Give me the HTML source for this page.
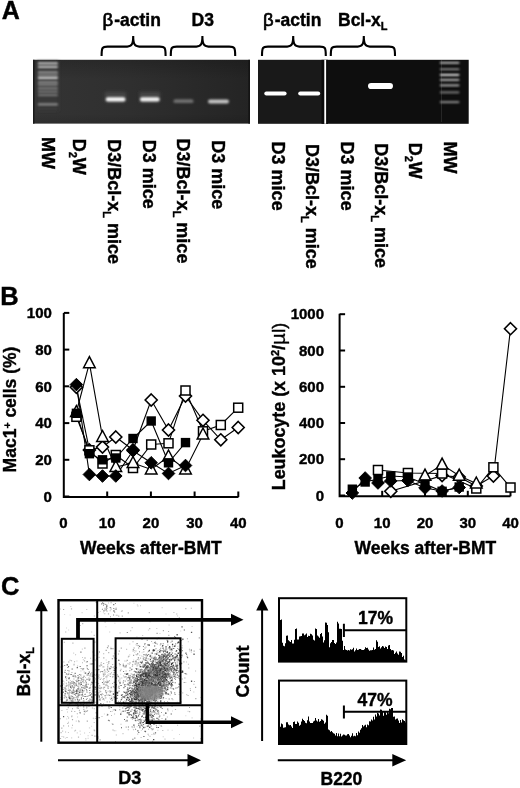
<!DOCTYPE html><html><head><meta charset="utf-8"><style>html,body{margin:0;padding:0;background:#fff;}svg{display:block;will-change:transform;}text{font-family:"Liberation Sans",sans-serif;font-weight:bold;fill:#000;stroke:#000;stroke-width:0.4px;}</style></head><body><svg width="520" height="788" viewBox="0 0 520 788"><text x="1.7" y="19.4" font-size="25">A</text><path d="M101.6,56 C101.6,47.6 102.1,46.6 107.6,46.6 L127.19999999999999,46.6 C131.7,46.6 133.2,44.1 133.2,36 C133.2,44.1 134.7,46.6 139.2,46.6 L159.6,46.6 C165.1,46.6 165.6,47.6 165.6,56" fill="none" stroke="#000" stroke-width="2.1"/><path d="M170.8,56 C170.8,47.6 171.3,46.6 176.8,46.6 L196.4,46.6 C200.9,46.6 202.4,44.1 202.4,36 C202.4,44.1 203.9,46.6 208.4,46.6 L229.2,46.6 C234.7,46.6 235.2,47.6 235.2,56" fill="none" stroke="#000" stroke-width="2.1"/><path d="M262,56 C262,47.6 262.5,46.6 268,46.6 L287.2,46.6 C291.7,46.6 293.2,44.1 293.2,36 C293.2,44.1 294.7,46.6 299.2,46.6 L319.8,46.6 C325.3,46.6 325.8,47.6 325.8,56" fill="none" stroke="#000" stroke-width="2.1"/><path d="M330.8,56 C330.8,47.6 331.3,46.6 336.8,46.6 L357.8,46.6 C362.3,46.6 363.8,44.1 363.8,36 C363.8,44.1 365.3,46.6 369.8,46.6 L389,46.6 C394.5,46.6 395,47.6 395,56" fill="none" stroke="#000" stroke-width="2.1"/><text x="102.5" y="25.5" font-size="17.5"><tspan font-weight="normal" font-size="18.5" stroke-width="0.7">β</tspan><tspan dx="1">-actin</tspan></text><text x="191.5" y="25.5" font-size="17.5">D3</text><text x="263" y="25.5" font-size="17.5"><tspan font-weight="normal" font-size="18.5" stroke-width="0.7">β</tspan><tspan dx="1">-actin</tspan></text><text x="338" y="25.5" font-size="17.5">Bcl-x<tspan font-size="11" dy="4.5">L</tspan></text><defs><filter id="b1" x="-50%" y="-100%" width="200%" height="300%"><feGaussianBlur stdDeviation="1.1"/></filter><filter id="b2" x="-50%" y="-100%" width="200%" height="300%"><feGaussianBlur stdDeviation="0.7"/></filter></defs><defs><linearGradient id="g1" x1="0" y1="0" x2="1" y2="0"><stop offset="0" stop-color="#343434"/><stop offset="0.45" stop-color="#2f2f2f"/><stop offset="1" stop-color="#242424"/></linearGradient><linearGradient id="g2" x1="0" y1="0" x2="0" y2="1"><stop offset="0" stop-color="#000" stop-opacity="0.18"/><stop offset="0.3" stop-color="#000" stop-opacity="0"/><stop offset="0.85" stop-color="#000" stop-opacity="0"/><stop offset="1" stop-color="#000" stop-opacity="0.12"/></linearGradient></defs><rect x="33" y="59.8" width="217" height="63.8" fill="url(#g1)"/><rect x="33" y="59.8" width="217" height="63.8" fill="url(#g2)"/><rect x="33" y="59.8" width="1.5" height="63.8" fill="#1a1a1a"/><rect x="248.3" y="59.8" width="1.7" height="63.8" fill="#141414"/><rect x="258" y="59.8" width="67" height="64" fill="#191919"/><rect x="325" y="59.8" width="143.7" height="64" fill="#0e0e0e"/><rect x="321.5" y="59.8" width="6.5" height="64" fill="#0a0a0a"/><rect x="324.3" y="59.8" width="1.8" height="64" fill="#fff"/><defs><filter id="b3" x="-50%" y="-50%" width="200%" height="200%"><feGaussianBlur stdDeviation="1.6"/></filter><filter id="b4" x="-50%" y="-100%" width="200%" height="300%"><feGaussianBlur stdDeviation="0.8 0.9"/></filter></defs><rect x="37" y="61" width="21.5" height="50" fill="#383838" filter="url(#b3)"/><rect x="37.8" y="62.6" width="20.200000000000003" height="1.7" rx="1" fill="rgb(225,225,225)" filter="url(#b4)"/><rect x="37.8" y="66.0" width="20.200000000000003" height="1.7" rx="1" fill="rgb(225,225,225)" filter="url(#b4)"/><rect x="37.8" y="71.6" width="20.200000000000003" height="1.7" rx="1" fill="rgb(170,170,170)" filter="url(#b4)"/><rect x="37.8" y="74.4" width="20.200000000000003" height="1.7" rx="1" fill="rgb(160,160,160)" filter="url(#b4)"/><rect x="37.8" y="77.1" width="20.200000000000003" height="1.7" rx="1" fill="rgb(250,250,250)" filter="url(#b4)"/><rect x="37.8" y="81.4" width="20.200000000000003" height="1.7" rx="1" fill="rgb(170,170,170)" filter="url(#b4)"/><rect x="37.8" y="83.7" width="20.200000000000003" height="1.7" rx="1" fill="rgb(150,150,150)" filter="url(#b4)"/><rect x="37.8" y="87.6" width="20.200000000000003" height="1.7" rx="1" fill="rgb(145,145,145)" filter="url(#b4)"/><rect x="37.8" y="90.8" width="20.200000000000003" height="1.7" rx="1" fill="rgb(135,135,135)" filter="url(#b4)"/><rect x="37.8" y="94.2" width="20.200000000000003" height="1.7" rx="1" fill="rgb(130,130,130)" filter="url(#b4)"/><rect x="37.8" y="103.6" width="20.200000000000003" height="1.7" rx="1" fill="rgb(160,160,160)" filter="url(#b4)"/><rect x="441" y="60" width="0.8" height="62" fill="#2e2e2e"/><rect x="439.8" y="61.9" width="19.69999999999999" height="1.7" rx="1" fill="rgb(235,235,235)" filter="url(#b4)"/><rect x="439.8" y="68.4" width="19.69999999999999" height="1.7" rx="1" fill="rgb(170,170,170)" filter="url(#b4)"/><rect x="439.8" y="74.0" width="19.69999999999999" height="1.7" rx="1" fill="rgb(255,255,255)" filter="url(#b4)"/><rect x="439.8" y="79.0" width="19.69999999999999" height="1.7" rx="1" fill="rgb(205,205,205)" filter="url(#b4)"/><rect x="439.8" y="84.5" width="19.69999999999999" height="1.7" rx="1" fill="rgb(195,195,195)" filter="url(#b4)"/><rect x="439.8" y="91.5" width="19.69999999999999" height="1.7" rx="1" fill="rgb(140,140,140)" filter="url(#b4)"/><rect x="439.8" y="101.2" width="19.69999999999999" height="1.7" rx="1" fill="rgb(160,160,160)" filter="url(#b4)"/><rect x="105" y="92" width="21" height="10" fill="#444" filter="url(#b3)"/><rect x="139.5" y="92" width="20.5" height="10" fill="#444" filter="url(#b3)"/><rect x="105.8" y="97.30000000000001" width="19.60000000000001" height="4.2" rx="2.1" fill="#f6f6f6" filter="url(#b1)"/><rect x="140" y="97.30000000000001" width="19.599999999999994" height="4.2" rx="2.1" fill="#f2f2f2" filter="url(#b1)"/><rect x="173.5" y="99.3" width="20.0" height="3.8" rx="1.9" fill="#707070" filter="url(#b1)"/><rect x="208" y="99.5" width="21" height="4" rx="2.0" fill="#c4c4c4" filter="url(#b1)"/><rect x="264.3" y="91.4" width="22.30000000000001" height="4.2" rx="2.1" fill="#fff" filter="url(#b2)"/><rect x="298.2" y="91.4" width="22.0" height="4.2" rx="2.1" fill="#fff" filter="url(#b2)"/><rect x="368" y="82.9" width="25" height="6.2" rx="3.1" fill="#fff" filter="url(#b2)"/><text transform="translate(42.0,137.0) rotate(90)" font-size="18">MW</text><text transform="translate(72.6,138.7) rotate(90)" font-size="18">D<tspan font-size="11" dy="3.6">2</tspan><tspan dy="-3.6">W</tspan></text><text transform="translate(107.9,139.3) rotate(90)" font-size="18">D3/Bcl-x<tspan font-size="11" dy="4.4">L</tspan><tspan dy="-4.4"> mice</tspan></text><text transform="translate(142.5,139.8) rotate(90)" font-size="18">D3 mice</text><text transform="translate(177.2,138.6) rotate(90)" font-size="18">D3/Bcl-x<tspan font-size="11" dy="4.4">L</tspan><tspan dy="-4.4"> mice</tspan></text><text transform="translate(211.8,140.2) rotate(90)" font-size="18">D3 mice</text><text transform="translate(271.6,141.6) rotate(90)" font-size="18">D3 mice</text><text transform="translate(305.5,144.0) rotate(90)" font-size="18">D3/Bcl-x<tspan font-size="11" dy="4.4">L</tspan><tspan dy="-4.4"> mice</tspan></text><text transform="translate(340.5,141.6) rotate(90)" font-size="18">D3 mice</text><text transform="translate(375.2,143.3) rotate(90)" font-size="18">D3/Bcl-x<tspan font-size="11" dy="4.4">L</tspan><tspan dy="-4.4"> mice</tspan></text><text transform="translate(409.1,142.7) rotate(90)" font-size="18">D<tspan font-size="11" dy="3.6">2</tspan><tspan dy="-3.6">W</tspan></text><text transform="translate(443.5,141.6) rotate(90)" font-size="18">MW</text><text x="0.3" y="305" font-size="25.5">B</text><path d="M63.8,312.9 V497 H238.5" fill="none" stroke="#000" stroke-width="2"/><line x1="63.8" y1="496.5" x2="69.3" y2="496.5" stroke="#000" stroke-width="2"/><text x="51.9" y="501.7" font-size="15" text-anchor="end">0</text><line x1="63.8" y1="459.8" x2="69.3" y2="459.8" stroke="#000" stroke-width="2"/><text x="51.9" y="465.0" font-size="15" text-anchor="end">20</text><line x1="63.8" y1="423.1" x2="69.3" y2="423.1" stroke="#000" stroke-width="2"/><text x="51.9" y="428.3" font-size="15" text-anchor="end">40</text><line x1="63.8" y1="386.3" x2="69.3" y2="386.3" stroke="#000" stroke-width="2"/><text x="51.9" y="391.5" font-size="15" text-anchor="end">60</text><line x1="63.8" y1="349.6" x2="69.3" y2="349.6" stroke="#000" stroke-width="2"/><text x="51.9" y="354.8" font-size="15" text-anchor="end">80</text><line x1="63.8" y1="312.9" x2="69.3" y2="312.9" stroke="#000" stroke-width="2"/><text x="51.9" y="318.1" font-size="15" text-anchor="end">100</text><text x="63.5" y="528" font-size="15" text-anchor="middle">0</text><line x1="107.2" y1="497" x2="107.2" y2="491.5" stroke="#000" stroke-width="2"/><text x="107.2" y="528" font-size="15" text-anchor="middle">10</text><line x1="150.9" y1="497" x2="150.9" y2="491.5" stroke="#000" stroke-width="2"/><text x="150.9" y="528" font-size="15" text-anchor="middle">20</text><line x1="194.6" y1="497" x2="194.6" y2="491.5" stroke="#000" stroke-width="2"/><text x="194.6" y="528" font-size="15" text-anchor="middle">30</text><line x1="238.3" y1="497" x2="238.3" y2="491.5" stroke="#000" stroke-width="2"/><text x="238.3" y="528" font-size="15" text-anchor="middle">40</text><text x="80" y="553.8" font-size="17.5">Weeks after-BMT</text><text transform="translate(16.2,472.4) rotate(-90)" font-size="17.5">Mac1<tspan font-size="10.5" dy="-4.8" stroke-width="0.2">+</tspan><tspan dy="4.8"> cells (%)</tspan></text><path d="M339.6,313.75 V496.3 H510.5" fill="none" stroke="#000" stroke-width="2"/><line x1="339.6" y1="495.5" x2="345.1" y2="495.5" stroke="#000" stroke-width="2"/><text x="324" y="500.7" font-size="15" text-anchor="end">0</text><line x1="339.6" y1="459.2" x2="345.1" y2="459.2" stroke="#000" stroke-width="2"/><text x="324" y="464.4" font-size="15" text-anchor="end">200</text><line x1="339.6" y1="423.0" x2="345.1" y2="423.0" stroke="#000" stroke-width="2"/><text x="324" y="428.2" font-size="15" text-anchor="end">400</text><line x1="339.6" y1="386.8" x2="345.1" y2="386.8" stroke="#000" stroke-width="2"/><text x="324" y="391.9" font-size="15" text-anchor="end">600</text><line x1="339.6" y1="350.5" x2="345.1" y2="350.5" stroke="#000" stroke-width="2"/><text x="324" y="355.7" font-size="15" text-anchor="end">800</text><line x1="339.6" y1="314.2" x2="345.1" y2="314.2" stroke="#000" stroke-width="2"/><text x="324" y="319.4" font-size="15" text-anchor="end">1000</text><text x="339.5" y="528" font-size="15" text-anchor="middle">0</text><line x1="382.2" y1="496.3" x2="382.2" y2="490.8" stroke="#000" stroke-width="2"/><text x="382.2" y="528" font-size="15" text-anchor="middle">10</text><line x1="425.0" y1="496.3" x2="425.0" y2="490.8" stroke="#000" stroke-width="2"/><text x="425.0" y="528" font-size="15" text-anchor="middle">20</text><line x1="467.8" y1="496.3" x2="467.8" y2="490.8" stroke="#000" stroke-width="2"/><text x="467.8" y="528" font-size="15" text-anchor="middle">30</text><line x1="510.5" y1="496.3" x2="510.5" y2="490.8" stroke="#000" stroke-width="2"/><text x="510.5" y="528" font-size="15" text-anchor="middle">40</text><text x="354.5" y="553.8" font-size="17.5">Weeks after-BMT</text><text transform="translate(285.2,490.3) rotate(-90)" font-size="17.9">Leukocyte (x 10<tspan font-size="11" dy="-6">2</tspan><tspan dy="6">/</tspan><tspan font-weight="normal" font-size="20.5" stroke-width="0.3">µ</tspan><tspan font-weight="normal" stroke-width="0.5" dx="0.5">l)</tspan></text><polyline points="76.4,387.3 89.4,450.0 102.5,447.0 115.8,437.0 133.0,450.0 151.2,400.0 168.5,430.0 185.5,396.0 203.0,420.3 220.8,439.8 238.2,427.5" fill="none" stroke="#000" stroke-width="1.1"/><polyline points="76.4,416.8 89.4,450.3 102.5,463.5 115.8,455.0 133.0,468.0 151.2,444.5 168.5,443.3 185.5,390.5 203.0,431.3 220.8,425.0 238.2,407.7" fill="none" stroke="#000" stroke-width="1.1"/><polyline points="76.4,412.0 89.4,363.2 102.5,437.0 115.8,467.0 133.0,463.0 151.2,469.5 168.5,456.5 185.5,469.5 203.0,434.5" fill="none" stroke="#000" stroke-width="1.1"/><polyline points="76.4,413.3 89.4,453.7 102.5,459.8 115.8,458.0 133.0,438.5 151.2,421.0 168.5,462.8 185.5,442.6" fill="none" stroke="#000" stroke-width="1.1"/><polyline points="76.4,384.6 89.4,474.5 102.5,476.0 115.8,476.0 133.0,450.8 151.2,462.8 168.5,473.5 185.5,465.5" fill="none" stroke="#000" stroke-width="1.1"/><path d="M76.4,381.3 L82.4,387.3 L76.4,393.3 L70.4,387.3 Z" fill="#fff" stroke="#000" stroke-width="1.6"/><path d="M89.4,444.0 L95.4,450 L89.4,456.0 L83.4,450 Z" fill="#fff" stroke="#000" stroke-width="1.6"/><path d="M102.5,441.0 L108.5,447 L102.5,453.0 L96.5,447 Z" fill="#fff" stroke="#000" stroke-width="1.6"/><path d="M115.8,431.0 L121.8,437 L115.8,443.0 L109.8,437 Z" fill="#fff" stroke="#000" stroke-width="1.6"/><path d="M133,444.0 L139.0,450 L133,456.0 L127.0,450 Z" fill="#fff" stroke="#000" stroke-width="1.6"/><path d="M151.2,394.0 L157.2,400 L151.2,406.0 L145.2,400 Z" fill="#fff" stroke="#000" stroke-width="1.6"/><path d="M168.5,424.0 L174.5,430 L168.5,436.0 L162.5,430 Z" fill="#fff" stroke="#000" stroke-width="1.6"/><path d="M185.5,390.0 L191.5,396 L185.5,402.0 L179.5,396 Z" fill="#fff" stroke="#000" stroke-width="1.6"/><path d="M203,414.3 L209.0,420.3 L203,426.3 L197.0,420.3 Z" fill="#fff" stroke="#000" stroke-width="1.6"/><path d="M220.8,433.8 L226.8,439.8 L220.8,445.8 L214.8,439.8 Z" fill="#fff" stroke="#000" stroke-width="1.6"/><path d="M238.2,421.5 L244.2,427.5 L238.2,433.5 L232.2,427.5 Z" fill="#fff" stroke="#000" stroke-width="1.6"/><rect x="71.9" y="412.3" width="9.0" height="9.0" fill="#fff" stroke="#000" stroke-width="1.5"/><rect x="84.9" y="445.8" width="9.0" height="9.0" fill="#fff" stroke="#000" stroke-width="1.5"/><rect x="98.0" y="459.0" width="9.0" height="9.0" fill="#fff" stroke="#000" stroke-width="1.5"/><rect x="111.3" y="450.5" width="9.0" height="9.0" fill="#fff" stroke="#000" stroke-width="1.5"/><rect x="128.5" y="463.5" width="9.0" height="9.0" fill="#fff" stroke="#000" stroke-width="1.5"/><rect x="146.7" y="440.0" width="9.0" height="9.0" fill="#fff" stroke="#000" stroke-width="1.5"/><rect x="164.0" y="438.8" width="9.0" height="9.0" fill="#fff" stroke="#000" stroke-width="1.5"/><rect x="181.0" y="386.0" width="9.0" height="9.0" fill="#fff" stroke="#000" stroke-width="1.5"/><rect x="198.5" y="426.8" width="9.0" height="9.0" fill="#fff" stroke="#000" stroke-width="1.5"/><rect x="216.3" y="420.5" width="9.0" height="9.0" fill="#fff" stroke="#000" stroke-width="1.5"/><rect x="233.7" y="403.2" width="9.0" height="9.0" fill="#fff" stroke="#000" stroke-width="1.5"/><path d="M76.4,405.5 L82.2,416.5 L70.60000000000001,416.5 Z" fill="#fff" stroke="#000" stroke-width="1.5"/><path d="M89.4,356.7 L95.2,367.7 L83.60000000000001,367.7 Z" fill="#fff" stroke="#000" stroke-width="1.5"/><path d="M102.5,430.5 L108.3,441.5 L96.7,441.5 Z" fill="#fff" stroke="#000" stroke-width="1.5"/><path d="M115.8,460.5 L121.6,471.5 L110.0,471.5 Z" fill="#fff" stroke="#000" stroke-width="1.5"/><path d="M133,456.5 L138.8,467.5 L127.2,467.5 Z" fill="#fff" stroke="#000" stroke-width="1.5"/><path d="M151.2,463.0 L157.0,474.0 L145.39999999999998,474.0 Z" fill="#fff" stroke="#000" stroke-width="1.5"/><path d="M168.5,450.0 L174.3,461.0 L162.7,461.0 Z" fill="#fff" stroke="#000" stroke-width="1.5"/><path d="M185.5,463.0 L191.3,474.0 L179.7,474.0 Z" fill="#fff" stroke="#000" stroke-width="1.5"/><path d="M203,428.0 L208.8,439.0 L197.2,439.0 Z" fill="#fff" stroke="#000" stroke-width="1.5"/><rect x="71.7" y="408.6" width="9.4" height="9.4" fill="#000"/><rect x="84.7" y="449.0" width="9.4" height="9.4" fill="#000"/><rect x="97.8" y="455.1" width="9.4" height="9.4" fill="#000"/><rect x="111.1" y="453.3" width="9.4" height="9.4" fill="#000"/><rect x="128.3" y="433.8" width="9.4" height="9.4" fill="#000"/><rect x="146.5" y="416.3" width="9.4" height="9.4" fill="#000"/><rect x="163.8" y="458.1" width="9.4" height="9.4" fill="#000"/><rect x="180.8" y="437.90000000000003" width="9.4" height="9.4" fill="#000"/><path d="M76.4,378.3 L82.7,384.6 L76.4,390.90000000000003 L70.10000000000001,384.6 Z" fill="#000" stroke="#000" stroke-width="1"/><path d="M89.4,468.2 L95.7,474.5 L89.4,480.8 L83.10000000000001,474.5 Z" fill="#000" stroke="#000" stroke-width="1"/><path d="M102.5,469.7 L108.8,476 L102.5,482.3 L96.2,476 Z" fill="#000" stroke="#000" stroke-width="1"/><path d="M115.8,469.7 L122.1,476 L115.8,482.3 L109.5,476 Z" fill="#000" stroke="#000" stroke-width="1"/><path d="M133,444.5 L139.3,450.8 L133,457.1 L126.7,450.8 Z" fill="#000" stroke="#000" stroke-width="1"/><path d="M151.2,456.5 L157.5,462.8 L151.2,469.1 L144.89999999999998,462.8 Z" fill="#000" stroke="#000" stroke-width="1"/><path d="M168.5,467.2 L174.8,473.5 L168.5,479.8 L162.2,473.5 Z" fill="#000" stroke="#000" stroke-width="1"/><path d="M185.5,459.2 L191.8,465.5 L185.5,471.8 L179.2,465.5 Z" fill="#000" stroke="#000" stroke-width="1"/><polyline points="390.8,491.3 442.1,475.6 459.2,477.0 476.3,486.0 493.4,476.0 510.5,328.7" fill="none" stroke="#000" stroke-width="1.1"/><polyline points="378.0,470.0 407.9,473.0 442.1,473.5 476.3,488.5 493.4,467.3 510.5,487.5" fill="none" stroke="#000" stroke-width="1.1"/><polyline points="425.0,475.7 442.1,464.6 459.2,475.7 476.3,483.5" fill="none" stroke="#000" stroke-width="1.1"/><polyline points="352.3,489.2 365.1,482.0 378.0,479.0 390.8,476.0 407.9,477.0 425.0,484.0 442.1,491.3 459.2,487.0" fill="none" stroke="#000" stroke-width="1.1"/><polyline points="352.3,493.0 365.1,478.0 378.0,483.0 390.8,481.0 407.9,480.5 425.0,488.0 442.1,491.0 459.2,487.5" fill="none" stroke="#000" stroke-width="1.1"/><path d="M390.8,485.3 L396.8,491.3 L390.8,497.3 L384.8,491.3 Z" fill="#fff" stroke="#000" stroke-width="1.6"/><path d="M442.1,469.6 L448.1,475.6 L442.1,481.6 L436.1,475.6 Z" fill="#fff" stroke="#000" stroke-width="1.6"/><path d="M459.20000000000005,471.0 L465.20000000000005,477 L459.20000000000005,483.0 L453.20000000000005,477 Z" fill="#fff" stroke="#000" stroke-width="1.6"/><path d="M476.3,480.0 L482.3,486 L476.3,492.0 L470.3,486 Z" fill="#fff" stroke="#000" stroke-width="1.6"/><path d="M493.4,470.0 L499.4,476 L493.4,482.0 L487.4,476 Z" fill="#fff" stroke="#000" stroke-width="1.6"/><path d="M510.5,322.7 L516.5,328.7 L510.5,334.7 L504.5,328.7 Z" fill="#fff" stroke="#000" stroke-width="1.6"/><rect x="373.475" y="465.5" width="9.0" height="9.0" fill="#fff" stroke="#000" stroke-width="1.5"/><rect x="403.4" y="468.5" width="9.0" height="9.0" fill="#fff" stroke="#000" stroke-width="1.5"/><rect x="437.6" y="469.0" width="9.0" height="9.0" fill="#fff" stroke="#000" stroke-width="1.5"/><rect x="471.8" y="484.0" width="9.0" height="9.0" fill="#fff" stroke="#000" stroke-width="1.5"/><rect x="488.9" y="462.8" width="9.0" height="9.0" fill="#fff" stroke="#000" stroke-width="1.5"/><rect x="506.0" y="483.0" width="9.0" height="9.0" fill="#fff" stroke="#000" stroke-width="1.5"/><path d="M425.0,469.2 L430.8,480.2 L419.2,480.2 Z" fill="#fff" stroke="#000" stroke-width="1.5"/><path d="M442.1,458.1 L447.90000000000003,469.1 L436.3,469.1 Z" fill="#fff" stroke="#000" stroke-width="1.5"/><path d="M459.20000000000005,469.2 L465.00000000000006,480.2 L453.40000000000003,480.2 Z" fill="#fff" stroke="#000" stroke-width="1.5"/><path d="M476.3,477.0 L482.1,488.0 L470.5,488.0 Z" fill="#fff" stroke="#000" stroke-width="1.5"/><rect x="347.625" y="484.5" width="9.4" height="9.4" fill="#000"/><rect x="360.45" y="477.3" width="9.4" height="9.4" fill="#000"/><rect x="373.27500000000003" y="474.3" width="9.4" height="9.4" fill="#000"/><rect x="386.1" y="471.3" width="9.4" height="9.4" fill="#000"/><rect x="403.2" y="472.3" width="9.4" height="9.4" fill="#000"/><rect x="420.3" y="479.3" width="9.4" height="9.4" fill="#000"/><rect x="437.40000000000003" y="486.6" width="9.4" height="9.4" fill="#000"/><rect x="454.50000000000006" y="482.3" width="9.4" height="9.4" fill="#000"/><path d="M352.325,486.7 L358.625,493 L352.325,499.3 L346.025,493 Z" fill="#000" stroke="#000" stroke-width="1"/><path d="M365.15,471.7 L371.45,478 L365.15,484.3 L358.84999999999997,478 Z" fill="#000" stroke="#000" stroke-width="1"/><path d="M377.975,476.7 L384.27500000000003,483 L377.975,489.3 L371.675,483 Z" fill="#000" stroke="#000" stroke-width="1"/><path d="M390.8,474.7 L397.1,481 L390.8,487.3 L384.5,481 Z" fill="#000" stroke="#000" stroke-width="1"/><path d="M407.9,474.2 L414.2,480.5 L407.9,486.8 L401.59999999999997,480.5 Z" fill="#000" stroke="#000" stroke-width="1"/><path d="M425.0,481.7 L431.3,488 L425.0,494.3 L418.7,488 Z" fill="#000" stroke="#000" stroke-width="1"/><path d="M442.1,484.7 L448.40000000000003,491 L442.1,497.3 L435.8,491 Z" fill="#000" stroke="#000" stroke-width="1"/><path d="M459.20000000000005,481.2 L465.50000000000006,487.5 L459.20000000000005,493.8 L452.90000000000003,487.5 Z" fill="#000" stroke="#000" stroke-width="1"/><text x="1" y="594.5" font-size="25.5">C</text><path fill="rgb(170,170,170)" d="M104.6 621.4h1.0v1.0h-1.0zM176.3 613.4h1.0v1.0h-1.0zM63.4 661.6h1.0v1.0h-1.0zM71.1 660.3h1.0v1.0h-1.0zM72.0 701.1h1.0v1.0h-1.0zM73.8 685.3h1.0v1.0h-1.0zM132.5 650.5h1.0v1.0h-1.0zM188.9 648.8h1.0v1.0h-1.0zM60.1 737.9h1.0v1.0h-1.0zM78.4 687.9h1.0v1.0h-1.0zM68.5 695.1h1.0v1.0h-1.0zM186.9 638.2h1.0v1.0h-1.0zM189.8 688.3h1.0v1.0h-1.0zM189.0 706.9h1.0v1.0h-1.0zM112.2 664.1h1.0v1.0h-1.0zM165.8 671.4h1.0v1.0h-1.0zM124.9 666.2h1.0v1.0h-1.0zM95.6 712.2h1.0v1.0h-1.0zM127.8 729.3h1.0v1.0h-1.0zM190.8 607.7h1.0v1.0h-1.0zM69.6 659.7h1.0v1.0h-1.0zM190.0 690.0h1.0v1.0h-1.0zM110.1 711.1h1.0v1.0h-1.0zM152.1 740.7h1.0v1.0h-1.0zM63.8 641.7h1.0v1.0h-1.0zM169.6 694.4h1.0v1.0h-1.0zM78.2 720.3h1.0v1.0h-1.0zM61.1 684.3h1.0v1.0h-1.0zM69.0 692.3h1.0v1.0h-1.0zM80.9 703.7h1.0v1.0h-1.0zM74.1 661.3h1.0v1.0h-1.0zM68.1 717.5h1.0v1.0h-1.0zM82.7 700.5h1.0v1.0h-1.0zM80.2 691.0h1.0v1.0h-1.0zM62.0 671.8h1.0v1.0h-1.0zM86.1 703.4h1.0v1.0h-1.0zM69.8 685.1h1.0v1.0h-1.0zM86.6 702.4h1.0v1.0h-1.0zM81.0 691.7h1.0v1.0h-1.0zM74.3 710.9h1.0v1.0h-1.0zM63.2 736.5h1.0v1.0h-1.0zM72.0 724.7h1.0v1.0h-1.0zM66.5 736.9h1.0v1.0h-1.0zM76.8 713.3h1.0v1.0h-1.0zM84.7 711.6h1.0v1.0h-1.0zM68.0 725.6h1.0v1.0h-1.0zM105.4 704.6h1.0v1.0h-1.0zM98.5 695.0h1.0v1.0h-1.0zM117.1 691.6h1.0v1.0h-1.0zM110.3 698.9h1.0v1.0h-1.0zM103.0 698.1h1.0v1.0h-1.0zM98.5 691.9h1.0v1.0h-1.0zM103.2 653.3h1.0v1.0h-1.0zM103.4 673.7h1.0v1.0h-1.0zM93.7 708.2h1.0v1.0h-1.0zM112.1 676.6h1.0v1.0h-1.0zM109.5 705.6h1.0v1.0h-1.0zM101.7 671.0h1.0v1.0h-1.0zM104.3 669.8h1.0v1.0h-1.0zM106.8 713.8h1.0v1.0h-1.0zM101.5 706.1h1.0v1.0h-1.0zM132.8 680.0h1.0v1.0h-1.0zM160.2 693.7h1.0v1.0h-1.0zM115.9 692.3h1.0v1.0h-1.0zM143.7 675.2h1.0v1.0h-1.0zM151.4 655.7h1.0v1.0h-1.0zM168.8 682.9h1.0v1.0h-1.0zM158.9 654.9h1.0v1.0h-1.0zM163.9 681.5h1.0v1.0h-1.0zM128.3 675.0h1.0v1.0h-1.0zM147.9 668.9h1.0v1.0h-1.0zM166.0 689.6h1.0v1.0h-1.0zM149.9 657.5h1.0v1.0h-1.0zM159.1 678.7h1.0v1.0h-1.0zM157.1 660.6h1.0v1.0h-1.0zM156.3 706.4h1.0v1.0h-1.0zM168.1 631.0h1.0v1.0h-1.0zM153.9 680.2h1.0v1.0h-1.0zM170.4 688.0h1.0v1.0h-1.0zM146.6 675.8h1.0v1.0h-1.0zM144.9 654.7h1.0v1.0h-1.0zM147.4 673.3h1.0v1.0h-1.0zM132.5 641.2h1.0v1.0h-1.0zM167.2 668.8h1.0v1.0h-1.0zM155.6 699.0h1.0v1.0h-1.0zM150.1 677.1h1.0v1.0h-1.0zM135.4 650.6h1.0v1.0h-1.0zM169.2 683.3h1.0v1.0h-1.0zM127.5 663.3h1.0v1.0h-1.0zM136.3 674.1h1.0v1.0h-1.0zM138.4 682.5h1.0v1.0h-1.0zM188.3 667.5h1.0v1.0h-1.0zM161.2 667.0h1.0v1.0h-1.0zM147.9 651.0h1.0v1.0h-1.0zM136.8 659.0h1.0v1.0h-1.0zM136.2 662.3h1.0v1.0h-1.0zM157.0 663.6h1.0v1.0h-1.0zM154.4 666.7h1.0v1.0h-1.0zM165.2 677.2h1.0v1.0h-1.0zM153.2 684.7h1.0v1.0h-1.0zM152.1 664.7h1.0v1.0h-1.0zM165.7 712.7h1.0v1.0h-1.0zM184.2 673.1h1.0v1.0h-1.0zM157.4 677.3h1.0v1.0h-1.0zM130.4 681.3h1.0v1.0h-1.0zM149.4 674.1h1.0v1.0h-1.0zM150.2 674.0h1.0v1.0h-1.0zM170.3 658.3h1.0v1.0h-1.0zM117.8 687.3h1.0v1.0h-1.0zM156.4 683.8h1.0v1.0h-1.0zM146.9 668.4h1.0v1.0h-1.0zM193.4 683.7h1.0v1.0h-1.0zM127.7 687.7h1.0v1.0h-1.0zM167.5 710.3h1.0v1.0h-1.0zM148.7 694.2h1.0v1.0h-1.0zM141.8 715.5h1.0v1.0h-1.0zM142.7 725.8h1.0v1.0h-1.0zM136.8 710.2h1.0v1.0h-1.0zM138.1 698.6h1.0v1.0h-1.0zM147.5 691.9h1.0v1.0h-1.0zM149.2 719.0h1.0v1.0h-1.0zM138.2 706.1h1.0v1.0h-1.0zM162.3 730.0h1.0v1.0h-1.0zM149.7 723.8h1.0v1.0h-1.0zM150.9 716.4h1.0v1.0h-1.0z"/><path fill="rgb(170,170,170)" d="M148.8 682.8h1.2v1.2h-1.2zM99.5 739.2h1.2v1.2h-1.2zM193.5 650.5h1.2v1.2h-1.2zM195.2 698.1h1.2v1.2h-1.2zM127.7 612.2h1.2v1.2h-1.2zM106.6 668.5h1.2v1.2h-1.2zM179.0 619.5h1.2v1.2h-1.2zM118.7 650.6h1.2v1.2h-1.2zM96.1 617.3h1.2v1.2h-1.2zM144.2 698.4h1.2v1.2h-1.2zM84.7 638.2h1.2v1.2h-1.2zM84.3 647.6h1.2v1.2h-1.2zM165.4 667.3h1.2v1.2h-1.2zM117.9 653.4h1.2v1.2h-1.2zM181.0 639.9h1.2v1.2h-1.2zM112.3 648.0h1.2v1.2h-1.2zM121.7 615.5h1.2v1.2h-1.2zM174.9 708.9h1.2v1.2h-1.2zM63.0 608.9h1.2v1.2h-1.2zM97.2 736.0h1.2v1.2h-1.2zM199.2 725.5h1.2v1.2h-1.2zM86.1 710.7h1.2v1.2h-1.2zM81.7 689.0h1.2v1.2h-1.2zM92.4 686.2h1.2v1.2h-1.2zM64.7 669.8h1.2v1.2h-1.2zM91.3 663.8h1.2v1.2h-1.2zM83.2 682.1h1.2v1.2h-1.2zM94.6 678.4h1.2v1.2h-1.2zM82.3 691.0h1.2v1.2h-1.2zM73.5 702.1h1.2v1.2h-1.2zM64.5 693.4h1.2v1.2h-1.2zM80.2 681.5h1.2v1.2h-1.2zM92.3 673.7h1.2v1.2h-1.2zM68.3 685.2h1.2v1.2h-1.2zM75.4 676.4h1.2v1.2h-1.2zM70.1 683.5h1.2v1.2h-1.2zM78.4 676.3h1.2v1.2h-1.2zM95.8 712.3h1.2v1.2h-1.2zM86.7 720.5h1.2v1.2h-1.2zM78.4 721.1h1.2v1.2h-1.2zM86.3 706.3h1.2v1.2h-1.2zM94.3 735.6h1.2v1.2h-1.2zM83.7 713.6h1.2v1.2h-1.2zM61.2 727.6h1.2v1.2h-1.2zM71.9 719.1h1.2v1.2h-1.2zM76.6 707.2h1.2v1.2h-1.2zM108.0 670.8h1.2v1.2h-1.2zM113.3 674.0h1.2v1.2h-1.2zM99.7 678.7h1.2v1.2h-1.2zM116.7 674.2h1.2v1.2h-1.2zM118.7 687.7h1.2v1.2h-1.2zM106.3 676.2h1.2v1.2h-1.2zM101.6 693.2h1.2v1.2h-1.2zM103.2 657.3h1.2v1.2h-1.2zM110.7 686.8h1.2v1.2h-1.2zM102.8 673.6h1.2v1.2h-1.2zM101.0 664.6h1.2v1.2h-1.2zM107.4 686.6h1.2v1.2h-1.2zM111.6 699.7h1.2v1.2h-1.2zM130.3 678.9h1.2v1.2h-1.2zM143.1 697.2h1.2v1.2h-1.2zM158.8 663.3h1.2v1.2h-1.2zM161.8 646.1h1.2v1.2h-1.2zM151.5 680.8h1.2v1.2h-1.2zM167.2 644.4h1.2v1.2h-1.2zM162.8 630.1h1.2v1.2h-1.2zM143.9 684.2h1.2v1.2h-1.2zM143.6 673.2h1.2v1.2h-1.2zM144.1 644.0h1.2v1.2h-1.2zM156.0 652.8h1.2v1.2h-1.2zM155.2 694.2h1.2v1.2h-1.2zM158.7 668.9h1.2v1.2h-1.2zM142.7 687.1h1.2v1.2h-1.2zM166.1 675.5h1.2v1.2h-1.2zM133.4 681.5h1.2v1.2h-1.2zM166.9 668.1h1.2v1.2h-1.2zM158.0 678.2h1.2v1.2h-1.2zM171.5 705.9h1.2v1.2h-1.2zM180.4 656.9h1.2v1.2h-1.2zM149.1 670.4h1.2v1.2h-1.2zM141.7 671.7h1.2v1.2h-1.2zM124.7 680.5h1.2v1.2h-1.2zM128.2 655.8h1.2v1.2h-1.2zM140.5 680.9h1.2v1.2h-1.2zM145.8 659.7h1.2v1.2h-1.2zM166.5 639.7h1.2v1.2h-1.2zM120.7 647.6h1.2v1.2h-1.2zM137.5 693.1h1.2v1.2h-1.2zM165.7 671.3h1.2v1.2h-1.2zM153.3 660.0h1.2v1.2h-1.2zM154.8 641.5h1.2v1.2h-1.2zM136.4 698.6h1.2v1.2h-1.2zM159.0 662.0h1.2v1.2h-1.2zM123.8 696.0h1.2v1.2h-1.2zM160.5 656.8h1.2v1.2h-1.2zM149.5 670.1h1.2v1.2h-1.2zM149.8 690.4h1.2v1.2h-1.2zM148.8 685.5h1.2v1.2h-1.2zM134.7 661.3h1.2v1.2h-1.2zM156.1 659.2h1.2v1.2h-1.2zM152.2 667.6h1.2v1.2h-1.2zM149.4 692.6h1.2v1.2h-1.2zM151.9 660.3h1.2v1.2h-1.2zM152.4 728.5h1.2v1.2h-1.2zM150.9 705.0h1.2v1.2h-1.2zM143.9 706.9h1.2v1.2h-1.2zM151.9 722.5h1.2v1.2h-1.2zM145.5 719.2h1.2v1.2h-1.2zM151.9 721.1h1.2v1.2h-1.2zM146.8 710.0h1.2v1.2h-1.2zM144.8 710.0h1.2v1.2h-1.2zM145.0 718.6h1.2v1.2h-1.2zM151.0 713.7h1.2v1.2h-1.2zM133.5 706.8h1.2v1.2h-1.2zM139.9 718.6h1.2v1.2h-1.2zM134.7 707.1h1.2v1.2h-1.2zM141.1 719.2h1.2v1.2h-1.2z"/><path fill="rgb(185,185,185)" d="M65.1 631.4h1.2v1.2h-1.2zM72.8 681.1h1.2v1.2h-1.2zM59.7 718.0h1.2v1.2h-1.2zM171.8 667.1h1.2v1.2h-1.2zM189.0 711.1h1.2v1.2h-1.2zM143.1 666.1h1.2v1.2h-1.2zM94.3 641.6h1.2v1.2h-1.2zM185.2 608.1h1.2v1.2h-1.2zM146.2 671.8h1.2v1.2h-1.2zM121.7 610.3h1.2v1.2h-1.2zM200.5 718.2h1.2v1.2h-1.2zM70.1 638.6h1.2v1.2h-1.2zM70.9 608.2h1.2v1.2h-1.2zM99.8 671.0h1.2v1.2h-1.2zM60.2 704.1h1.2v1.2h-1.2zM199.5 648.7h1.2v1.2h-1.2zM63.0 725.3h1.2v1.2h-1.2zM71.1 716.0h1.2v1.2h-1.2zM148.7 612.0h1.2v1.2h-1.2zM91.8 707.4h1.2v1.2h-1.2zM82.1 623.0h1.2v1.2h-1.2zM72.3 642.6h1.2v1.2h-1.2zM117.8 700.8h1.2v1.2h-1.2zM70.6 700.1h1.2v1.2h-1.2zM111.7 704.8h1.2v1.2h-1.2zM93.6 634.8h1.2v1.2h-1.2zM71.7 685.0h1.2v1.2h-1.2zM66.0 679.7h1.2v1.2h-1.2zM61.7 698.6h1.2v1.2h-1.2zM93.9 677.2h1.2v1.2h-1.2zM73.4 664.4h1.2v1.2h-1.2zM72.1 691.8h1.2v1.2h-1.2zM73.0 689.2h1.2v1.2h-1.2zM78.4 682.9h1.2v1.2h-1.2zM83.9 660.2h1.2v1.2h-1.2zM96.1 681.7h1.2v1.2h-1.2zM79.1 679.9h1.2v1.2h-1.2zM85.0 685.7h1.2v1.2h-1.2zM78.1 693.2h1.2v1.2h-1.2zM88.9 705.4h1.2v1.2h-1.2zM73.5 663.7h1.2v1.2h-1.2zM74.7 684.3h1.2v1.2h-1.2zM64.6 694.3h1.2v1.2h-1.2zM70.0 698.4h1.2v1.2h-1.2zM63.7 697.2h1.2v1.2h-1.2zM68.2 672.8h1.2v1.2h-1.2zM70.9 682.6h1.2v1.2h-1.2zM75.8 682.6h1.2v1.2h-1.2zM77.4 685.9h1.2v1.2h-1.2zM67.7 707.1h1.2v1.2h-1.2zM76.4 679.5h1.2v1.2h-1.2zM89.5 694.5h1.2v1.2h-1.2zM95.6 702.2h1.2v1.2h-1.2zM89.5 687.2h1.2v1.2h-1.2zM78.1 686.8h1.2v1.2h-1.2zM77.9 736.5h1.2v1.2h-1.2zM95.9 735.4h1.2v1.2h-1.2zM71.0 710.7h1.2v1.2h-1.2zM93.6 729.6h1.2v1.2h-1.2zM60.5 732.0h1.2v1.2h-1.2zM91.5 734.7h1.2v1.2h-1.2zM94.0 730.0h1.2v1.2h-1.2zM95.1 717.8h1.2v1.2h-1.2zM67.2 722.9h1.2v1.2h-1.2zM86.9 710.1h1.2v1.2h-1.2zM109.1 701.3h1.2v1.2h-1.2zM102.4 666.3h1.2v1.2h-1.2zM103.5 683.8h1.2v1.2h-1.2zM103.2 666.2h1.2v1.2h-1.2zM107.1 664.2h1.2v1.2h-1.2zM99.7 665.2h1.2v1.2h-1.2zM98.4 706.4h1.2v1.2h-1.2zM103.1 680.6h1.2v1.2h-1.2zM101.3 696.9h1.2v1.2h-1.2zM108.8 667.6h1.2v1.2h-1.2zM113.7 657.2h1.2v1.2h-1.2zM158.6 682.4h1.2v1.2h-1.2zM156.7 643.5h1.2v1.2h-1.2zM163.8 672.8h1.2v1.2h-1.2zM164.1 650.0h1.2v1.2h-1.2zM171.0 686.3h1.2v1.2h-1.2zM165.1 647.7h1.2v1.2h-1.2zM158.5 667.0h1.2v1.2h-1.2zM146.8 669.5h1.2v1.2h-1.2zM146.8 671.4h1.2v1.2h-1.2zM174.4 668.5h1.2v1.2h-1.2zM142.0 668.9h1.2v1.2h-1.2zM135.9 654.1h1.2v1.2h-1.2zM152.0 678.4h1.2v1.2h-1.2zM135.1 680.0h1.2v1.2h-1.2zM160.8 658.9h1.2v1.2h-1.2zM126.1 694.9h1.2v1.2h-1.2zM158.1 711.3h1.2v1.2h-1.2zM159.1 666.1h1.2v1.2h-1.2zM143.2 675.9h1.2v1.2h-1.2zM147.7 658.2h1.2v1.2h-1.2zM135.4 660.5h1.2v1.2h-1.2zM172.2 647.9h1.2v1.2h-1.2zM145.3 664.0h1.2v1.2h-1.2zM119.7 681.7h1.2v1.2h-1.2zM162.1 664.8h1.2v1.2h-1.2zM151.9 678.2h1.2v1.2h-1.2zM143.0 691.2h1.2v1.2h-1.2zM157.2 668.0h1.2v1.2h-1.2zM143.5 670.5h1.2v1.2h-1.2zM152.2 718.0h1.2v1.2h-1.2zM149.1 628.1h1.2v1.2h-1.2zM147.5 719.7h1.2v1.2h-1.2zM140.0 721.4h1.2v1.2h-1.2zM135.1 714.8h1.2v1.2h-1.2zM151.6 712.1h1.2v1.2h-1.2zM134.8 708.2h1.2v1.2h-1.2zM153.2 732.7h1.2v1.2h-1.2zM155.1 710.1h1.2v1.2h-1.2zM148.2 711.9h1.2v1.2h-1.2zM125.2 720.6h1.2v1.2h-1.2zM155.3 704.9h1.2v1.2h-1.2zM136.5 712.0h1.2v1.2h-1.2zM145.3 716.7h1.2v1.2h-1.2zM137.8 708.5h1.2v1.2h-1.2zM144.2 713.1h1.2v1.2h-1.2z"/><path fill="rgb(200,200,200)" d="M118.4 676.8h1.0v1.0h-1.0zM142.3 664.4h1.0v1.0h-1.0zM161.2 726.0h1.0v1.0h-1.0zM82.0 657.0h1.0v1.0h-1.0zM139.6 676.2h1.0v1.0h-1.0zM87.6 735.2h1.0v1.0h-1.0zM157.4 729.8h1.0v1.0h-1.0zM158.3 637.1h1.0v1.0h-1.0zM109.2 631.6h1.0v1.0h-1.0zM186.0 661.6h1.0v1.0h-1.0zM158.7 724.5h1.0v1.0h-1.0zM193.3 691.4h1.0v1.0h-1.0zM113.3 673.5h1.0v1.0h-1.0zM193.1 737.6h1.0v1.0h-1.0zM84.1 732.4h1.0v1.0h-1.0zM108.0 602.6h1.0v1.0h-1.0zM136.6 726.2h1.0v1.0h-1.0zM110.4 646.7h1.0v1.0h-1.0zM70.3 605.9h1.0v1.0h-1.0zM144.4 647.1h1.0v1.0h-1.0zM59.8 608.6h1.0v1.0h-1.0zM77.1 716.5h1.0v1.0h-1.0zM128.8 664.0h1.0v1.0h-1.0zM187.8 641.2h1.0v1.0h-1.0zM83.2 678.9h1.0v1.0h-1.0zM151.0 661.3h1.0v1.0h-1.0zM140.0 605.3h1.0v1.0h-1.0zM95.0 694.8h1.0v1.0h-1.0zM156.3 628.1h1.0v1.0h-1.0zM87.6 737.7h1.0v1.0h-1.0zM91.2 631.4h1.0v1.0h-1.0zM122.7 701.1h1.0v1.0h-1.0zM191.6 626.0h1.0v1.0h-1.0zM151.5 668.4h1.0v1.0h-1.0zM185.3 682.1h1.0v1.0h-1.0zM149.8 700.8h1.0v1.0h-1.0zM86.6 689.8h1.0v1.0h-1.0zM86.4 666.4h1.0v1.0h-1.0zM72.7 690.1h1.0v1.0h-1.0zM77.7 675.3h1.0v1.0h-1.0zM87.3 672.9h1.0v1.0h-1.0zM81.5 668.3h1.0v1.0h-1.0zM69.8 680.1h1.0v1.0h-1.0zM91.9 699.1h1.0v1.0h-1.0zM73.5 693.0h1.0v1.0h-1.0zM76.6 690.8h1.0v1.0h-1.0zM79.9 690.2h1.0v1.0h-1.0zM68.0 681.9h1.0v1.0h-1.0zM80.7 696.8h1.0v1.0h-1.0zM70.0 682.0h1.0v1.0h-1.0zM72.7 701.1h1.0v1.0h-1.0zM86.0 674.4h1.0v1.0h-1.0zM84.9 677.0h1.0v1.0h-1.0zM65.7 697.5h1.0v1.0h-1.0zM90.0 685.3h1.0v1.0h-1.0zM74.9 702.2h1.0v1.0h-1.0zM80.4 670.4h1.0v1.0h-1.0zM96.1 666.3h1.0v1.0h-1.0zM85.8 661.8h1.0v1.0h-1.0zM95.6 715.9h1.0v1.0h-1.0zM67.9 731.9h1.0v1.0h-1.0zM61.5 736.1h1.0v1.0h-1.0zM84.4 710.1h1.0v1.0h-1.0zM67.2 716.1h1.0v1.0h-1.0zM67.0 711.5h1.0v1.0h-1.0zM83.3 710.8h1.0v1.0h-1.0zM102.9 687.9h1.0v1.0h-1.0zM111.6 711.0h1.0v1.0h-1.0zM97.0 638.7h1.0v1.0h-1.0zM119.4 665.3h1.0v1.0h-1.0zM99.3 698.0h1.0v1.0h-1.0zM94.3 654.8h1.0v1.0h-1.0zM114.7 670.0h1.0v1.0h-1.0zM106.4 662.0h1.0v1.0h-1.0zM108.2 674.9h1.0v1.0h-1.0zM99.9 671.8h1.0v1.0h-1.0zM103.5 688.7h1.0v1.0h-1.0zM100.8 677.8h1.0v1.0h-1.0zM113.9 708.9h1.0v1.0h-1.0zM108.2 685.9h1.0v1.0h-1.0zM88.5 677.5h1.0v1.0h-1.0zM98.3 677.8h1.0v1.0h-1.0zM105.2 692.0h1.0v1.0h-1.0zM105.7 659.4h1.0v1.0h-1.0zM150.5 678.6h1.0v1.0h-1.0zM162.2 666.4h1.0v1.0h-1.0zM145.7 655.9h1.0v1.0h-1.0zM124.4 700.2h1.0v1.0h-1.0zM131.6 688.2h1.0v1.0h-1.0zM172.0 644.9h1.0v1.0h-1.0zM152.9 660.6h1.0v1.0h-1.0zM146.1 676.4h1.0v1.0h-1.0zM144.6 648.1h1.0v1.0h-1.0zM200.8 667.9h1.0v1.0h-1.0zM166.1 674.2h1.0v1.0h-1.0zM142.0 684.9h1.0v1.0h-1.0zM165.1 694.0h1.0v1.0h-1.0zM127.9 679.9h1.0v1.0h-1.0zM150.7 652.5h1.0v1.0h-1.0zM157.1 685.6h1.0v1.0h-1.0zM136.4 636.6h1.0v1.0h-1.0zM178.6 694.1h1.0v1.0h-1.0zM161.1 686.8h1.0v1.0h-1.0zM141.2 655.6h1.0v1.0h-1.0zM145.9 682.7h1.0v1.0h-1.0zM157.2 671.2h1.0v1.0h-1.0zM168.2 672.2h1.0v1.0h-1.0zM177.4 677.0h1.0v1.0h-1.0zM145.7 665.7h1.0v1.0h-1.0zM140.2 688.5h1.0v1.0h-1.0zM143.4 672.6h1.0v1.0h-1.0zM129.3 643.4h1.0v1.0h-1.0zM173.2 645.7h1.0v1.0h-1.0zM168.5 678.8h1.0v1.0h-1.0zM150.5 660.9h1.0v1.0h-1.0zM168.6 624.6h1.0v1.0h-1.0zM141.0 669.0h1.0v1.0h-1.0zM166.1 679.2h1.0v1.0h-1.0zM151.2 690.5h1.0v1.0h-1.0zM159.3 649.7h1.0v1.0h-1.0zM154.1 718.8h1.0v1.0h-1.0zM162.7 736.2h1.0v1.0h-1.0zM151.4 733.9h1.0v1.0h-1.0zM147.2 725.9h1.0v1.0h-1.0zM155.5 723.5h1.0v1.0h-1.0zM154.2 704.5h1.0v1.0h-1.0zM142.5 703.6h1.0v1.0h-1.0z"/><path fill="rgb(200,200,200)" d="M129.5 675.5h1.2v1.2h-1.2zM140.7 674.6h1.2v1.2h-1.2zM63.6 694.9h1.2v1.2h-1.2zM176.0 722.7h1.2v1.2h-1.2zM98.6 620.7h1.2v1.2h-1.2zM149.4 735.7h1.2v1.2h-1.2zM122.4 733.1h1.2v1.2h-1.2zM166.8 716.4h1.2v1.2h-1.2zM68.2 705.2h1.2v1.2h-1.2zM142.5 655.9h1.2v1.2h-1.2zM157.7 696.0h1.2v1.2h-1.2zM141.7 620.1h1.2v1.2h-1.2zM149.4 621.1h1.2v1.2h-1.2zM131.6 627.0h1.2v1.2h-1.2zM146.5 619.7h1.2v1.2h-1.2zM126.0 648.8h1.2v1.2h-1.2zM164.4 738.6h1.2v1.2h-1.2zM137.3 664.3h1.2v1.2h-1.2zM135.4 741.5h1.2v1.2h-1.2zM102.9 703.0h1.2v1.2h-1.2zM112.7 709.2h1.2v1.2h-1.2zM136.0 663.4h1.2v1.2h-1.2zM86.1 608.9h1.2v1.2h-1.2zM165.5 697.9h1.2v1.2h-1.2zM145.4 646.5h1.2v1.2h-1.2zM170.3 641.7h1.2v1.2h-1.2zM66.6 698.8h1.2v1.2h-1.2zM67.1 674.1h1.2v1.2h-1.2zM69.4 681.9h1.2v1.2h-1.2zM73.5 674.5h1.2v1.2h-1.2zM80.4 682.8h1.2v1.2h-1.2zM70.9 681.0h1.2v1.2h-1.2zM77.0 694.8h1.2v1.2h-1.2zM63.4 686.9h1.2v1.2h-1.2zM64.8 688.2h1.2v1.2h-1.2zM60.1 666.4h1.2v1.2h-1.2zM79.5 685.4h1.2v1.2h-1.2zM65.8 688.5h1.2v1.2h-1.2zM91.7 698.8h1.2v1.2h-1.2zM78.9 691.3h1.2v1.2h-1.2zM94.8 691.4h1.2v1.2h-1.2zM73.3 676.1h1.2v1.2h-1.2zM75.1 682.9h1.2v1.2h-1.2zM62.0 730.5h1.2v1.2h-1.2zM71.3 715.2h1.2v1.2h-1.2zM74.9 729.7h1.2v1.2h-1.2zM119.5 632.3h1.2v1.2h-1.2zM122.6 682.6h1.2v1.2h-1.2zM103.2 678.1h1.2v1.2h-1.2zM113.4 666.0h1.2v1.2h-1.2zM103.8 699.4h1.2v1.2h-1.2zM98.5 656.7h1.2v1.2h-1.2zM104.9 695.0h1.2v1.2h-1.2zM105.1 671.3h1.2v1.2h-1.2zM118.0 659.6h1.2v1.2h-1.2zM113.4 698.3h1.2v1.2h-1.2zM100.2 663.7h1.2v1.2h-1.2zM124.5 664.9h1.2v1.2h-1.2zM106.3 675.2h1.2v1.2h-1.2zM100.7 662.1h1.2v1.2h-1.2zM97.3 653.2h1.2v1.2h-1.2zM186.1 694.0h1.2v1.2h-1.2zM164.5 683.2h1.2v1.2h-1.2zM136.7 662.6h1.2v1.2h-1.2zM167.2 656.2h1.2v1.2h-1.2zM172.6 637.9h1.2v1.2h-1.2zM151.0 686.8h1.2v1.2h-1.2zM182.1 692.2h1.2v1.2h-1.2zM142.9 692.4h1.2v1.2h-1.2zM149.5 694.8h1.2v1.2h-1.2zM155.7 687.9h1.2v1.2h-1.2zM158.7 684.8h1.2v1.2h-1.2zM145.8 681.1h1.2v1.2h-1.2zM166.9 667.6h1.2v1.2h-1.2zM129.6 683.0h1.2v1.2h-1.2zM166.0 693.2h1.2v1.2h-1.2zM142.7 665.2h1.2v1.2h-1.2zM165.6 653.7h1.2v1.2h-1.2zM155.2 689.5h1.2v1.2h-1.2zM119.3 679.2h1.2v1.2h-1.2zM169.5 654.0h1.2v1.2h-1.2zM161.7 692.0h1.2v1.2h-1.2zM138.0 668.6h1.2v1.2h-1.2zM142.0 634.9h1.2v1.2h-1.2zM159.7 678.7h1.2v1.2h-1.2zM155.3 669.5h1.2v1.2h-1.2zM135.2 684.4h1.2v1.2h-1.2zM141.7 702.7h1.2v1.2h-1.2zM140.5 692.3h1.2v1.2h-1.2zM139.9 692.1h1.2v1.2h-1.2zM173.0 688.3h1.2v1.2h-1.2zM120.5 668.8h1.2v1.2h-1.2zM160.0 673.0h1.2v1.2h-1.2zM179.8 663.2h1.2v1.2h-1.2zM145.0 671.6h1.2v1.2h-1.2zM166.0 677.1h1.2v1.2h-1.2zM169.8 661.5h1.2v1.2h-1.2zM175.4 672.9h1.2v1.2h-1.2zM167.3 683.3h1.2v1.2h-1.2zM128.6 687.6h1.2v1.2h-1.2zM158.2 704.3h1.2v1.2h-1.2zM153.4 733.7h1.2v1.2h-1.2zM148.5 718.8h1.2v1.2h-1.2zM141.7 699.2h1.2v1.2h-1.2zM132.9 729.1h1.2v1.2h-1.2zM152.3 721.1h1.2v1.2h-1.2zM154.9 733.1h1.2v1.2h-1.2zM137.1 733.5h1.2v1.2h-1.2zM142.1 699.5h1.2v1.2h-1.2zM147.6 698.9h1.2v1.2h-1.2z"/><path fill="rgb(185,185,185)" d="M172.4 699.3h1.0v1.0h-1.0zM66.5 709.1h1.0v1.0h-1.0zM79.7 625.0h1.0v1.0h-1.0zM164.6 668.0h1.0v1.0h-1.0zM146.3 712.0h1.0v1.0h-1.0zM175.8 705.1h1.0v1.0h-1.0zM115.8 734.4h1.0v1.0h-1.0zM152.6 649.8h1.0v1.0h-1.0zM120.5 723.8h1.0v1.0h-1.0zM95.3 659.5h1.0v1.0h-1.0zM177.1 724.7h1.0v1.0h-1.0zM145.6 710.2h1.0v1.0h-1.0zM74.3 730.4h1.0v1.0h-1.0zM173.4 611.9h1.0v1.0h-1.0zM200.5 739.4h1.0v1.0h-1.0zM98.2 693.2h1.0v1.0h-1.0zM98.9 687.9h1.0v1.0h-1.0zM168.4 687.6h1.0v1.0h-1.0zM113.7 730.2h1.0v1.0h-1.0zM178.8 617.0h1.0v1.0h-1.0zM65.1 731.6h1.0v1.0h-1.0zM119.5 677.8h1.0v1.0h-1.0zM111.0 714.9h1.0v1.0h-1.0zM98.0 737.4h1.0v1.0h-1.0zM93.8 615.5h1.0v1.0h-1.0zM137.4 605.6h1.0v1.0h-1.0zM195.1 670.4h1.0v1.0h-1.0zM200.3 738.0h1.0v1.0h-1.0zM77.1 665.5h1.0v1.0h-1.0zM115.0 740.9h1.0v1.0h-1.0zM85.3 738.2h1.0v1.0h-1.0zM80.7 676.5h1.0v1.0h-1.0zM74.6 690.9h1.0v1.0h-1.0zM60.4 699.1h1.0v1.0h-1.0zM68.1 687.5h1.0v1.0h-1.0zM70.7 697.8h1.0v1.0h-1.0zM98.1 683.0h1.0v1.0h-1.0zM66.1 704.9h1.0v1.0h-1.0zM77.1 704.6h1.0v1.0h-1.0zM76.5 697.5h1.0v1.0h-1.0zM95.7 682.1h1.0v1.0h-1.0zM94.7 695.0h1.0v1.0h-1.0zM82.0 662.3h1.0v1.0h-1.0zM69.2 699.4h1.0v1.0h-1.0zM82.3 678.7h1.0v1.0h-1.0zM93.2 694.0h1.0v1.0h-1.0zM99.8 699.9h1.0v1.0h-1.0zM105.7 684.3h1.0v1.0h-1.0zM72.1 668.4h1.0v1.0h-1.0zM90.1 692.0h1.0v1.0h-1.0zM75.1 654.2h1.0v1.0h-1.0zM75.6 684.9h1.0v1.0h-1.0zM71.5 701.1h1.0v1.0h-1.0zM67.9 721.8h1.0v1.0h-1.0zM93.7 722.0h1.0v1.0h-1.0zM79.2 711.7h1.0v1.0h-1.0zM92.8 717.7h1.0v1.0h-1.0zM114.1 713.4h1.0v1.0h-1.0zM107.2 674.4h1.0v1.0h-1.0zM107.6 690.7h1.0v1.0h-1.0zM115.3 694.0h1.0v1.0h-1.0zM112.9 669.7h1.0v1.0h-1.0zM90.1 657.8h1.0v1.0h-1.0zM96.1 698.1h1.0v1.0h-1.0zM111.0 672.2h1.0v1.0h-1.0zM101.5 716.1h1.0v1.0h-1.0zM111.3 695.4h1.0v1.0h-1.0zM111.7 697.5h1.0v1.0h-1.0zM105.9 693.5h1.0v1.0h-1.0zM111.0 666.4h1.0v1.0h-1.0zM107.3 668.2h1.0v1.0h-1.0zM115.8 687.4h1.0v1.0h-1.0zM97.7 677.4h1.0v1.0h-1.0zM110.6 687.5h1.0v1.0h-1.0zM104.0 672.5h1.0v1.0h-1.0zM94.9 701.7h1.0v1.0h-1.0zM109.2 668.5h1.0v1.0h-1.0zM132.2 676.6h1.0v1.0h-1.0zM130.6 669.8h1.0v1.0h-1.0zM122.8 663.6h1.0v1.0h-1.0zM166.0 660.0h1.0v1.0h-1.0zM140.0 695.3h1.0v1.0h-1.0zM181.8 645.2h1.0v1.0h-1.0zM154.6 662.3h1.0v1.0h-1.0zM132.6 697.1h1.0v1.0h-1.0zM151.4 671.0h1.0v1.0h-1.0zM139.1 682.2h1.0v1.0h-1.0zM130.2 630.3h1.0v1.0h-1.0zM167.1 701.0h1.0v1.0h-1.0zM178.9 691.8h1.0v1.0h-1.0zM137.4 670.6h1.0v1.0h-1.0zM124.4 660.4h1.0v1.0h-1.0zM134.9 684.2h1.0v1.0h-1.0zM154.0 682.5h1.0v1.0h-1.0zM143.6 681.5h1.0v1.0h-1.0zM127.8 656.4h1.0v1.0h-1.0zM145.9 680.7h1.0v1.0h-1.0zM141.8 674.5h1.0v1.0h-1.0zM122.9 675.2h1.0v1.0h-1.0zM148.6 677.0h1.0v1.0h-1.0zM119.3 706.5h1.0v1.0h-1.0zM135.4 698.9h1.0v1.0h-1.0zM115.2 691.1h1.0v1.0h-1.0zM137.6 645.3h1.0v1.0h-1.0zM166.0 681.4h1.0v1.0h-1.0zM136.3 672.3h1.0v1.0h-1.0zM123.8 676.8h1.0v1.0h-1.0zM162.3 684.9h1.0v1.0h-1.0zM152.5 669.1h1.0v1.0h-1.0zM119.0 683.2h1.0v1.0h-1.0zM154.6 674.9h1.0v1.0h-1.0zM170.1 686.9h1.0v1.0h-1.0zM129.7 677.2h1.0v1.0h-1.0zM139.6 674.4h1.0v1.0h-1.0zM159.1 665.9h1.0v1.0h-1.0zM157.5 678.7h1.0v1.0h-1.0zM159.2 668.8h1.0v1.0h-1.0zM150.2 702.9h1.0v1.0h-1.0zM148.2 716.2h1.0v1.0h-1.0zM140.6 737.1h1.0v1.0h-1.0zM144.9 709.1h1.0v1.0h-1.0zM150.9 706.5h1.0v1.0h-1.0zM144.5 703.3h1.0v1.0h-1.0zM151.5 717.4h1.0v1.0h-1.0zM133.9 714.0h1.0v1.0h-1.0zM151.4 705.7h1.0v1.0h-1.0zM150.1 709.5h1.0v1.0h-1.0zM145.7 705.8h1.0v1.0h-1.0zM149.6 716.7h1.0v1.0h-1.0zM144.4 710.2h1.0v1.0h-1.0zM156.2 692.2h1.0v1.0h-1.0z"/><path fill="rgb(215,215,215)" d="M81.8 648.6h1.2v1.2h-1.2zM66.7 699.6h1.2v1.2h-1.2zM187.5 710.8h1.2v1.2h-1.2zM75.7 720.5h1.2v1.2h-1.2zM173.3 738.0h1.2v1.2h-1.2zM189.0 650.2h1.2v1.2h-1.2zM167.4 729.6h1.2v1.2h-1.2zM79.5 730.5h1.2v1.2h-1.2zM93.4 663.5h1.2v1.2h-1.2zM81.5 612.0h1.2v1.2h-1.2zM148.2 696.7h1.2v1.2h-1.2zM129.1 654.3h1.2v1.2h-1.2zM99.7 610.9h1.2v1.2h-1.2zM159.3 632.9h1.2v1.2h-1.2zM142.8 651.2h1.2v1.2h-1.2zM161.6 607.0h1.2v1.2h-1.2zM71.3 727.3h1.2v1.2h-1.2zM76.3 660.4h1.2v1.2h-1.2zM191.5 717.2h1.2v1.2h-1.2zM136.8 604.2h1.2v1.2h-1.2zM129.0 698.8h1.2v1.2h-1.2zM176.9 615.2h1.2v1.2h-1.2zM147.9 629.6h1.2v1.2h-1.2zM126.4 716.3h1.2v1.2h-1.2zM111.6 723.0h1.2v1.2h-1.2zM76.9 694.2h1.2v1.2h-1.2zM91.4 673.9h1.2v1.2h-1.2zM73.0 652.6h1.2v1.2h-1.2zM83.2 700.4h1.2v1.2h-1.2zM81.3 690.6h1.2v1.2h-1.2zM81.0 687.1h1.2v1.2h-1.2zM76.6 696.5h1.2v1.2h-1.2zM86.6 704.6h1.2v1.2h-1.2zM73.7 682.4h1.2v1.2h-1.2zM68.5 697.3h1.2v1.2h-1.2zM83.5 701.0h1.2v1.2h-1.2zM79.7 705.2h1.2v1.2h-1.2zM80.0 688.1h1.2v1.2h-1.2zM93.3 680.9h1.2v1.2h-1.2zM70.9 690.6h1.2v1.2h-1.2zM88.6 704.9h1.2v1.2h-1.2zM93.1 701.2h1.2v1.2h-1.2zM75.9 684.1h1.2v1.2h-1.2zM82.5 681.9h1.2v1.2h-1.2zM93.9 659.4h1.2v1.2h-1.2zM92.2 696.7h1.2v1.2h-1.2zM77.5 679.2h1.2v1.2h-1.2zM64.6 685.2h1.2v1.2h-1.2zM100.3 686.8h1.2v1.2h-1.2zM80.9 687.6h1.2v1.2h-1.2zM82.8 659.1h1.2v1.2h-1.2zM84.4 685.8h1.2v1.2h-1.2zM71.0 737.2h1.2v1.2h-1.2zM88.9 727.3h1.2v1.2h-1.2zM76.7 732.2h1.2v1.2h-1.2zM113.8 652.8h1.2v1.2h-1.2zM119.7 670.0h1.2v1.2h-1.2zM101.3 697.4h1.2v1.2h-1.2zM116.1 677.2h1.2v1.2h-1.2zM112.4 690.9h1.2v1.2h-1.2zM106.8 671.7h1.2v1.2h-1.2zM120.7 711.5h1.2v1.2h-1.2zM140.4 661.8h1.2v1.2h-1.2zM160.5 689.6h1.2v1.2h-1.2zM148.6 654.0h1.2v1.2h-1.2zM139.1 654.8h1.2v1.2h-1.2zM158.4 673.9h1.2v1.2h-1.2zM153.9 674.5h1.2v1.2h-1.2zM156.3 650.7h1.2v1.2h-1.2zM157.4 687.8h1.2v1.2h-1.2zM140.4 674.5h1.2v1.2h-1.2zM154.6 655.4h1.2v1.2h-1.2zM145.7 663.8h1.2v1.2h-1.2zM149.6 657.7h1.2v1.2h-1.2zM177.3 645.8h1.2v1.2h-1.2zM156.4 666.2h1.2v1.2h-1.2zM158.2 693.8h1.2v1.2h-1.2zM145.6 698.8h1.2v1.2h-1.2zM166.3 649.6h1.2v1.2h-1.2zM146.7 699.2h1.2v1.2h-1.2zM153.1 693.6h1.2v1.2h-1.2zM142.3 675.8h1.2v1.2h-1.2zM146.3 693.8h1.2v1.2h-1.2zM130.4 673.3h1.2v1.2h-1.2zM147.6 676.1h1.2v1.2h-1.2zM133.0 659.4h1.2v1.2h-1.2zM136.6 668.0h1.2v1.2h-1.2zM139.6 713.4h1.2v1.2h-1.2zM146.0 663.2h1.2v1.2h-1.2zM153.6 660.9h1.2v1.2h-1.2zM175.6 658.7h1.2v1.2h-1.2zM151.0 684.5h1.2v1.2h-1.2zM167.2 642.1h1.2v1.2h-1.2zM158.1 663.6h1.2v1.2h-1.2zM165.0 651.7h1.2v1.2h-1.2zM146.9 690.8h1.2v1.2h-1.2zM138.3 682.4h1.2v1.2h-1.2zM129.0 667.3h1.2v1.2h-1.2zM150.0 684.8h1.2v1.2h-1.2zM162.3 698.4h1.2v1.2h-1.2zM155.9 693.3h1.2v1.2h-1.2zM146.4 658.1h1.2v1.2h-1.2zM164.2 665.9h1.2v1.2h-1.2zM164.4 663.2h1.2v1.2h-1.2zM186.1 673.8h1.2v1.2h-1.2zM146.3 672.2h1.2v1.2h-1.2zM135.4 707.8h1.2v1.2h-1.2zM149.8 720.9h1.2v1.2h-1.2zM145.7 722.7h1.2v1.2h-1.2zM157.9 691.9h1.2v1.2h-1.2zM145.0 718.7h1.2v1.2h-1.2zM153.5 700.2h1.2v1.2h-1.2zM149.8 727.2h1.2v1.2h-1.2zM147.0 721.2h1.2v1.2h-1.2zM144.2 723.2h1.2v1.2h-1.2zM143.3 727.8h1.2v1.2h-1.2zM144.9 712.3h1.2v1.2h-1.2zM143.0 713.8h1.2v1.2h-1.2zM147.3 722.5h1.2v1.2h-1.2zM151.5 708.2h1.2v1.2h-1.2zM147.8 723.1h1.2v1.2h-1.2z"/><path fill="rgb(215,215,215)" d="M158.1 684.4h1.0v1.0h-1.0zM179.0 734.1h1.0v1.0h-1.0zM115.3 730.2h1.0v1.0h-1.0zM200.1 696.9h1.0v1.0h-1.0zM115.5 614.7h1.0v1.0h-1.0zM85.4 739.8h1.0v1.0h-1.0zM68.1 629.5h1.0v1.0h-1.0zM69.6 614.5h1.0v1.0h-1.0zM133.4 602.7h1.0v1.0h-1.0zM104.9 673.6h1.0v1.0h-1.0zM64.1 613.9h1.0v1.0h-1.0zM123.1 675.7h1.0v1.0h-1.0zM94.4 619.5h1.0v1.0h-1.0zM165.5 613.4h1.0v1.0h-1.0zM60.8 678.7h1.0v1.0h-1.0zM168.1 702.3h1.0v1.0h-1.0zM176.8 701.5h1.0v1.0h-1.0zM102.9 612.2h1.0v1.0h-1.0zM185.3 715.3h1.0v1.0h-1.0zM152.5 642.7h1.0v1.0h-1.0zM166.0 658.6h1.0v1.0h-1.0zM133.2 696.9h1.0v1.0h-1.0zM148.2 675.0h1.0v1.0h-1.0zM150.8 725.5h1.0v1.0h-1.0zM66.0 627.6h1.0v1.0h-1.0zM105.4 626.3h1.0v1.0h-1.0zM164.2 667.4h1.0v1.0h-1.0zM171.7 729.7h1.0v1.0h-1.0zM114.4 622.7h1.0v1.0h-1.0zM99.1 677.1h1.0v1.0h-1.0zM86.6 701.1h1.0v1.0h-1.0zM86.2 687.0h1.0v1.0h-1.0zM77.9 699.8h1.0v1.0h-1.0zM66.5 676.8h1.0v1.0h-1.0zM79.4 691.9h1.0v1.0h-1.0zM102.9 693.9h1.0v1.0h-1.0zM70.2 684.8h1.0v1.0h-1.0zM63.9 681.6h1.0v1.0h-1.0zM78.5 703.9h1.0v1.0h-1.0zM74.5 696.8h1.0v1.0h-1.0zM95.2 692.1h1.0v1.0h-1.0zM93.3 678.1h1.0v1.0h-1.0zM78.3 681.8h1.0v1.0h-1.0zM88.3 676.9h1.0v1.0h-1.0zM75.5 685.4h1.0v1.0h-1.0zM81.1 691.2h1.0v1.0h-1.0zM94.6 686.1h1.0v1.0h-1.0zM67.9 687.7h1.0v1.0h-1.0zM79.9 733.7h1.0v1.0h-1.0zM91.1 725.8h1.0v1.0h-1.0zM93.5 718.3h1.0v1.0h-1.0zM64.9 737.7h1.0v1.0h-1.0zM77.6 706.6h1.0v1.0h-1.0zM66.2 718.6h1.0v1.0h-1.0zM89.1 732.1h1.0v1.0h-1.0zM122.7 683.6h1.0v1.0h-1.0zM99.0 704.4h1.0v1.0h-1.0zM118.4 679.5h1.0v1.0h-1.0zM108.7 662.4h1.0v1.0h-1.0zM106.2 678.5h1.0v1.0h-1.0zM103.9 713.4h1.0v1.0h-1.0zM108.1 673.5h1.0v1.0h-1.0zM98.4 675.8h1.0v1.0h-1.0zM120.2 673.7h1.0v1.0h-1.0zM104.5 681.9h1.0v1.0h-1.0zM97.1 685.7h1.0v1.0h-1.0zM95.9 669.1h1.0v1.0h-1.0zM113.6 684.6h1.0v1.0h-1.0zM109.2 697.6h1.0v1.0h-1.0zM104.6 686.4h1.0v1.0h-1.0zM109.3 683.2h1.0v1.0h-1.0zM97.0 693.2h1.0v1.0h-1.0zM104.4 697.7h1.0v1.0h-1.0zM112.9 693.0h1.0v1.0h-1.0zM106.4 684.2h1.0v1.0h-1.0zM96.4 702.3h1.0v1.0h-1.0zM102.5 672.3h1.0v1.0h-1.0zM148.3 664.4h1.0v1.0h-1.0zM153.7 700.1h1.0v1.0h-1.0zM156.1 696.3h1.0v1.0h-1.0zM128.1 697.2h1.0v1.0h-1.0zM167.0 663.6h1.0v1.0h-1.0zM134.9 687.1h1.0v1.0h-1.0zM133.2 679.8h1.0v1.0h-1.0zM141.6 692.4h1.0v1.0h-1.0zM147.7 685.1h1.0v1.0h-1.0zM180.2 630.4h1.0v1.0h-1.0zM151.7 665.9h1.0v1.0h-1.0zM136.6 654.6h1.0v1.0h-1.0zM135.6 660.4h1.0v1.0h-1.0zM169.2 660.2h1.0v1.0h-1.0zM146.3 663.7h1.0v1.0h-1.0zM140.3 708.3h1.0v1.0h-1.0zM164.0 669.7h1.0v1.0h-1.0zM158.5 676.7h1.0v1.0h-1.0zM159.7 668.8h1.0v1.0h-1.0zM141.6 652.2h1.0v1.0h-1.0zM150.3 653.8h1.0v1.0h-1.0zM180.6 691.0h1.0v1.0h-1.0zM146.3 677.1h1.0v1.0h-1.0zM139.1 651.5h1.0v1.0h-1.0zM135.4 644.3h1.0v1.0h-1.0zM160.7 666.2h1.0v1.0h-1.0zM135.3 653.7h1.0v1.0h-1.0zM152.9 676.0h1.0v1.0h-1.0zM162.6 671.6h1.0v1.0h-1.0zM160.6 678.0h1.0v1.0h-1.0zM134.2 652.1h1.0v1.0h-1.0zM136.2 645.1h1.0v1.0h-1.0zM144.1 659.4h1.0v1.0h-1.0zM143.7 651.3h1.0v1.0h-1.0zM129.7 662.3h1.0v1.0h-1.0zM166.2 685.0h1.0v1.0h-1.0zM147.2 651.8h1.0v1.0h-1.0zM165.0 673.1h1.0v1.0h-1.0zM125.7 660.9h1.0v1.0h-1.0zM164.6 719.5h1.0v1.0h-1.0zM148.6 716.3h1.0v1.0h-1.0zM144.8 699.8h1.0v1.0h-1.0zM156.9 709.5h1.0v1.0h-1.0zM154.3 703.4h1.0v1.0h-1.0zM132.3 727.3h1.0v1.0h-1.0zM147.1 712.1h1.0v1.0h-1.0zM149.3 717.8h1.0v1.0h-1.0zM140.8 730.1h1.0v1.0h-1.0zM138.9 711.1h1.0v1.0h-1.0zM172.0 710.4h1.0v1.0h-1.0zM148.1 735.0h1.0v1.0h-1.0zM141.6 716.2h1.0v1.0h-1.0zM133.2 714.9h1.0v1.0h-1.0zM145.6 716.3h1.0v1.0h-1.0z"/><path fill="rgb(120,120,120)" d="M113.3 608.1h1.0v1.0h-1.0zM106.2 604.5h1.0v1.0h-1.0zM101.9 608.8h1.0v1.0h-1.0zM113.4 609.9h1.0v1.0h-1.0zM110.2 607.3h1.0v1.0h-1.0zM113.1 614.6h1.0v1.0h-1.0zM68.9 696.6h1.0v1.0h-1.0zM62.9 691.4h1.0v1.0h-1.0zM91.4 696.1h1.0v1.0h-1.0zM71.3 695.7h1.0v1.0h-1.0zM80.6 682.0h1.0v1.0h-1.0zM64.7 693.0h1.0v1.0h-1.0zM71.8 686.6h1.0v1.0h-1.0zM94.9 686.9h1.0v1.0h-1.0zM75.3 702.2h1.0v1.0h-1.0zM73.8 694.0h1.0v1.0h-1.0zM70.1 685.9h1.0v1.0h-1.0zM66.8 664.3h1.0v1.0h-1.0zM90.1 673.5h1.0v1.0h-1.0zM75.8 689.7h1.0v1.0h-1.0zM91.0 696.5h1.0v1.0h-1.0zM76.5 681.0h1.0v1.0h-1.0zM87.7 683.8h1.0v1.0h-1.0zM89.5 687.3h1.0v1.0h-1.0zM84.5 657.5h1.0v1.0h-1.0zM66.1 696.8h1.0v1.0h-1.0zM64.2 671.7h1.0v1.0h-1.0zM71.4 693.1h1.0v1.0h-1.0zM83.0 698.1h1.0v1.0h-1.0zM71.4 702.4h1.0v1.0h-1.0zM84.2 710.9h1.0v1.0h-1.0zM71.1 673.9h1.0v1.0h-1.0zM87.6 669.1h1.0v1.0h-1.0zM70.0 687.1h1.0v1.0h-1.0zM80.6 684.0h1.0v1.0h-1.0zM82.4 680.9h1.0v1.0h-1.0zM89.2 690.0h1.0v1.0h-1.0zM81.1 686.8h1.0v1.0h-1.0zM83.4 685.2h1.0v1.0h-1.0zM65.4 691.3h1.0v1.0h-1.0zM89.5 678.5h1.0v1.0h-1.0zM72.3 682.7h1.0v1.0h-1.0zM77.8 688.6h1.0v1.0h-1.0zM88.6 695.1h1.0v1.0h-1.0zM79.5 689.7h1.0v1.0h-1.0zM82.4 669.3h1.0v1.0h-1.0zM77.7 707.8h1.0v1.0h-1.0zM109.7 673.4h1.0v1.0h-1.0zM115.3 677.0h1.0v1.0h-1.0zM112.8 655.4h1.0v1.0h-1.0zM115.8 667.6h1.0v1.0h-1.0zM107.8 645.6h1.0v1.0h-1.0zM111.8 658.3h1.0v1.0h-1.0zM110.4 666.3h1.0v1.0h-1.0zM106.1 692.3h1.0v1.0h-1.0zM116.0 692.2h1.0v1.0h-1.0zM104.5 695.3h1.0v1.0h-1.0zM112.9 686.3h1.0v1.0h-1.0zM151.5 657.6h1.0v1.0h-1.0zM158.3 687.4h1.0v1.0h-1.0zM159.4 649.2h1.0v1.0h-1.0zM163.8 688.0h1.0v1.0h-1.0zM147.1 665.1h1.0v1.0h-1.0zM174.6 694.0h1.0v1.0h-1.0zM129.8 675.3h1.0v1.0h-1.0zM172.8 688.0h1.0v1.0h-1.0zM155.1 671.9h1.0v1.0h-1.0zM163.7 653.3h1.0v1.0h-1.0zM154.4 669.3h1.0v1.0h-1.0zM149.8 682.4h1.0v1.0h-1.0zM141.0 669.3h1.0v1.0h-1.0zM135.5 660.7h1.0v1.0h-1.0zM176.7 687.2h1.0v1.0h-1.0zM120.9 685.1h1.0v1.0h-1.0zM132.9 681.1h1.0v1.0h-1.0zM150.8 679.3h1.0v1.0h-1.0zM161.8 669.0h1.0v1.0h-1.0zM149.0 674.7h1.0v1.0h-1.0zM143.2 648.9h1.0v1.0h-1.0zM160.7 679.8h1.0v1.0h-1.0zM167.0 667.5h1.0v1.0h-1.0zM146.5 654.6h1.0v1.0h-1.0zM168.2 702.6h1.0v1.0h-1.0zM152.1 663.9h1.0v1.0h-1.0zM161.7 660.8h1.0v1.0h-1.0zM167.1 640.9h1.0v1.0h-1.0zM158.6 677.9h1.0v1.0h-1.0zM162.7 683.8h1.0v1.0h-1.0zM138.1 662.4h1.0v1.0h-1.0zM129.0 678.8h1.0v1.0h-1.0zM158.4 719.2h1.0v1.0h-1.0zM146.7 639.7h1.0v1.0h-1.0zM153.3 675.6h1.0v1.0h-1.0zM153.7 702.5h1.0v1.0h-1.0zM166.1 668.7h1.0v1.0h-1.0zM126.8 632.0h1.0v1.0h-1.0zM179.8 654.0h1.0v1.0h-1.0zM159.9 657.4h1.0v1.0h-1.0zM148.1 685.4h1.0v1.0h-1.0zM119.6 664.1h1.0v1.0h-1.0zM161.1 669.2h1.0v1.0h-1.0zM123.1 671.1h1.0v1.0h-1.0zM166.4 651.5h1.0v1.0h-1.0zM162.7 643.3h1.0v1.0h-1.0zM151.9 666.7h1.0v1.0h-1.0zM142.3 680.5h1.0v1.0h-1.0zM152.1 678.4h1.0v1.0h-1.0zM148.0 682.2h1.0v1.0h-1.0zM151.4 688.0h1.0v1.0h-1.0zM154.1 682.2h1.0v1.0h-1.0zM151.3 689.1h1.0v1.0h-1.0zM186.1 653.9h1.0v1.0h-1.0zM127.3 703.3h1.0v1.0h-1.0zM146.9 687.2h1.0v1.0h-1.0zM158.1 671.0h1.0v1.0h-1.0zM144.7 689.3h1.0v1.0h-1.0zM154.1 683.4h1.0v1.0h-1.0zM152.5 673.6h1.0v1.0h-1.0zM152.5 693.3h1.0v1.0h-1.0zM142.3 688.1h1.0v1.0h-1.0zM141.5 696.5h1.0v1.0h-1.0zM152.2 675.3h1.0v1.0h-1.0zM145.1 691.5h1.0v1.0h-1.0zM174.5 644.9h1.0v1.0h-1.0zM180.4 649.1h1.0v1.0h-1.0zM153.0 678.1h1.0v1.0h-1.0zM146.3 679.9h1.0v1.0h-1.0zM144.0 681.3h1.0v1.0h-1.0zM147.6 683.2h1.0v1.0h-1.0zM150.0 685.1h1.0v1.0h-1.0zM148.7 699.0h1.0v1.0h-1.0zM136.3 695.9h1.0v1.0h-1.0zM163.6 673.5h1.0v1.0h-1.0zM143.3 680.9h1.0v1.0h-1.0zM139.8 696.3h1.0v1.0h-1.0zM152.2 680.5h1.0v1.0h-1.0zM157.8 675.9h1.0v1.0h-1.0zM159.7 668.6h1.0v1.0h-1.0zM136.0 698.0h1.0v1.0h-1.0zM135.3 681.9h1.0v1.0h-1.0zM165.6 676.4h1.0v1.0h-1.0zM140.3 693.1h1.0v1.0h-1.0zM131.3 692.3h1.0v1.0h-1.0zM147.1 685.1h1.0v1.0h-1.0zM153.2 692.1h1.0v1.0h-1.0zM153.5 674.4h1.0v1.0h-1.0zM162.8 667.4h1.0v1.0h-1.0zM141.5 679.0h1.0v1.0h-1.0zM174.2 636.1h1.0v1.0h-1.0zM140.6 695.3h1.0v1.0h-1.0zM157.3 670.0h1.0v1.0h-1.0zM138.9 677.1h1.0v1.0h-1.0zM158.7 678.8h1.0v1.0h-1.0zM149.9 695.7h1.0v1.0h-1.0zM145.0 690.6h1.0v1.0h-1.0zM171.3 680.2h1.0v1.0h-1.0zM136.0 684.0h1.0v1.0h-1.0zM151.0 694.7h1.0v1.0h-1.0zM138.3 686.5h1.0v1.0h-1.0zM141.5 691.1h1.0v1.0h-1.0zM155.9 681.5h1.0v1.0h-1.0zM145.8 677.8h1.0v1.0h-1.0zM159.4 671.9h1.0v1.0h-1.0zM128.5 698.2h1.0v1.0h-1.0zM144.3 693.5h1.0v1.0h-1.0zM144.3 672.5h1.0v1.0h-1.0zM153.1 681.2h1.0v1.0h-1.0zM156.7 691.2h1.0v1.0h-1.0zM179.6 650.2h1.0v1.0h-1.0zM186.6 655.7h1.0v1.0h-1.0zM133.9 694.2h1.0v1.0h-1.0zM155.9 698.0h1.0v1.0h-1.0zM142.3 684.3h1.0v1.0h-1.0zM162.2 667.1h1.0v1.0h-1.0zM154.6 671.7h1.0v1.0h-1.0zM166.5 688.2h1.0v1.0h-1.0zM144.9 685.8h1.0v1.0h-1.0zM171.0 670.4h1.0v1.0h-1.0zM160.0 673.6h1.0v1.0h-1.0zM154.9 672.3h1.0v1.0h-1.0zM171.5 698.3h1.0v1.0h-1.0zM145.7 689.9h1.0v1.0h-1.0zM149.9 664.9h1.0v1.0h-1.0zM159.7 687.1h1.0v1.0h-1.0zM155.9 670.8h1.0v1.0h-1.0zM156.6 687.6h1.0v1.0h-1.0zM157.3 706.7h1.0v1.0h-1.0zM126.5 719.7h1.0v1.0h-1.0zM165.5 679.5h1.0v1.0h-1.0zM137.9 677.1h1.0v1.0h-1.0zM122.3 707.6h1.0v1.0h-1.0zM153.0 685.7h1.0v1.0h-1.0zM154.5 686.4h1.0v1.0h-1.0zM149.5 687.0h1.0v1.0h-1.0zM167.0 665.1h1.0v1.0h-1.0zM146.9 688.4h1.0v1.0h-1.0zM134.6 702.5h1.0v1.0h-1.0zM160.7 678.3h1.0v1.0h-1.0zM145.0 667.7h1.0v1.0h-1.0zM166.3 652.1h1.0v1.0h-1.0zM160.1 687.7h1.0v1.0h-1.0zM152.8 671.5h1.0v1.0h-1.0zM130.2 693.8h1.0v1.0h-1.0zM146.8 687.5h1.0v1.0h-1.0zM169.4 660.0h1.0v1.0h-1.0zM161.7 672.4h1.0v1.0h-1.0zM142.7 678.0h1.0v1.0h-1.0zM146.9 695.1h1.0v1.0h-1.0zM150.7 695.6h1.0v1.0h-1.0zM134.6 694.0h1.0v1.0h-1.0zM154.6 675.5h1.0v1.0h-1.0zM157.5 701.5h1.0v1.0h-1.0zM145.8 688.7h1.0v1.0h-1.0zM157.4 679.7h1.0v1.0h-1.0zM140.1 689.4h1.0v1.0h-1.0zM146.5 698.5h1.0v1.0h-1.0zM160.5 697.9h1.0v1.0h-1.0zM147.3 686.6h1.0v1.0h-1.0zM158.6 692.0h1.0v1.0h-1.0zM138.7 690.2h1.0v1.0h-1.0zM165.9 676.0h1.0v1.0h-1.0zM140.7 696.9h1.0v1.0h-1.0zM146.7 683.2h1.0v1.0h-1.0zM132.6 689.6h1.0v1.0h-1.0zM134.5 704.1h1.0v1.0h-1.0zM160.8 672.6h1.0v1.0h-1.0zM175.4 669.6h1.0v1.0h-1.0zM141.1 686.5h1.0v1.0h-1.0zM128.2 694.2h1.0v1.0h-1.0zM153.8 664.1h1.0v1.0h-1.0zM156.8 667.4h1.0v1.0h-1.0zM138.0 698.9h1.0v1.0h-1.0zM140.4 692.2h1.0v1.0h-1.0zM149.8 672.9h1.0v1.0h-1.0zM142.4 679.3h1.0v1.0h-1.0zM158.0 660.9h1.0v1.0h-1.0zM145.3 681.9h1.0v1.0h-1.0zM166.2 648.6h1.0v1.0h-1.0zM138.7 700.8h1.0v1.0h-1.0zM127.5 680.2h1.0v1.0h-1.0zM135.1 728.8h1.0v1.0h-1.0zM145.1 731.2h1.0v1.0h-1.0zM138.6 707.8h1.0v1.0h-1.0zM153.9 692.8h1.0v1.0h-1.0zM145.2 715.8h1.0v1.0h-1.0zM143.9 713.4h1.0v1.0h-1.0zM155.0 706.3h1.0v1.0h-1.0zM150.5 725.6h1.0v1.0h-1.0zM122.2 710.7h1.0v1.0h-1.0zM157.7 718.5h1.0v1.0h-1.0zM133.8 726.5h1.0v1.0h-1.0zM144.5 726.7h1.0v1.0h-1.0zM141.3 707.9h1.0v1.0h-1.0zM140.7 709.4h1.0v1.0h-1.0zM160.7 721.0h1.0v1.0h-1.0zM141.9 725.5h1.0v1.0h-1.0zM161.7 708.1h1.0v1.0h-1.0zM140.5 704.5h1.0v1.0h-1.0zM134.8 716.6h1.0v1.0h-1.0zM151.4 714.8h1.0v1.0h-1.0zM132.7 716.1h1.0v1.0h-1.0zM147.4 738.9h1.0v1.0h-1.0zM154.0 691.2h1.0v1.0h-1.0zM141.9 702.2h1.0v1.0h-1.0zM142.0 728.5h1.0v1.0h-1.0zM151.7 729.2h1.0v1.0h-1.0zM137.9 723.3h1.0v1.0h-1.0zM131.1 715.0h1.0v1.0h-1.0zM151.1 719.4h1.0v1.0h-1.0zM155.2 712.4h1.0v1.0h-1.0z"/><path fill="rgb(140,140,140)" d="M109.7 607.0h1.0v1.0h-1.0zM103.0 604.8h1.0v1.0h-1.0zM95.7 601.9h1.0v1.0h-1.0zM105.9 609.4h1.0v1.0h-1.0zM114.9 603.1h1.0v1.0h-1.0zM105.7 608.7h1.0v1.0h-1.0zM74.8 675.2h1.0v1.0h-1.0zM88.2 705.4h1.0v1.0h-1.0zM91.5 697.5h1.0v1.0h-1.0zM83.8 695.9h1.0v1.0h-1.0zM89.8 663.4h1.0v1.0h-1.0zM90.2 699.2h1.0v1.0h-1.0zM77.4 675.0h1.0v1.0h-1.0zM66.8 692.2h1.0v1.0h-1.0zM68.3 661.6h1.0v1.0h-1.0zM78.9 674.0h1.0v1.0h-1.0zM85.9 698.9h1.0v1.0h-1.0zM76.3 681.0h1.0v1.0h-1.0zM76.5 688.9h1.0v1.0h-1.0zM74.7 676.2h1.0v1.0h-1.0zM76.5 690.6h1.0v1.0h-1.0zM71.5 668.4h1.0v1.0h-1.0zM99.9 694.0h1.0v1.0h-1.0zM68.2 681.4h1.0v1.0h-1.0zM64.7 696.3h1.0v1.0h-1.0zM82.5 704.8h1.0v1.0h-1.0zM79.7 691.9h1.0v1.0h-1.0zM79.7 689.3h1.0v1.0h-1.0zM92.5 690.7h1.0v1.0h-1.0zM98.4 674.6h1.0v1.0h-1.0zM93.8 674.3h1.0v1.0h-1.0zM84.4 694.1h1.0v1.0h-1.0zM64.3 701.8h1.0v1.0h-1.0zM71.5 700.3h1.0v1.0h-1.0zM69.8 674.1h1.0v1.0h-1.0zM67.4 670.0h1.0v1.0h-1.0zM92.2 682.4h1.0v1.0h-1.0zM77.3 693.0h1.0v1.0h-1.0zM77.5 685.6h1.0v1.0h-1.0zM65.4 676.3h1.0v1.0h-1.0zM64.7 687.4h1.0v1.0h-1.0zM91.1 700.8h1.0v1.0h-1.0zM84.8 693.7h1.0v1.0h-1.0zM103.6 674.6h1.0v1.0h-1.0zM93.8 680.5h1.0v1.0h-1.0zM108.1 662.6h1.0v1.0h-1.0zM99.1 699.1h1.0v1.0h-1.0zM107.8 694.4h1.0v1.0h-1.0zM114.0 668.3h1.0v1.0h-1.0zM106.9 647.0h1.0v1.0h-1.0zM107.5 681.7h1.0v1.0h-1.0zM108.8 680.3h1.0v1.0h-1.0zM115.8 667.0h1.0v1.0h-1.0zM108.4 661.1h1.0v1.0h-1.0zM113.7 671.9h1.0v1.0h-1.0zM96.4 658.1h1.0v1.0h-1.0zM107.6 688.1h1.0v1.0h-1.0zM183.7 682.0h1.0v1.0h-1.0zM156.6 671.1h1.0v1.0h-1.0zM122.8 664.6h1.0v1.0h-1.0zM141.1 668.8h1.0v1.0h-1.0zM148.0 654.0h1.0v1.0h-1.0zM155.2 690.5h1.0v1.0h-1.0zM164.5 663.8h1.0v1.0h-1.0zM180.7 701.4h1.0v1.0h-1.0zM115.7 657.9h1.0v1.0h-1.0zM151.5 676.3h1.0v1.0h-1.0zM138.2 647.5h1.0v1.0h-1.0zM155.0 678.1h1.0v1.0h-1.0zM142.9 646.1h1.0v1.0h-1.0zM143.3 658.9h1.0v1.0h-1.0zM167.0 651.1h1.0v1.0h-1.0zM144.6 643.0h1.0v1.0h-1.0zM160.2 647.8h1.0v1.0h-1.0zM146.9 675.4h1.0v1.0h-1.0zM143.6 657.3h1.0v1.0h-1.0zM161.5 687.7h1.0v1.0h-1.0zM169.1 669.4h1.0v1.0h-1.0zM132.8 648.9h1.0v1.0h-1.0zM129.8 667.4h1.0v1.0h-1.0zM156.6 679.8h1.0v1.0h-1.0zM129.4 662.5h1.0v1.0h-1.0zM154.8 664.1h1.0v1.0h-1.0zM156.4 671.6h1.0v1.0h-1.0zM146.4 668.1h1.0v1.0h-1.0zM168.0 675.9h1.0v1.0h-1.0zM146.3 660.2h1.0v1.0h-1.0zM143.3 663.8h1.0v1.0h-1.0zM141.1 669.6h1.0v1.0h-1.0zM148.9 666.8h1.0v1.0h-1.0zM163.3 659.8h1.0v1.0h-1.0zM166.5 654.7h1.0v1.0h-1.0zM159.8 695.4h1.0v1.0h-1.0zM163.7 662.9h1.0v1.0h-1.0zM143.4 683.0h1.0v1.0h-1.0zM150.1 709.1h1.0v1.0h-1.0zM163.9 701.3h1.0v1.0h-1.0zM159.2 680.3h1.0v1.0h-1.0zM157.5 652.2h1.0v1.0h-1.0zM151.5 690.6h1.0v1.0h-1.0zM151.5 677.3h1.0v1.0h-1.0zM146.5 694.1h1.0v1.0h-1.0zM166.1 657.4h1.0v1.0h-1.0zM161.7 671.5h1.0v1.0h-1.0zM132.3 685.3h1.0v1.0h-1.0zM165.4 673.5h1.0v1.0h-1.0zM158.3 672.0h1.0v1.0h-1.0zM156.2 688.0h1.0v1.0h-1.0zM170.5 668.6h1.0v1.0h-1.0zM153.4 686.3h1.0v1.0h-1.0zM145.5 679.1h1.0v1.0h-1.0zM140.2 692.8h1.0v1.0h-1.0zM162.2 668.2h1.0v1.0h-1.0zM167.2 667.4h1.0v1.0h-1.0zM158.3 674.1h1.0v1.0h-1.0zM167.0 660.9h1.0v1.0h-1.0zM154.1 688.9h1.0v1.0h-1.0zM164.8 664.9h1.0v1.0h-1.0zM141.9 671.2h1.0v1.0h-1.0zM177.4 659.5h1.0v1.0h-1.0zM149.3 678.6h1.0v1.0h-1.0zM146.7 677.9h1.0v1.0h-1.0zM168.0 668.3h1.0v1.0h-1.0zM172.2 668.0h1.0v1.0h-1.0zM182.3 672.1h1.0v1.0h-1.0zM152.3 665.0h1.0v1.0h-1.0zM146.4 675.3h1.0v1.0h-1.0zM142.9 683.8h1.0v1.0h-1.0zM158.2 658.3h1.0v1.0h-1.0zM162.1 672.3h1.0v1.0h-1.0zM140.3 679.6h1.0v1.0h-1.0zM154.2 687.4h1.0v1.0h-1.0zM146.9 675.2h1.0v1.0h-1.0zM158.2 683.7h1.0v1.0h-1.0zM154.6 684.8h1.0v1.0h-1.0zM144.2 674.3h1.0v1.0h-1.0zM139.4 688.7h1.0v1.0h-1.0zM149.8 665.3h1.0v1.0h-1.0zM138.9 700.5h1.0v1.0h-1.0zM153.1 692.0h1.0v1.0h-1.0zM176.4 666.0h1.0v1.0h-1.0zM152.3 681.0h1.0v1.0h-1.0zM174.0 660.2h1.0v1.0h-1.0zM146.7 666.8h1.0v1.0h-1.0zM171.6 656.2h1.0v1.0h-1.0zM144.3 689.6h1.0v1.0h-1.0zM146.7 691.1h1.0v1.0h-1.0zM151.3 679.5h1.0v1.0h-1.0zM169.3 648.2h1.0v1.0h-1.0zM181.5 654.4h1.0v1.0h-1.0zM152.1 664.9h1.0v1.0h-1.0zM151.4 694.2h1.0v1.0h-1.0zM135.5 687.2h1.0v1.0h-1.0zM143.3 684.0h1.0v1.0h-1.0zM158.3 661.1h1.0v1.0h-1.0zM165.7 659.1h1.0v1.0h-1.0zM141.7 670.6h1.0v1.0h-1.0zM146.3 698.7h1.0v1.0h-1.0zM142.8 673.7h1.0v1.0h-1.0zM172.0 682.1h1.0v1.0h-1.0zM143.4 688.6h1.0v1.0h-1.0zM148.1 695.1h1.0v1.0h-1.0zM162.5 666.3h1.0v1.0h-1.0zM180.8 651.4h1.0v1.0h-1.0zM144.9 680.9h1.0v1.0h-1.0zM169.7 673.4h1.0v1.0h-1.0zM144.9 676.1h1.0v1.0h-1.0zM140.5 682.7h1.0v1.0h-1.0zM142.5 690.0h1.0v1.0h-1.0zM176.5 664.7h1.0v1.0h-1.0zM147.5 680.8h1.0v1.0h-1.0zM152.3 692.5h1.0v1.0h-1.0zM150.4 687.7h1.0v1.0h-1.0zM147.9 678.1h1.0v1.0h-1.0zM143.2 690.7h1.0v1.0h-1.0zM169.3 670.9h1.0v1.0h-1.0zM139.1 707.3h1.0v1.0h-1.0zM172.7 664.8h1.0v1.0h-1.0zM126.6 691.2h1.0v1.0h-1.0zM161.8 669.9h1.0v1.0h-1.0zM150.7 667.1h1.0v1.0h-1.0zM147.9 678.7h1.0v1.0h-1.0zM132.0 702.5h1.0v1.0h-1.0zM151.1 691.3h1.0v1.0h-1.0zM152.1 679.0h1.0v1.0h-1.0zM159.3 678.0h1.0v1.0h-1.0zM163.4 685.3h1.0v1.0h-1.0zM159.8 674.1h1.0v1.0h-1.0zM168.5 669.5h1.0v1.0h-1.0zM159.1 684.5h1.0v1.0h-1.0zM146.5 671.9h1.0v1.0h-1.0zM147.0 673.0h1.0v1.0h-1.0zM139.3 706.1h1.0v1.0h-1.0zM141.7 703.4h1.0v1.0h-1.0zM134.0 676.5h1.0v1.0h-1.0zM152.1 698.8h1.0v1.0h-1.0zM162.5 689.5h1.0v1.0h-1.0zM155.3 663.4h1.0v1.0h-1.0zM147.4 692.2h1.0v1.0h-1.0zM143.4 670.4h1.0v1.0h-1.0zM149.5 705.8h1.0v1.0h-1.0zM161.6 688.2h1.0v1.0h-1.0zM144.7 685.2h1.0v1.0h-1.0zM157.9 667.2h1.0v1.0h-1.0zM137.4 686.2h1.0v1.0h-1.0zM166.3 666.3h1.0v1.0h-1.0zM156.9 680.2h1.0v1.0h-1.0zM148.0 694.1h1.0v1.0h-1.0zM162.4 677.9h1.0v1.0h-1.0zM137.7 694.7h1.0v1.0h-1.0zM163.3 683.1h1.0v1.0h-1.0zM162.4 686.7h1.0v1.0h-1.0zM136.6 685.6h1.0v1.0h-1.0zM134.1 679.3h1.0v1.0h-1.0zM148.8 686.4h1.0v1.0h-1.0zM148.9 690.6h1.0v1.0h-1.0zM153.1 682.7h1.0v1.0h-1.0zM119.3 709.3h1.0v1.0h-1.0zM139.9 682.9h1.0v1.0h-1.0zM129.9 710.8h1.0v1.0h-1.0zM144.0 690.2h1.0v1.0h-1.0zM163.4 664.0h1.0v1.0h-1.0zM142.6 692.3h1.0v1.0h-1.0zM160.1 665.1h1.0v1.0h-1.0zM175.1 665.4h1.0v1.0h-1.0zM156.0 673.0h1.0v1.0h-1.0zM171.5 674.8h1.0v1.0h-1.0zM141.8 690.5h1.0v1.0h-1.0zM139.3 690.3h1.0v1.0h-1.0zM160.3 691.2h1.0v1.0h-1.0zM150.1 674.9h1.0v1.0h-1.0zM155.5 695.9h1.0v1.0h-1.0zM131.0 692.3h1.0v1.0h-1.0zM152.4 671.3h1.0v1.0h-1.0zM148.8 688.8h1.0v1.0h-1.0zM148.3 680.3h1.0v1.0h-1.0zM151.7 692.3h1.0v1.0h-1.0zM139.5 699.1h1.0v1.0h-1.0zM141.4 706.4h1.0v1.0h-1.0zM139.6 677.8h1.0v1.0h-1.0zM161.5 691.0h1.0v1.0h-1.0zM166.0 668.9h1.0v1.0h-1.0zM155.6 677.9h1.0v1.0h-1.0zM148.9 671.7h1.0v1.0h-1.0zM154.6 683.2h1.0v1.0h-1.0zM152.4 721.8h1.0v1.0h-1.0zM144.7 709.3h1.0v1.0h-1.0zM147.7 720.3h1.0v1.0h-1.0zM155.9 725.2h1.0v1.0h-1.0zM157.0 701.4h1.0v1.0h-1.0zM138.5 720.6h1.0v1.0h-1.0zM143.5 719.8h1.0v1.0h-1.0zM150.8 713.8h1.0v1.0h-1.0zM150.9 707.4h1.0v1.0h-1.0zM146.1 704.9h1.0v1.0h-1.0zM145.2 719.8h1.0v1.0h-1.0zM153.2 711.6h1.0v1.0h-1.0zM151.2 722.0h1.0v1.0h-1.0zM157.1 709.8h1.0v1.0h-1.0zM134.7 688.9h1.0v1.0h-1.0z"/><path fill="rgb(160,160,160)" d="M110.6 602.3h1.0v1.0h-1.0zM97.6 612.0h1.0v1.0h-1.0zM106.4 605.4h1.0v1.0h-1.0zM116.5 614.7h1.0v1.0h-1.0zM110.0 616.3h1.0v1.0h-1.0zM92.0 699.9h1.0v1.0h-1.0zM71.5 698.6h1.0v1.0h-1.0zM86.2 707.6h1.0v1.0h-1.0zM72.0 708.2h1.0v1.0h-1.0zM83.4 699.7h1.0v1.0h-1.0zM78.0 696.5h1.0v1.0h-1.0zM75.5 680.0h1.0v1.0h-1.0zM78.4 683.5h1.0v1.0h-1.0zM69.5 695.8h1.0v1.0h-1.0zM76.2 690.8h1.0v1.0h-1.0zM73.3 682.4h1.0v1.0h-1.0zM80.6 668.1h1.0v1.0h-1.0zM70.4 682.9h1.0v1.0h-1.0zM65.7 686.0h1.0v1.0h-1.0zM68.8 703.7h1.0v1.0h-1.0zM67.6 692.5h1.0v1.0h-1.0zM76.0 693.1h1.0v1.0h-1.0zM76.8 698.7h1.0v1.0h-1.0zM75.1 695.0h1.0v1.0h-1.0zM85.6 685.7h1.0v1.0h-1.0zM85.2 687.6h1.0v1.0h-1.0zM86.7 697.9h1.0v1.0h-1.0zM92.4 651.5h1.0v1.0h-1.0zM92.4 689.7h1.0v1.0h-1.0zM71.0 702.4h1.0v1.0h-1.0zM67.2 699.5h1.0v1.0h-1.0zM65.6 700.8h1.0v1.0h-1.0zM63.3 683.6h1.0v1.0h-1.0zM92.5 701.1h1.0v1.0h-1.0zM78.9 709.7h1.0v1.0h-1.0zM65.7 678.2h1.0v1.0h-1.0zM84.1 703.0h1.0v1.0h-1.0zM67.3 703.9h1.0v1.0h-1.0zM65.8 682.8h1.0v1.0h-1.0zM77.9 700.9h1.0v1.0h-1.0zM70.0 689.7h1.0v1.0h-1.0zM63.3 688.8h1.0v1.0h-1.0zM63.5 701.7h1.0v1.0h-1.0zM66.2 673.0h1.0v1.0h-1.0zM104.1 669.3h1.0v1.0h-1.0zM118.1 685.7h1.0v1.0h-1.0zM109.7 692.0h1.0v1.0h-1.0zM105.3 681.4h1.0v1.0h-1.0zM112.1 683.1h1.0v1.0h-1.0zM120.1 670.2h1.0v1.0h-1.0zM109.8 675.9h1.0v1.0h-1.0zM93.1 684.4h1.0v1.0h-1.0zM103.2 663.1h1.0v1.0h-1.0zM99.3 690.4h1.0v1.0h-1.0zM110.2 668.0h1.0v1.0h-1.0zM112.6 674.0h1.0v1.0h-1.0zM155.0 666.3h1.0v1.0h-1.0zM178.2 675.5h1.0v1.0h-1.0zM193.9 681.1h1.0v1.0h-1.0zM184.4 677.4h1.0v1.0h-1.0zM141.6 677.1h1.0v1.0h-1.0zM170.5 670.0h1.0v1.0h-1.0zM140.1 668.9h1.0v1.0h-1.0zM142.5 664.8h1.0v1.0h-1.0zM171.2 663.0h1.0v1.0h-1.0zM156.5 696.9h1.0v1.0h-1.0zM130.1 681.2h1.0v1.0h-1.0zM152.4 672.5h1.0v1.0h-1.0zM125.6 670.5h1.0v1.0h-1.0zM129.4 702.9h1.0v1.0h-1.0zM167.5 657.0h1.0v1.0h-1.0zM163.4 662.0h1.0v1.0h-1.0zM176.0 668.2h1.0v1.0h-1.0zM161.6 685.2h1.0v1.0h-1.0zM147.8 679.6h1.0v1.0h-1.0zM144.2 668.4h1.0v1.0h-1.0zM148.7 694.4h1.0v1.0h-1.0zM152.3 661.1h1.0v1.0h-1.0zM155.4 661.9h1.0v1.0h-1.0zM172.4 672.0h1.0v1.0h-1.0zM162.9 673.8h1.0v1.0h-1.0zM163.3 686.1h1.0v1.0h-1.0zM163.3 649.0h1.0v1.0h-1.0zM146.1 676.8h1.0v1.0h-1.0zM148.9 644.4h1.0v1.0h-1.0zM123.2 680.1h1.0v1.0h-1.0zM148.0 682.8h1.0v1.0h-1.0zM138.4 659.2h1.0v1.0h-1.0zM163.6 660.7h1.0v1.0h-1.0zM139.0 651.3h1.0v1.0h-1.0zM145.9 689.3h1.0v1.0h-1.0zM135.9 672.3h1.0v1.0h-1.0zM139.2 685.9h1.0v1.0h-1.0zM137.7 645.0h1.0v1.0h-1.0zM140.3 686.3h1.0v1.0h-1.0zM178.0 677.4h1.0v1.0h-1.0zM164.1 674.5h1.0v1.0h-1.0zM154.4 681.7h1.0v1.0h-1.0zM152.4 683.6h1.0v1.0h-1.0zM159.8 667.1h1.0v1.0h-1.0zM161.4 670.5h1.0v1.0h-1.0zM126.2 678.5h1.0v1.0h-1.0zM170.9 663.2h1.0v1.0h-1.0zM165.1 682.5h1.0v1.0h-1.0zM157.2 669.3h1.0v1.0h-1.0zM157.8 662.8h1.0v1.0h-1.0zM134.1 706.1h1.0v1.0h-1.0zM149.5 673.8h1.0v1.0h-1.0zM152.9 677.8h1.0v1.0h-1.0zM130.8 699.6h1.0v1.0h-1.0zM153.5 695.8h1.0v1.0h-1.0zM181.8 678.5h1.0v1.0h-1.0zM132.3 678.0h1.0v1.0h-1.0zM132.1 698.1h1.0v1.0h-1.0zM143.7 672.6h1.0v1.0h-1.0zM150.2 674.6h1.0v1.0h-1.0zM145.3 678.6h1.0v1.0h-1.0zM162.7 673.3h1.0v1.0h-1.0zM172.1 646.3h1.0v1.0h-1.0zM152.2 677.7h1.0v1.0h-1.0zM142.2 694.4h1.0v1.0h-1.0zM124.1 685.5h1.0v1.0h-1.0zM154.1 676.6h1.0v1.0h-1.0zM168.6 652.8h1.0v1.0h-1.0zM154.8 681.4h1.0v1.0h-1.0zM177.8 640.9h1.0v1.0h-1.0zM156.6 638.4h1.0v1.0h-1.0zM142.7 702.2h1.0v1.0h-1.0zM145.0 688.4h1.0v1.0h-1.0zM162.7 670.6h1.0v1.0h-1.0zM146.8 691.7h1.0v1.0h-1.0zM151.2 698.2h1.0v1.0h-1.0zM154.7 678.6h1.0v1.0h-1.0zM153.5 675.2h1.0v1.0h-1.0zM168.4 676.9h1.0v1.0h-1.0zM148.8 667.3h1.0v1.0h-1.0zM152.3 681.6h1.0v1.0h-1.0zM162.5 677.8h1.0v1.0h-1.0zM160.2 664.9h1.0v1.0h-1.0zM143.1 671.2h1.0v1.0h-1.0zM146.4 706.0h1.0v1.0h-1.0zM162.7 667.7h1.0v1.0h-1.0zM139.7 671.5h1.0v1.0h-1.0zM144.9 684.2h1.0v1.0h-1.0zM148.7 677.0h1.0v1.0h-1.0zM156.2 695.1h1.0v1.0h-1.0zM173.9 672.4h1.0v1.0h-1.0zM129.4 704.3h1.0v1.0h-1.0zM159.1 662.2h1.0v1.0h-1.0zM151.7 660.9h1.0v1.0h-1.0zM150.4 681.0h1.0v1.0h-1.0zM167.9 668.5h1.0v1.0h-1.0zM154.1 678.0h1.0v1.0h-1.0zM174.0 678.0h1.0v1.0h-1.0zM152.3 676.5h1.0v1.0h-1.0zM142.7 676.1h1.0v1.0h-1.0zM177.0 675.1h1.0v1.0h-1.0zM130.4 714.1h1.0v1.0h-1.0zM145.3 703.0h1.0v1.0h-1.0zM154.3 667.4h1.0v1.0h-1.0zM160.3 673.6h1.0v1.0h-1.0zM151.3 686.7h1.0v1.0h-1.0zM155.8 669.9h1.0v1.0h-1.0zM124.6 702.7h1.0v1.0h-1.0zM160.2 671.0h1.0v1.0h-1.0zM126.9 696.4h1.0v1.0h-1.0zM156.2 670.3h1.0v1.0h-1.0zM148.4 703.2h1.0v1.0h-1.0zM151.6 689.6h1.0v1.0h-1.0zM171.7 688.2h1.0v1.0h-1.0zM166.2 684.9h1.0v1.0h-1.0zM135.2 683.7h1.0v1.0h-1.0zM166.2 671.3h1.0v1.0h-1.0zM150.7 678.8h1.0v1.0h-1.0zM169.8 674.4h1.0v1.0h-1.0zM140.1 690.6h1.0v1.0h-1.0zM150.6 681.8h1.0v1.0h-1.0zM155.8 682.3h1.0v1.0h-1.0zM142.8 702.9h1.0v1.0h-1.0zM146.3 667.3h1.0v1.0h-1.0zM154.5 657.9h1.0v1.0h-1.0zM141.2 685.2h1.0v1.0h-1.0zM154.2 673.9h1.0v1.0h-1.0zM177.1 648.0h1.0v1.0h-1.0zM151.8 679.9h1.0v1.0h-1.0zM157.8 664.5h1.0v1.0h-1.0zM152.5 667.4h1.0v1.0h-1.0zM166.3 663.2h1.0v1.0h-1.0zM140.1 671.5h1.0v1.0h-1.0zM147.6 678.2h1.0v1.0h-1.0zM155.8 672.1h1.0v1.0h-1.0zM159.2 688.9h1.0v1.0h-1.0zM149.4 675.1h1.0v1.0h-1.0zM140.0 687.0h1.0v1.0h-1.0zM141.5 703.0h1.0v1.0h-1.0zM142.8 695.0h1.0v1.0h-1.0zM146.7 685.1h1.0v1.0h-1.0zM166.5 690.3h1.0v1.0h-1.0zM135.0 694.0h1.0v1.0h-1.0zM154.9 683.8h1.0v1.0h-1.0zM133.3 683.4h1.0v1.0h-1.0zM142.0 694.4h1.0v1.0h-1.0zM112.5 729.6h1.0v1.0h-1.0zM147.0 677.0h1.0v1.0h-1.0zM164.8 672.8h1.0v1.0h-1.0zM146.7 675.5h1.0v1.0h-1.0zM137.0 673.8h1.0v1.0h-1.0zM152.2 673.4h1.0v1.0h-1.0zM155.6 653.3h1.0v1.0h-1.0zM162.4 678.7h1.0v1.0h-1.0zM131.6 697.9h1.0v1.0h-1.0zM148.8 676.6h1.0v1.0h-1.0zM136.6 684.8h1.0v1.0h-1.0zM124.5 676.2h1.0v1.0h-1.0zM161.4 673.1h1.0v1.0h-1.0zM154.8 692.4h1.0v1.0h-1.0zM147.9 704.5h1.0v1.0h-1.0zM144.1 705.8h1.0v1.0h-1.0zM132.3 695.4h1.0v1.0h-1.0zM144.0 711.2h1.0v1.0h-1.0zM158.0 709.9h1.0v1.0h-1.0zM147.6 733.7h1.0v1.0h-1.0zM161.0 711.9h1.0v1.0h-1.0zM159.0 705.8h1.0v1.0h-1.0zM144.8 703.1h1.0v1.0h-1.0zM149.4 724.1h1.0v1.0h-1.0zM124.6 697.6h1.0v1.0h-1.0zM142.5 722.0h1.0v1.0h-1.0zM150.4 716.2h1.0v1.0h-1.0zM146.4 702.8h1.0v1.0h-1.0zM141.6 703.3h1.0v1.0h-1.0z"/><path fill="rgb(120,120,120)" d="M106.2 605.6h1.2v1.2h-1.2zM105.9 606.5h1.2v1.2h-1.2zM103.3 610.2h1.2v1.2h-1.2zM113.1 604.0h1.2v1.2h-1.2zM115.5 608.6h1.2v1.2h-1.2zM77.9 680.1h1.2v1.2h-1.2zM86.1 686.2h1.2v1.2h-1.2zM85.1 672.4h1.2v1.2h-1.2zM87.1 674.4h1.2v1.2h-1.2zM80.3 651.5h1.2v1.2h-1.2zM85.7 682.3h1.2v1.2h-1.2zM73.4 686.7h1.2v1.2h-1.2zM76.8 703.5h1.2v1.2h-1.2zM78.0 694.6h1.2v1.2h-1.2zM98.5 717.0h1.2v1.2h-1.2zM60.7 697.0h1.2v1.2h-1.2zM81.2 679.3h1.2v1.2h-1.2zM91.1 681.7h1.2v1.2h-1.2zM76.1 692.3h1.2v1.2h-1.2zM79.6 712.3h1.2v1.2h-1.2zM86.6 661.0h1.2v1.2h-1.2zM82.4 687.1h1.2v1.2h-1.2zM86.5 665.1h1.2v1.2h-1.2zM93.4 694.3h1.2v1.2h-1.2zM86.6 686.5h1.2v1.2h-1.2zM82.2 695.2h1.2v1.2h-1.2zM72.7 689.5h1.2v1.2h-1.2zM77.4 688.1h1.2v1.2h-1.2zM74.6 672.8h1.2v1.2h-1.2zM83.2 702.0h1.2v1.2h-1.2zM75.9 684.5h1.2v1.2h-1.2zM62.2 680.5h1.2v1.2h-1.2zM94.4 686.6h1.2v1.2h-1.2zM60.9 692.4h1.2v1.2h-1.2zM73.2 697.3h1.2v1.2h-1.2zM76.2 696.4h1.2v1.2h-1.2zM80.1 703.2h1.2v1.2h-1.2zM80.6 694.2h1.2v1.2h-1.2zM75.0 693.4h1.2v1.2h-1.2zM79.6 665.9h1.2v1.2h-1.2zM83.7 687.9h1.2v1.2h-1.2zM88.7 671.6h1.2v1.2h-1.2zM77.0 698.7h1.2v1.2h-1.2zM85.3 684.6h1.2v1.2h-1.2zM101.9 681.9h1.2v1.2h-1.2zM91.5 663.1h1.2v1.2h-1.2zM113.7 696.7h1.2v1.2h-1.2zM98.2 669.0h1.2v1.2h-1.2zM110.8 697.8h1.2v1.2h-1.2zM109.3 668.0h1.2v1.2h-1.2zM98.8 651.4h1.2v1.2h-1.2zM105.1 690.3h1.2v1.2h-1.2zM110.5 648.1h1.2v1.2h-1.2zM108.3 706.3h1.2v1.2h-1.2zM106.4 682.1h1.2v1.2h-1.2zM117.6 675.8h1.2v1.2h-1.2zM109.2 694.8h1.2v1.2h-1.2zM136.5 643.1h1.2v1.2h-1.2zM139.8 694.9h1.2v1.2h-1.2zM141.9 709.7h1.2v1.2h-1.2zM174.8 636.9h1.2v1.2h-1.2zM159.8 685.0h1.2v1.2h-1.2zM154.7 667.5h1.2v1.2h-1.2zM148.1 679.0h1.2v1.2h-1.2zM129.0 678.0h1.2v1.2h-1.2zM118.2 659.7h1.2v1.2h-1.2zM113.8 669.9h1.2v1.2h-1.2zM139.0 645.8h1.2v1.2h-1.2zM154.1 694.9h1.2v1.2h-1.2zM145.5 662.5h1.2v1.2h-1.2zM130.5 679.8h1.2v1.2h-1.2zM141.9 700.8h1.2v1.2h-1.2zM145.6 657.3h1.2v1.2h-1.2zM134.7 699.0h1.2v1.2h-1.2zM144.1 680.9h1.2v1.2h-1.2zM158.4 663.9h1.2v1.2h-1.2zM131.2 668.8h1.2v1.2h-1.2zM149.2 680.8h1.2v1.2h-1.2zM161.0 669.7h1.2v1.2h-1.2zM134.6 663.4h1.2v1.2h-1.2zM144.9 691.5h1.2v1.2h-1.2zM150.3 684.0h1.2v1.2h-1.2zM123.3 687.1h1.2v1.2h-1.2zM131.8 685.0h1.2v1.2h-1.2zM138.5 704.6h1.2v1.2h-1.2zM158.8 666.1h1.2v1.2h-1.2zM139.6 669.2h1.2v1.2h-1.2zM152.3 669.8h1.2v1.2h-1.2zM122.8 665.2h1.2v1.2h-1.2zM143.4 654.0h1.2v1.2h-1.2zM134.9 671.3h1.2v1.2h-1.2zM179.4 660.6h1.2v1.2h-1.2zM150.2 673.0h1.2v1.2h-1.2zM179.1 678.3h1.2v1.2h-1.2zM138.6 713.6h1.2v1.2h-1.2zM153.4 723.7h1.2v1.2h-1.2zM146.6 716.8h1.2v1.2h-1.2zM142.8 723.9h1.2v1.2h-1.2zM142.6 713.3h1.2v1.2h-1.2zM146.6 714.1h1.2v1.2h-1.2zM153.8 711.2h1.2v1.2h-1.2zM153.1 707.7h1.2v1.2h-1.2zM135.2 720.0h1.2v1.2h-1.2zM170.8 721.1h1.2v1.2h-1.2zM143.2 716.9h1.2v1.2h-1.2zM152.3 707.0h1.2v1.2h-1.2zM160.3 701.6h1.2v1.2h-1.2zM155.3 708.4h1.2v1.2h-1.2zM151.8 719.8h1.2v1.2h-1.2zM153.7 707.1h1.2v1.2h-1.2zM149.4 702.5h1.2v1.2h-1.2zM144.8 707.9h1.2v1.2h-1.2zM142.3 704.8h1.2v1.2h-1.2zM157.6 712.4h1.2v1.2h-1.2zM137.9 689.2h1.2v1.2h-1.2zM151.2 706.5h1.2v1.2h-1.2zM142.8 699.0h1.2v1.2h-1.2z"/><path fill="rgb(160,160,160)" d="M104.2 609.4h1.2v1.2h-1.2zM106.3 607.8h1.2v1.2h-1.2zM114.0 611.6h1.2v1.2h-1.2zM104.8 603.9h1.2v1.2h-1.2zM64.5 687.5h1.2v1.2h-1.2zM91.3 672.3h1.2v1.2h-1.2zM77.7 688.5h1.2v1.2h-1.2zM89.2 698.5h1.2v1.2h-1.2zM77.8 677.5h1.2v1.2h-1.2zM89.7 702.6h1.2v1.2h-1.2zM72.3 700.1h1.2v1.2h-1.2zM68.5 670.4h1.2v1.2h-1.2zM83.0 668.1h1.2v1.2h-1.2zM86.2 690.4h1.2v1.2h-1.2zM72.6 681.9h1.2v1.2h-1.2zM82.0 692.1h1.2v1.2h-1.2zM77.3 700.2h1.2v1.2h-1.2zM80.7 698.5h1.2v1.2h-1.2zM72.2 693.0h1.2v1.2h-1.2zM90.7 699.5h1.2v1.2h-1.2zM94.5 688.6h1.2v1.2h-1.2zM102.5 698.8h1.2v1.2h-1.2zM95.2 694.0h1.2v1.2h-1.2zM77.1 696.0h1.2v1.2h-1.2zM87.9 700.2h1.2v1.2h-1.2zM88.9 692.2h1.2v1.2h-1.2zM77.5 677.6h1.2v1.2h-1.2zM65.1 690.6h1.2v1.2h-1.2zM72.6 691.8h1.2v1.2h-1.2zM97.3 676.0h1.2v1.2h-1.2zM89.5 675.2h1.2v1.2h-1.2zM65.9 673.5h1.2v1.2h-1.2zM91.2 682.0h1.2v1.2h-1.2zM83.1 679.6h1.2v1.2h-1.2zM67.2 693.1h1.2v1.2h-1.2zM67.8 673.9h1.2v1.2h-1.2zM70.2 697.2h1.2v1.2h-1.2zM88.7 687.7h1.2v1.2h-1.2zM86.8 667.9h1.2v1.2h-1.2zM93.7 681.4h1.2v1.2h-1.2zM98.7 696.7h1.2v1.2h-1.2zM115.4 685.7h1.2v1.2h-1.2zM105.6 649.8h1.2v1.2h-1.2zM101.0 687.2h1.2v1.2h-1.2zM95.0 688.6h1.2v1.2h-1.2zM107.1 666.3h1.2v1.2h-1.2zM105.3 684.5h1.2v1.2h-1.2zM102.8 683.4h1.2v1.2h-1.2zM107.1 681.1h1.2v1.2h-1.2zM98.7 699.4h1.2v1.2h-1.2zM126.6 659.8h1.2v1.2h-1.2zM198.7 637.3h1.2v1.2h-1.2zM126.2 673.9h1.2v1.2h-1.2zM156.3 672.4h1.2v1.2h-1.2zM168.9 673.5h1.2v1.2h-1.2zM175.8 668.4h1.2v1.2h-1.2zM126.9 716.5h1.2v1.2h-1.2zM132.0 664.2h1.2v1.2h-1.2zM141.4 638.7h1.2v1.2h-1.2zM140.8 686.8h1.2v1.2h-1.2zM154.8 668.6h1.2v1.2h-1.2zM195.0 686.7h1.2v1.2h-1.2zM133.5 647.4h1.2v1.2h-1.2zM171.5 662.5h1.2v1.2h-1.2zM139.4 681.7h1.2v1.2h-1.2zM140.3 686.2h1.2v1.2h-1.2zM165.9 668.6h1.2v1.2h-1.2zM142.1 680.1h1.2v1.2h-1.2zM146.8 667.1h1.2v1.2h-1.2zM144.2 663.9h1.2v1.2h-1.2zM173.0 688.8h1.2v1.2h-1.2zM156.5 632.7h1.2v1.2h-1.2zM178.0 686.3h1.2v1.2h-1.2zM120.0 684.9h1.2v1.2h-1.2zM151.1 657.3h1.2v1.2h-1.2zM145.5 678.7h1.2v1.2h-1.2zM158.3 668.8h1.2v1.2h-1.2zM145.7 653.7h1.2v1.2h-1.2zM125.7 664.8h1.2v1.2h-1.2zM142.7 657.7h1.2v1.2h-1.2zM133.0 654.7h1.2v1.2h-1.2zM139.0 674.1h1.2v1.2h-1.2zM161.7 686.1h1.2v1.2h-1.2zM142.5 672.9h1.2v1.2h-1.2zM122.8 681.5h1.2v1.2h-1.2zM163.0 654.1h1.2v1.2h-1.2zM179.7 666.2h1.2v1.2h-1.2zM163.5 678.5h1.2v1.2h-1.2zM143.2 681.4h1.2v1.2h-1.2zM154.5 653.2h1.2v1.2h-1.2zM146.4 678.3h1.2v1.2h-1.2zM146.1 687.7h1.2v1.2h-1.2zM143.4 705.4h1.2v1.2h-1.2zM141.1 704.9h1.2v1.2h-1.2zM150.4 711.6h1.2v1.2h-1.2zM137.1 694.8h1.2v1.2h-1.2zM131.5 726.3h1.2v1.2h-1.2zM160.6 722.9h1.2v1.2h-1.2zM158.2 713.6h1.2v1.2h-1.2zM145.4 718.2h1.2v1.2h-1.2zM152.1 704.9h1.2v1.2h-1.2zM160.5 725.3h1.2v1.2h-1.2zM148.9 701.2h1.2v1.2h-1.2z"/><path fill="rgb(180,180,180)" d="M115.6 607.6h1.0v1.0h-1.0zM120.9 610.8h1.0v1.0h-1.0zM109.7 610.2h1.0v1.0h-1.0zM114.7 609.0h1.0v1.0h-1.0zM104.3 613.2h1.0v1.0h-1.0zM107.6 619.9h1.0v1.0h-1.0zM105.2 609.4h1.0v1.0h-1.0zM104.3 603.4h1.0v1.0h-1.0zM91.9 691.4h1.0v1.0h-1.0zM95.4 674.8h1.0v1.0h-1.0zM72.3 686.1h1.0v1.0h-1.0zM61.4 710.0h1.0v1.0h-1.0zM78.0 704.7h1.0v1.0h-1.0zM83.7 671.5h1.0v1.0h-1.0zM74.2 690.2h1.0v1.0h-1.0zM99.7 687.7h1.0v1.0h-1.0zM65.0 676.9h1.0v1.0h-1.0zM88.0 678.8h1.0v1.0h-1.0zM85.1 680.0h1.0v1.0h-1.0zM100.0 688.3h1.0v1.0h-1.0zM77.9 693.9h1.0v1.0h-1.0zM70.4 699.7h1.0v1.0h-1.0zM82.6 685.1h1.0v1.0h-1.0zM77.4 681.2h1.0v1.0h-1.0zM74.6 697.3h1.0v1.0h-1.0zM64.9 689.2h1.0v1.0h-1.0zM106.5 694.7h1.0v1.0h-1.0zM70.1 692.3h1.0v1.0h-1.0zM88.3 678.4h1.0v1.0h-1.0zM77.5 678.5h1.0v1.0h-1.0zM68.2 695.4h1.0v1.0h-1.0zM63.8 697.2h1.0v1.0h-1.0zM70.7 695.2h1.0v1.0h-1.0zM79.3 680.0h1.0v1.0h-1.0zM99.3 686.4h1.0v1.0h-1.0zM77.5 700.0h1.0v1.0h-1.0zM82.0 686.7h1.0v1.0h-1.0zM88.4 674.7h1.0v1.0h-1.0zM79.2 692.3h1.0v1.0h-1.0zM79.0 691.4h1.0v1.0h-1.0zM92.5 683.3h1.0v1.0h-1.0zM72.2 680.8h1.0v1.0h-1.0zM78.8 690.7h1.0v1.0h-1.0zM80.8 689.5h1.0v1.0h-1.0zM82.0 685.1h1.0v1.0h-1.0zM77.2 689.8h1.0v1.0h-1.0zM99.2 684.9h1.0v1.0h-1.0zM71.8 668.7h1.0v1.0h-1.0zM83.8 690.3h1.0v1.0h-1.0zM107.8 685.7h1.0v1.0h-1.0zM121.3 677.4h1.0v1.0h-1.0zM103.5 670.4h1.0v1.0h-1.0zM88.5 680.1h1.0v1.0h-1.0zM100.7 671.0h1.0v1.0h-1.0zM112.1 699.4h1.0v1.0h-1.0zM95.4 669.3h1.0v1.0h-1.0zM106.7 714.9h1.0v1.0h-1.0zM108.1 681.2h1.0v1.0h-1.0zM105.3 681.2h1.0v1.0h-1.0zM104.7 673.8h1.0v1.0h-1.0zM118.9 685.8h1.0v1.0h-1.0zM98.5 695.6h1.0v1.0h-1.0zM102.6 678.9h1.0v1.0h-1.0zM103.8 682.5h1.0v1.0h-1.0zM149.6 692.1h1.0v1.0h-1.0zM149.5 668.6h1.0v1.0h-1.0zM147.6 696.7h1.0v1.0h-1.0zM142.0 666.3h1.0v1.0h-1.0zM154.3 672.9h1.0v1.0h-1.0zM151.1 640.9h1.0v1.0h-1.0zM147.7 670.9h1.0v1.0h-1.0zM112.9 667.3h1.0v1.0h-1.0zM128.5 684.8h1.0v1.0h-1.0zM158.2 663.2h1.0v1.0h-1.0zM107.3 647.5h1.0v1.0h-1.0zM112.5 667.0h1.0v1.0h-1.0zM171.6 684.9h1.0v1.0h-1.0zM152.5 663.0h1.0v1.0h-1.0zM163.0 678.3h1.0v1.0h-1.0zM138.0 692.2h1.0v1.0h-1.0zM170.5 685.5h1.0v1.0h-1.0zM152.4 668.5h1.0v1.0h-1.0zM128.0 694.4h1.0v1.0h-1.0zM148.0 684.2h1.0v1.0h-1.0zM144.8 711.8h1.0v1.0h-1.0zM144.6 653.9h1.0v1.0h-1.0zM131.3 673.6h1.0v1.0h-1.0zM148.7 677.7h1.0v1.0h-1.0zM144.0 643.3h1.0v1.0h-1.0zM142.8 659.2h1.0v1.0h-1.0zM181.6 656.3h1.0v1.0h-1.0zM162.0 681.4h1.0v1.0h-1.0zM134.0 670.6h1.0v1.0h-1.0zM133.9 673.4h1.0v1.0h-1.0zM168.3 674.6h1.0v1.0h-1.0zM148.9 659.6h1.0v1.0h-1.0zM139.7 706.2h1.0v1.0h-1.0zM147.7 688.7h1.0v1.0h-1.0zM141.8 696.0h1.0v1.0h-1.0zM166.5 666.4h1.0v1.0h-1.0zM136.6 674.8h1.0v1.0h-1.0zM179.6 669.7h1.0v1.0h-1.0zM146.7 693.1h1.0v1.0h-1.0zM123.2 704.5h1.0v1.0h-1.0zM139.7 695.2h1.0v1.0h-1.0zM151.0 687.6h1.0v1.0h-1.0zM179.3 680.1h1.0v1.0h-1.0zM175.4 665.1h1.0v1.0h-1.0zM169.5 657.3h1.0v1.0h-1.0zM190.8 651.6h1.0v1.0h-1.0zM160.6 676.5h1.0v1.0h-1.0zM146.9 682.4h1.0v1.0h-1.0zM159.8 675.6h1.0v1.0h-1.0zM153.4 682.0h1.0v1.0h-1.0zM169.3 680.8h1.0v1.0h-1.0zM132.8 675.7h1.0v1.0h-1.0zM150.5 661.1h1.0v1.0h-1.0zM153.5 675.4h1.0v1.0h-1.0zM151.3 674.7h1.0v1.0h-1.0zM153.0 682.5h1.0v1.0h-1.0zM152.8 666.1h1.0v1.0h-1.0zM149.3 681.4h1.0v1.0h-1.0zM135.9 696.2h1.0v1.0h-1.0zM144.7 685.0h1.0v1.0h-1.0zM129.1 685.2h1.0v1.0h-1.0zM137.1 720.0h1.0v1.0h-1.0zM160.5 665.5h1.0v1.0h-1.0zM140.4 690.0h1.0v1.0h-1.0zM136.0 701.4h1.0v1.0h-1.0zM158.7 678.0h1.0v1.0h-1.0zM152.8 700.1h1.0v1.0h-1.0zM148.2 684.5h1.0v1.0h-1.0zM180.4 667.3h1.0v1.0h-1.0zM145.3 686.2h1.0v1.0h-1.0zM166.7 681.3h1.0v1.0h-1.0zM147.2 687.9h1.0v1.0h-1.0zM133.5 685.9h1.0v1.0h-1.0zM177.6 664.7h1.0v1.0h-1.0zM166.7 677.9h1.0v1.0h-1.0zM168.9 664.1h1.0v1.0h-1.0zM144.2 683.2h1.0v1.0h-1.0zM147.2 694.9h1.0v1.0h-1.0zM145.5 689.2h1.0v1.0h-1.0zM152.1 683.0h1.0v1.0h-1.0zM149.0 688.6h1.0v1.0h-1.0zM161.6 654.6h1.0v1.0h-1.0zM153.6 676.1h1.0v1.0h-1.0zM157.8 667.4h1.0v1.0h-1.0zM145.9 696.5h1.0v1.0h-1.0zM150.8 700.2h1.0v1.0h-1.0zM187.9 663.8h1.0v1.0h-1.0zM163.3 664.4h1.0v1.0h-1.0zM144.4 706.7h1.0v1.0h-1.0zM151.3 666.5h1.0v1.0h-1.0zM152.8 659.8h1.0v1.0h-1.0zM159.3 661.3h1.0v1.0h-1.0zM133.3 678.2h1.0v1.0h-1.0zM172.3 685.0h1.0v1.0h-1.0zM150.1 711.0h1.0v1.0h-1.0zM152.8 674.9h1.0v1.0h-1.0zM160.1 682.3h1.0v1.0h-1.0zM129.5 675.0h1.0v1.0h-1.0zM143.5 684.0h1.0v1.0h-1.0zM162.6 662.8h1.0v1.0h-1.0zM155.6 684.9h1.0v1.0h-1.0zM160.7 678.3h1.0v1.0h-1.0zM152.3 676.0h1.0v1.0h-1.0zM136.1 680.8h1.0v1.0h-1.0zM123.4 691.2h1.0v1.0h-1.0zM150.0 673.6h1.0v1.0h-1.0zM139.9 693.8h1.0v1.0h-1.0zM164.5 662.3h1.0v1.0h-1.0zM153.1 681.6h1.0v1.0h-1.0zM170.1 673.9h1.0v1.0h-1.0zM141.0 699.4h1.0v1.0h-1.0zM150.9 688.2h1.0v1.0h-1.0zM148.0 693.3h1.0v1.0h-1.0zM160.1 678.2h1.0v1.0h-1.0zM162.8 669.6h1.0v1.0h-1.0zM147.8 689.6h1.0v1.0h-1.0zM127.2 696.8h1.0v1.0h-1.0zM175.2 662.6h1.0v1.0h-1.0zM159.3 666.5h1.0v1.0h-1.0zM153.5 687.4h1.0v1.0h-1.0zM161.3 664.4h1.0v1.0h-1.0zM164.2 659.1h1.0v1.0h-1.0zM155.2 671.4h1.0v1.0h-1.0zM167.4 689.6h1.0v1.0h-1.0zM150.7 669.7h1.0v1.0h-1.0zM131.8 697.8h1.0v1.0h-1.0zM113.7 686.8h1.0v1.0h-1.0zM144.2 695.3h1.0v1.0h-1.0zM154.5 687.9h1.0v1.0h-1.0zM153.0 673.3h1.0v1.0h-1.0zM155.8 683.7h1.0v1.0h-1.0zM159.4 670.9h1.0v1.0h-1.0zM148.0 693.3h1.0v1.0h-1.0zM147.5 688.3h1.0v1.0h-1.0zM165.5 659.7h1.0v1.0h-1.0zM133.8 692.7h1.0v1.0h-1.0zM148.4 677.9h1.0v1.0h-1.0zM158.8 682.3h1.0v1.0h-1.0zM159.8 659.9h1.0v1.0h-1.0zM157.5 687.8h1.0v1.0h-1.0zM152.9 680.9h1.0v1.0h-1.0zM170.7 668.2h1.0v1.0h-1.0zM162.6 693.4h1.0v1.0h-1.0zM157.5 650.0h1.0v1.0h-1.0zM138.8 670.0h1.0v1.0h-1.0zM156.8 664.2h1.0v1.0h-1.0zM153.9 678.4h1.0v1.0h-1.0zM149.5 681.2h1.0v1.0h-1.0zM157.0 667.8h1.0v1.0h-1.0zM149.8 691.7h1.0v1.0h-1.0zM160.0 681.4h1.0v1.0h-1.0zM136.4 705.6h1.0v1.0h-1.0zM159.5 688.7h1.0v1.0h-1.0zM154.7 690.3h1.0v1.0h-1.0zM135.6 695.9h1.0v1.0h-1.0zM150.2 666.9h1.0v1.0h-1.0zM153.9 674.5h1.0v1.0h-1.0zM160.9 665.3h1.0v1.0h-1.0zM138.5 677.1h1.0v1.0h-1.0zM131.8 666.1h1.0v1.0h-1.0zM141.7 676.6h1.0v1.0h-1.0zM163.4 672.9h1.0v1.0h-1.0zM140.8 675.6h1.0v1.0h-1.0zM136.4 680.2h1.0v1.0h-1.0zM144.9 679.7h1.0v1.0h-1.0zM145.8 685.3h1.0v1.0h-1.0zM161.7 671.2h1.0v1.0h-1.0zM155.7 673.1h1.0v1.0h-1.0zM133.4 692.4h1.0v1.0h-1.0zM150.5 686.3h1.0v1.0h-1.0zM151.7 671.9h1.0v1.0h-1.0zM142.6 705.1h1.0v1.0h-1.0zM147.2 706.0h1.0v1.0h-1.0zM148.9 671.7h1.0v1.0h-1.0zM158.9 665.9h1.0v1.0h-1.0zM142.7 691.1h1.0v1.0h-1.0zM165.1 672.2h1.0v1.0h-1.0zM170.2 672.1h1.0v1.0h-1.0zM143.6 720.6h1.0v1.0h-1.0zM155.2 701.7h1.0v1.0h-1.0zM145.1 709.8h1.0v1.0h-1.0zM143.7 720.0h1.0v1.0h-1.0zM161.5 717.9h1.0v1.0h-1.0zM152.5 728.3h1.0v1.0h-1.0zM129.6 692.3h1.0v1.0h-1.0zM148.1 728.8h1.0v1.0h-1.0zM145.8 714.3h1.0v1.0h-1.0z"/><path fill="rgb(140,140,140)" d="M113.4 610.7h1.2v1.2h-1.2zM102.0 602.2h1.2v1.2h-1.2zM102.9 603.1h1.2v1.2h-1.2zM101.0 603.2h1.2v1.2h-1.2zM91.0 693.3h1.2v1.2h-1.2zM73.2 687.5h1.2v1.2h-1.2zM62.7 691.9h1.2v1.2h-1.2zM73.8 682.0h1.2v1.2h-1.2zM67.3 666.9h1.2v1.2h-1.2zM85.7 684.0h1.2v1.2h-1.2zM70.1 702.9h1.2v1.2h-1.2zM80.6 677.9h1.2v1.2h-1.2zM64.6 690.2h1.2v1.2h-1.2zM86.4 678.7h1.2v1.2h-1.2zM93.2 679.7h1.2v1.2h-1.2zM74.6 699.3h1.2v1.2h-1.2zM71.6 685.3h1.2v1.2h-1.2zM78.4 683.3h1.2v1.2h-1.2zM69.1 703.0h1.2v1.2h-1.2zM66.2 699.4h1.2v1.2h-1.2zM75.6 702.7h1.2v1.2h-1.2zM71.2 700.2h1.2v1.2h-1.2zM91.2 696.7h1.2v1.2h-1.2zM69.7 698.1h1.2v1.2h-1.2zM82.5 677.1h1.2v1.2h-1.2zM84.3 686.6h1.2v1.2h-1.2zM73.2 683.6h1.2v1.2h-1.2zM83.1 706.3h1.2v1.2h-1.2zM80.6 683.6h1.2v1.2h-1.2zM68.4 683.5h1.2v1.2h-1.2zM62.4 688.9h1.2v1.2h-1.2zM77.5 705.6h1.2v1.2h-1.2zM91.9 704.3h1.2v1.2h-1.2zM68.7 676.9h1.2v1.2h-1.2zM92.7 660.3h1.2v1.2h-1.2zM66.2 699.7h1.2v1.2h-1.2zM64.1 664.9h1.2v1.2h-1.2zM75.0 704.7h1.2v1.2h-1.2zM109.2 690.4h1.2v1.2h-1.2zM101.7 670.9h1.2v1.2h-1.2zM118.4 690.6h1.2v1.2h-1.2zM110.3 690.8h1.2v1.2h-1.2zM119.2 681.7h1.2v1.2h-1.2zM106.9 669.4h1.2v1.2h-1.2zM115.6 677.7h1.2v1.2h-1.2zM103.5 686.8h1.2v1.2h-1.2zM113.7 681.7h1.2v1.2h-1.2zM100.9 694.2h1.2v1.2h-1.2zM153.0 658.1h1.2v1.2h-1.2zM137.8 657.2h1.2v1.2h-1.2zM143.2 666.4h1.2v1.2h-1.2zM173.0 672.7h1.2v1.2h-1.2zM175.3 665.9h1.2v1.2h-1.2zM163.3 687.7h1.2v1.2h-1.2zM172.3 681.7h1.2v1.2h-1.2zM171.6 649.2h1.2v1.2h-1.2zM132.4 674.2h1.2v1.2h-1.2zM129.5 684.8h1.2v1.2h-1.2zM142.5 690.5h1.2v1.2h-1.2zM161.9 660.2h1.2v1.2h-1.2zM158.0 686.0h1.2v1.2h-1.2zM168.6 698.4h1.2v1.2h-1.2zM155.2 642.8h1.2v1.2h-1.2zM163.8 673.4h1.2v1.2h-1.2zM141.5 661.7h1.2v1.2h-1.2zM132.3 694.8h1.2v1.2h-1.2zM176.5 676.9h1.2v1.2h-1.2zM154.6 672.2h1.2v1.2h-1.2zM125.4 676.3h1.2v1.2h-1.2zM144.6 678.3h1.2v1.2h-1.2zM133.7 670.9h1.2v1.2h-1.2zM162.4 647.9h1.2v1.2h-1.2zM145.6 668.7h1.2v1.2h-1.2zM123.7 696.3h1.2v1.2h-1.2zM137.1 653.2h1.2v1.2h-1.2zM144.9 676.1h1.2v1.2h-1.2zM162.1 694.4h1.2v1.2h-1.2zM150.1 660.4h1.2v1.2h-1.2zM164.1 674.4h1.2v1.2h-1.2zM156.2 690.3h1.2v1.2h-1.2zM154.0 642.0h1.2v1.2h-1.2zM145.2 672.8h1.2v1.2h-1.2zM148.8 677.1h1.2v1.2h-1.2zM139.2 691.0h1.2v1.2h-1.2zM136.2 677.3h1.2v1.2h-1.2zM175.2 664.3h1.2v1.2h-1.2zM156.8 668.2h1.2v1.2h-1.2zM161.0 722.6h1.2v1.2h-1.2zM158.6 716.4h1.2v1.2h-1.2zM160.2 706.6h1.2v1.2h-1.2zM136.7 717.4h1.2v1.2h-1.2zM140.2 722.1h1.2v1.2h-1.2zM154.9 732.0h1.2v1.2h-1.2zM156.3 713.2h1.2v1.2h-1.2zM153.9 713.8h1.2v1.2h-1.2zM140.7 720.6h1.2v1.2h-1.2zM163.0 703.0h1.2v1.2h-1.2zM149.7 713.6h1.2v1.2h-1.2zM131.9 718.4h1.2v1.2h-1.2zM136.2 712.7h1.2v1.2h-1.2zM167.1 708.5h1.2v1.2h-1.2zM156.1 721.3h1.2v1.2h-1.2zM139.9 720.3h1.2v1.2h-1.2zM134.2 737.5h1.2v1.2h-1.2z"/><path fill="rgb(180,180,180)" d="M118.1 615.6h1.2v1.2h-1.2zM106.4 610.5h1.2v1.2h-1.2zM104.4 607.8h1.2v1.2h-1.2zM110.5 608.6h1.2v1.2h-1.2zM107.9 613.2h1.2v1.2h-1.2zM78.3 690.6h1.2v1.2h-1.2zM69.9 682.2h1.2v1.2h-1.2zM83.2 708.8h1.2v1.2h-1.2zM71.3 671.9h1.2v1.2h-1.2zM90.5 683.7h1.2v1.2h-1.2zM79.8 684.2h1.2v1.2h-1.2zM78.3 682.2h1.2v1.2h-1.2zM85.1 680.8h1.2v1.2h-1.2zM82.1 668.2h1.2v1.2h-1.2zM77.5 691.4h1.2v1.2h-1.2zM68.4 693.8h1.2v1.2h-1.2zM64.8 671.9h1.2v1.2h-1.2zM87.3 695.7h1.2v1.2h-1.2zM79.7 677.5h1.2v1.2h-1.2zM68.7 692.3h1.2v1.2h-1.2zM69.0 690.6h1.2v1.2h-1.2zM74.1 685.3h1.2v1.2h-1.2zM96.2 691.0h1.2v1.2h-1.2zM86.4 691.7h1.2v1.2h-1.2zM98.7 665.2h1.2v1.2h-1.2zM100.1 691.1h1.2v1.2h-1.2zM67.7 685.4h1.2v1.2h-1.2zM61.5 688.9h1.2v1.2h-1.2zM70.9 701.2h1.2v1.2h-1.2zM75.2 682.7h1.2v1.2h-1.2zM84.3 688.1h1.2v1.2h-1.2zM72.8 698.0h1.2v1.2h-1.2zM101.6 696.5h1.2v1.2h-1.2zM86.7 695.7h1.2v1.2h-1.2zM83.0 701.6h1.2v1.2h-1.2zM74.6 702.3h1.2v1.2h-1.2zM62.1 665.6h1.2v1.2h-1.2zM71.0 681.0h1.2v1.2h-1.2zM73.3 678.4h1.2v1.2h-1.2zM97.3 687.1h1.2v1.2h-1.2zM64.1 695.1h1.2v1.2h-1.2zM68.5 677.3h1.2v1.2h-1.2zM106.6 701.3h1.2v1.2h-1.2zM112.4 676.0h1.2v1.2h-1.2zM106.5 680.5h1.2v1.2h-1.2zM108.5 707.8h1.2v1.2h-1.2zM108.1 652.1h1.2v1.2h-1.2zM99.8 698.6h1.2v1.2h-1.2zM102.9 675.5h1.2v1.2h-1.2zM97.5 694.0h1.2v1.2h-1.2zM113.3 696.1h1.2v1.2h-1.2zM118.0 680.3h1.2v1.2h-1.2zM106.6 685.1h1.2v1.2h-1.2zM105.2 697.2h1.2v1.2h-1.2zM103.5 677.9h1.2v1.2h-1.2zM105.3 676.2h1.2v1.2h-1.2zM154.1 666.2h1.2v1.2h-1.2zM177.1 662.3h1.2v1.2h-1.2zM183.3 661.3h1.2v1.2h-1.2zM157.9 678.7h1.2v1.2h-1.2zM133.4 650.1h1.2v1.2h-1.2zM167.7 685.1h1.2v1.2h-1.2zM175.2 675.3h1.2v1.2h-1.2zM160.2 691.4h1.2v1.2h-1.2zM145.8 679.4h1.2v1.2h-1.2zM137.3 672.3h1.2v1.2h-1.2zM155.4 648.0h1.2v1.2h-1.2zM142.6 671.8h1.2v1.2h-1.2zM139.9 657.5h1.2v1.2h-1.2zM145.1 678.7h1.2v1.2h-1.2zM123.7 666.3h1.2v1.2h-1.2zM153.4 675.4h1.2v1.2h-1.2zM136.6 684.5h1.2v1.2h-1.2zM124.2 673.0h1.2v1.2h-1.2zM173.8 673.3h1.2v1.2h-1.2zM142.2 675.8h1.2v1.2h-1.2zM118.8 663.1h1.2v1.2h-1.2zM159.7 644.4h1.2v1.2h-1.2zM168.2 634.7h1.2v1.2h-1.2zM135.0 685.6h1.2v1.2h-1.2zM151.5 667.3h1.2v1.2h-1.2zM159.9 664.0h1.2v1.2h-1.2zM131.2 688.3h1.2v1.2h-1.2zM148.7 693.5h1.2v1.2h-1.2zM161.6 688.3h1.2v1.2h-1.2zM165.6 637.9h1.2v1.2h-1.2zM151.2 686.6h1.2v1.2h-1.2zM187.5 694.9h1.2v1.2h-1.2zM129.1 670.1h1.2v1.2h-1.2zM128.7 679.7h1.2v1.2h-1.2zM167.9 667.9h1.2v1.2h-1.2zM143.2 683.1h1.2v1.2h-1.2zM166.0 651.8h1.2v1.2h-1.2zM169.7 675.7h1.2v1.2h-1.2zM158.0 668.8h1.2v1.2h-1.2zM155.1 692.6h1.2v1.2h-1.2zM169.3 667.1h1.2v1.2h-1.2zM136.5 665.3h1.2v1.2h-1.2zM136.6 710.2h1.2v1.2h-1.2zM151.2 701.2h1.2v1.2h-1.2zM163.3 714.5h1.2v1.2h-1.2zM125.6 726.6h1.2v1.2h-1.2zM150.8 728.0h1.2v1.2h-1.2zM152.3 710.7h1.2v1.2h-1.2z"/><path fill="rgb(90,90,90)" d="M79.0 692.0h1.0v1.0h-1.0zM98.8 695.8h1.0v1.0h-1.0zM82.0 693.7h1.0v1.0h-1.0zM65.2 690.9h1.0v1.0h-1.0zM59.9 685.4h1.0v1.0h-1.0zM69.3 689.5h1.0v1.0h-1.0zM71.6 692.0h1.0v1.0h-1.0zM80.3 674.5h1.0v1.0h-1.0zM82.7 704.1h1.0v1.0h-1.0zM65.0 676.4h1.0v1.0h-1.0zM83.5 675.7h1.0v1.0h-1.0zM71.5 691.6h1.0v1.0h-1.0zM80.8 683.9h1.0v1.0h-1.0zM75.6 691.1h1.0v1.0h-1.0zM92.4 682.3h1.0v1.0h-1.0zM84.7 672.7h1.0v1.0h-1.0zM85.3 696.1h1.0v1.0h-1.0zM66.4 684.7h1.0v1.0h-1.0zM68.1 666.0h1.0v1.0h-1.0zM81.0 697.4h1.0v1.0h-1.0zM77.7 677.2h1.0v1.0h-1.0zM89.2 700.4h1.0v1.0h-1.0zM72.2 698.6h1.0v1.0h-1.0zM89.1 679.4h1.0v1.0h-1.0zM85.9 689.3h1.0v1.0h-1.0zM70.8 687.5h1.0v1.0h-1.0zM96.2 673.8h1.0v1.0h-1.0zM72.2 696.2h1.0v1.0h-1.0zM78.8 694.5h1.0v1.0h-1.0zM67.8 689.8h1.0v1.0h-1.0zM151.5 685.6h1.0v1.0h-1.0zM159.9 694.8h1.0v1.0h-1.0zM179.3 654.8h1.0v1.0h-1.0zM156.5 667.9h1.0v1.0h-1.0zM134.9 712.9h1.0v1.0h-1.0zM151.2 683.6h1.0v1.0h-1.0zM133.5 699.2h1.0v1.0h-1.0zM146.3 686.5h1.0v1.0h-1.0zM141.4 684.6h1.0v1.0h-1.0zM140.8 681.0h1.0v1.0h-1.0zM146.1 674.0h1.0v1.0h-1.0zM144.1 696.3h1.0v1.0h-1.0zM141.0 701.4h1.0v1.0h-1.0zM153.5 657.7h1.0v1.0h-1.0zM168.7 668.6h1.0v1.0h-1.0zM138.1 689.4h1.0v1.0h-1.0zM149.9 681.3h1.0v1.0h-1.0zM139.2 679.9h1.0v1.0h-1.0zM125.2 693.3h1.0v1.0h-1.0zM133.2 690.6h1.0v1.0h-1.0zM163.2 655.6h1.0v1.0h-1.0zM159.0 667.5h1.0v1.0h-1.0zM152.2 676.2h1.0v1.0h-1.0zM150.1 655.3h1.0v1.0h-1.0zM147.3 670.6h1.0v1.0h-1.0zM137.2 688.0h1.0v1.0h-1.0zM159.7 678.8h1.0v1.0h-1.0zM151.6 681.8h1.0v1.0h-1.0zM151.8 680.2h1.0v1.0h-1.0zM175.6 670.4h1.0v1.0h-1.0zM126.6 720.5h1.0v1.0h-1.0zM161.1 669.7h1.0v1.0h-1.0zM161.6 680.1h1.0v1.0h-1.0zM151.6 694.0h1.0v1.0h-1.0zM167.1 673.1h1.0v1.0h-1.0zM160.1 685.2h1.0v1.0h-1.0zM156.8 685.6h1.0v1.0h-1.0zM147.3 684.5h1.0v1.0h-1.0zM154.2 685.1h1.0v1.0h-1.0zM158.1 663.4h1.0v1.0h-1.0zM171.9 655.1h1.0v1.0h-1.0zM141.8 660.7h1.0v1.0h-1.0zM143.4 684.6h1.0v1.0h-1.0zM161.6 678.2h1.0v1.0h-1.0zM157.1 685.0h1.0v1.0h-1.0zM134.1 692.0h1.0v1.0h-1.0zM133.4 692.5h1.0v1.0h-1.0zM163.7 659.5h1.0v1.0h-1.0zM131.8 690.7h1.0v1.0h-1.0zM130.8 714.5h1.0v1.0h-1.0zM140.9 681.2h1.0v1.0h-1.0zM140.1 686.9h1.0v1.0h-1.0zM159.1 683.7h1.0v1.0h-1.0zM134.6 701.2h1.0v1.0h-1.0zM147.7 684.0h1.0v1.0h-1.0zM140.8 676.5h1.0v1.0h-1.0zM144.3 682.5h1.0v1.0h-1.0zM151.4 689.1h1.0v1.0h-1.0zM148.4 670.0h1.0v1.0h-1.0zM141.2 684.7h1.0v1.0h-1.0zM147.8 688.5h1.0v1.0h-1.0zM150.1 714.8h1.0v1.0h-1.0zM167.5 658.6h1.0v1.0h-1.0zM161.5 671.7h1.0v1.0h-1.0zM131.6 702.5h1.0v1.0h-1.0zM153.2 672.3h1.0v1.0h-1.0zM165.2 692.8h1.0v1.0h-1.0zM166.4 670.4h1.0v1.0h-1.0zM151.3 674.5h1.0v1.0h-1.0zM161.9 677.6h1.0v1.0h-1.0zM145.3 691.8h1.0v1.0h-1.0zM146.6 683.4h1.0v1.0h-1.0zM144.2 664.6h1.0v1.0h-1.0zM123.1 710.8h1.0v1.0h-1.0zM163.6 671.7h1.0v1.0h-1.0zM162.1 675.1h1.0v1.0h-1.0zM161.5 677.5h1.0v1.0h-1.0zM149.0 683.6h1.0v1.0h-1.0zM127.1 687.6h1.0v1.0h-1.0zM144.5 699.2h1.0v1.0h-1.0zM148.5 682.9h1.0v1.0h-1.0zM142.8 685.3h1.0v1.0h-1.0zM147.3 694.8h1.0v1.0h-1.0zM151.7 689.7h1.0v1.0h-1.0zM161.3 685.3h1.0v1.0h-1.0zM155.9 657.5h1.0v1.0h-1.0zM163.9 673.0h1.0v1.0h-1.0zM165.6 662.8h1.0v1.0h-1.0zM135.6 711.0h1.0v1.0h-1.0zM151.6 673.3h1.0v1.0h-1.0zM154.3 666.2h1.0v1.0h-1.0zM147.4 697.5h1.0v1.0h-1.0zM161.5 650.3h1.0v1.0h-1.0zM173.4 658.4h1.0v1.0h-1.0zM171.7 678.3h1.0v1.0h-1.0zM154.4 668.4h1.0v1.0h-1.0zM149.7 677.9h1.0v1.0h-1.0zM174.7 682.2h1.0v1.0h-1.0zM155.0 686.8h1.0v1.0h-1.0zM145.8 699.8h1.0v1.0h-1.0zM162.8 679.1h1.0v1.0h-1.0zM135.4 692.8h1.0v1.0h-1.0zM146.0 685.2h1.0v1.0h-1.0z"/><path fill="rgb(90,90,90)" d="M63.0 716.0h1.2v1.2h-1.2zM76.3 690.5h1.2v1.2h-1.2zM72.5 675.5h1.2v1.2h-1.2zM66.6 664.2h1.2v1.2h-1.2zM68.6 696.8h1.2v1.2h-1.2zM73.4 691.5h1.2v1.2h-1.2zM91.7 675.5h1.2v1.2h-1.2zM76.1 690.1h1.2v1.2h-1.2zM76.7 667.0h1.2v1.2h-1.2zM100.2 702.9h1.2v1.2h-1.2zM89.9 694.4h1.2v1.2h-1.2zM87.9 673.0h1.2v1.2h-1.2zM61.7 684.9h1.2v1.2h-1.2zM68.9 697.9h1.2v1.2h-1.2zM78.9 699.4h1.2v1.2h-1.2zM82.1 690.0h1.2v1.2h-1.2zM68.4 678.1h1.2v1.2h-1.2zM75.7 692.9h1.2v1.2h-1.2z"/><path fill="rgb(110,110,110)" d="M148.0 687.0h1.0v1.0h-1.0zM137.1 679.2h1.0v1.0h-1.0zM153.9 698.6h1.0v1.0h-1.0zM134.2 687.0h1.0v1.0h-1.0zM137.2 695.7h1.0v1.0h-1.0zM157.7 679.7h1.0v1.0h-1.0zM181.4 655.1h1.0v1.0h-1.0zM154.2 678.0h1.0v1.0h-1.0zM153.4 688.3h1.0v1.0h-1.0zM174.9 678.8h1.0v1.0h-1.0zM155.8 677.7h1.0v1.0h-1.0zM137.8 686.1h1.0v1.0h-1.0zM140.7 690.7h1.0v1.0h-1.0zM137.2 692.3h1.0v1.0h-1.0zM153.4 683.1h1.0v1.0h-1.0zM156.6 668.5h1.0v1.0h-1.0zM166.6 676.6h1.0v1.0h-1.0zM155.2 669.8h1.0v1.0h-1.0zM161.2 671.5h1.0v1.0h-1.0zM163.6 669.8h1.0v1.0h-1.0zM148.9 664.1h1.0v1.0h-1.0zM146.3 680.8h1.0v1.0h-1.0zM122.1 694.2h1.0v1.0h-1.0zM163.4 655.7h1.0v1.0h-1.0zM143.6 684.7h1.0v1.0h-1.0zM149.6 688.7h1.0v1.0h-1.0zM167.2 662.7h1.0v1.0h-1.0zM136.9 686.1h1.0v1.0h-1.0zM161.4 654.0h1.0v1.0h-1.0zM128.4 704.0h1.0v1.0h-1.0zM120.7 704.1h1.0v1.0h-1.0zM152.6 667.9h1.0v1.0h-1.0zM152.8 676.5h1.0v1.0h-1.0zM132.2 705.1h1.0v1.0h-1.0zM158.6 677.0h1.0v1.0h-1.0zM146.4 684.1h1.0v1.0h-1.0zM150.0 669.3h1.0v1.0h-1.0zM160.3 676.8h1.0v1.0h-1.0zM130.6 710.8h1.0v1.0h-1.0zM143.2 680.3h1.0v1.0h-1.0zM141.1 675.6h1.0v1.0h-1.0zM137.4 699.7h1.0v1.0h-1.0zM150.9 666.6h1.0v1.0h-1.0zM147.1 695.6h1.0v1.0h-1.0zM160.4 675.6h1.0v1.0h-1.0zM157.3 662.5h1.0v1.0h-1.0zM140.5 673.8h1.0v1.0h-1.0zM154.6 692.6h1.0v1.0h-1.0zM155.4 679.3h1.0v1.0h-1.0zM158.5 679.5h1.0v1.0h-1.0zM137.5 694.8h1.0v1.0h-1.0zM139.3 680.1h1.0v1.0h-1.0zM162.6 666.0h1.0v1.0h-1.0zM155.0 660.4h1.0v1.0h-1.0zM152.3 675.4h1.0v1.0h-1.0zM161.9 683.6h1.0v1.0h-1.0zM160.5 687.7h1.0v1.0h-1.0zM157.0 668.2h1.0v1.0h-1.0zM136.3 693.1h1.0v1.0h-1.0zM167.0 670.0h1.0v1.0h-1.0zM148.0 696.0h1.0v1.0h-1.0zM158.4 669.9h1.0v1.0h-1.0zM162.6 684.3h1.0v1.0h-1.0zM153.5 683.2h1.0v1.0h-1.0zM143.4 699.2h1.0v1.0h-1.0zM138.7 692.3h1.0v1.0h-1.0zM153.5 677.0h1.0v1.0h-1.0zM124.7 686.1h1.0v1.0h-1.0zM150.1 670.4h1.0v1.0h-1.0zM166.0 655.2h1.0v1.0h-1.0zM163.4 663.1h1.0v1.0h-1.0zM152.5 689.9h1.0v1.0h-1.0zM138.7 681.2h1.0v1.0h-1.0zM146.5 685.2h1.0v1.0h-1.0zM145.2 697.5h1.0v1.0h-1.0zM136.5 682.7h1.0v1.0h-1.0zM159.1 688.9h1.0v1.0h-1.0zM131.5 709.3h1.0v1.0h-1.0zM137.7 684.2h1.0v1.0h-1.0zM158.4 673.7h1.0v1.0h-1.0zM170.5 691.3h1.0v1.0h-1.0zM154.4 696.5h1.0v1.0h-1.0zM148.6 694.3h1.0v1.0h-1.0zM119.9 700.7h1.0v1.0h-1.0zM160.1 672.3h1.0v1.0h-1.0zM163.3 678.6h1.0v1.0h-1.0zM156.6 661.6h1.0v1.0h-1.0zM141.0 684.4h1.0v1.0h-1.0zM141.1 701.3h1.0v1.0h-1.0zM164.0 669.8h1.0v1.0h-1.0zM167.6 669.7h1.0v1.0h-1.0zM155.7 666.3h1.0v1.0h-1.0zM134.0 680.6h1.0v1.0h-1.0zM159.7 670.0h1.0v1.0h-1.0zM144.4 699.7h1.0v1.0h-1.0zM127.9 726.5h1.0v1.0h-1.0zM131.7 682.7h1.0v1.0h-1.0zM152.4 672.5h1.0v1.0h-1.0zM156.3 675.3h1.0v1.0h-1.0zM157.2 687.0h1.0v1.0h-1.0zM135.4 705.1h1.0v1.0h-1.0zM145.4 679.9h1.0v1.0h-1.0zM158.2 666.9h1.0v1.0h-1.0zM157.9 671.0h1.0v1.0h-1.0zM148.2 671.7h1.0v1.0h-1.0zM141.9 678.2h1.0v1.0h-1.0zM154.2 686.6h1.0v1.0h-1.0zM161.5 670.4h1.0v1.0h-1.0zM148.6 667.5h1.0v1.0h-1.0zM159.5 684.2h1.0v1.0h-1.0zM150.2 694.1h1.0v1.0h-1.0zM142.6 685.3h1.0v1.0h-1.0zM169.3 675.4h1.0v1.0h-1.0zM142.7 675.4h1.0v1.0h-1.0zM142.4 694.0h1.0v1.0h-1.0zM163.7 669.3h1.0v1.0h-1.0zM133.8 679.2h1.0v1.0h-1.0zM143.2 683.7h1.0v1.0h-1.0zM144.0 680.4h1.0v1.0h-1.0zM167.6 654.0h1.0v1.0h-1.0zM139.2 684.3h1.0v1.0h-1.0zM139.3 689.1h1.0v1.0h-1.0zM139.0 680.0h1.0v1.0h-1.0zM108.8 720.2h1.0v1.0h-1.0zM134.1 685.0h1.0v1.0h-1.0zM148.2 679.7h1.0v1.0h-1.0zM159.6 685.2h1.0v1.0h-1.0zM179.6 652.2h1.0v1.0h-1.0zM150.8 670.4h1.0v1.0h-1.0zM139.9 698.5h1.0v1.0h-1.0zM161.5 667.0h1.0v1.0h-1.0zM159.4 669.4h1.0v1.0h-1.0zM162.7 647.6h1.0v1.0h-1.0z"/><path fill="rgb(110,110,110)" d="M135.1 693.2h1.3v1.3h-1.3zM170.7 668.8h1.3v1.3h-1.3zM147.9 698.3h1.3v1.3h-1.3zM164.2 665.8h1.3v1.3h-1.3zM160.4 687.8h1.3v1.3h-1.3zM168.8 682.5h1.3v1.3h-1.3zM150.0 687.8h1.3v1.3h-1.3zM143.3 680.9h1.3v1.3h-1.3zM139.9 690.5h1.3v1.3h-1.3zM155.8 668.5h1.3v1.3h-1.3zM155.0 675.0h1.3v1.3h-1.3zM151.5 695.1h1.3v1.3h-1.3zM139.5 680.9h1.3v1.3h-1.3zM160.2 662.5h1.3v1.3h-1.3zM162.8 697.1h1.3v1.3h-1.3zM178.4 648.7h1.3v1.3h-1.3zM164.8 675.8h1.3v1.3h-1.3zM164.9 672.7h1.3v1.3h-1.3zM137.5 679.7h1.3v1.3h-1.3zM140.5 674.0h1.3v1.3h-1.3zM153.4 670.4h1.3v1.3h-1.3zM135.5 702.0h1.3v1.3h-1.3zM153.1 673.2h1.3v1.3h-1.3zM139.9 671.6h1.3v1.3h-1.3zM128.5 714.3h1.3v1.3h-1.3zM150.8 684.0h1.3v1.3h-1.3zM166.6 677.0h1.3v1.3h-1.3zM149.0 680.2h1.3v1.3h-1.3zM148.3 691.1h1.3v1.3h-1.3zM149.1 674.4h1.3v1.3h-1.3zM155.4 672.6h1.3v1.3h-1.3zM158.7 661.3h1.3v1.3h-1.3zM154.7 666.7h1.3v1.3h-1.3zM167.0 674.0h1.3v1.3h-1.3zM134.8 719.8h1.3v1.3h-1.3zM138.0 687.9h1.3v1.3h-1.3zM142.5 696.7h1.3v1.3h-1.3zM135.6 681.7h1.3v1.3h-1.3zM152.4 662.6h1.3v1.3h-1.3zM150.6 678.1h1.3v1.3h-1.3zM143.1 675.9h1.3v1.3h-1.3zM145.7 689.5h1.3v1.3h-1.3zM169.9 667.5h1.3v1.3h-1.3zM144.9 683.4h1.3v1.3h-1.3zM150.3 682.5h1.3v1.3h-1.3zM140.7 681.1h1.3v1.3h-1.3zM161.4 673.3h1.3v1.3h-1.3zM165.0 657.1h1.3v1.3h-1.3zM126.7 689.3h1.3v1.3h-1.3zM146.5 693.3h1.3v1.3h-1.3zM147.0 661.6h1.3v1.3h-1.3zM149.1 682.3h1.3v1.3h-1.3zM152.3 670.4h1.3v1.3h-1.3zM151.4 682.3h1.3v1.3h-1.3zM167.1 686.8h1.3v1.3h-1.3zM135.1 697.6h1.3v1.3h-1.3zM164.2 687.0h1.3v1.3h-1.3zM162.6 674.7h1.3v1.3h-1.3zM137.9 689.0h1.3v1.3h-1.3zM148.3 688.3h1.3v1.3h-1.3zM155.8 668.3h1.3v1.3h-1.3zM134.1 702.6h1.3v1.3h-1.3zM150.9 693.5h1.3v1.3h-1.3zM164.3 677.2h1.3v1.3h-1.3zM170.8 659.1h1.3v1.3h-1.3zM162.4 665.8h1.3v1.3h-1.3zM146.2 684.4h1.3v1.3h-1.3zM135.2 671.2h1.3v1.3h-1.3zM132.6 676.9h1.3v1.3h-1.3zM145.1 675.3h1.3v1.3h-1.3zM145.0 667.4h1.3v1.3h-1.3zM147.6 686.4h1.3v1.3h-1.3zM163.7 668.6h1.3v1.3h-1.3zM163.0 656.1h1.3v1.3h-1.3zM129.7 694.3h1.3v1.3h-1.3zM144.3 692.4h1.3v1.3h-1.3zM141.7 686.7h1.3v1.3h-1.3zM171.8 658.2h1.3v1.3h-1.3zM146.5 667.1h1.3v1.3h-1.3zM141.2 686.0h1.3v1.3h-1.3zM186.9 656.9h1.3v1.3h-1.3zM157.7 672.8h1.3v1.3h-1.3zM178.1 670.4h1.3v1.3h-1.3zM156.9 686.5h1.3v1.3h-1.3zM145.9 684.3h1.3v1.3h-1.3zM132.6 702.9h1.3v1.3h-1.3zM179.6 659.2h1.3v1.3h-1.3zM151.6 669.2h1.3v1.3h-1.3zM141.1 686.2h1.3v1.3h-1.3zM163.0 675.6h1.3v1.3h-1.3zM165.9 682.2h1.3v1.3h-1.3zM167.4 665.2h1.3v1.3h-1.3zM149.5 679.7h1.3v1.3h-1.3zM132.8 689.2h1.3v1.3h-1.3zM155.0 687.3h1.3v1.3h-1.3zM146.0 690.6h1.3v1.3h-1.3zM136.0 676.0h1.3v1.3h-1.3zM160.2 685.5h1.3v1.3h-1.3zM137.7 695.1h1.3v1.3h-1.3zM158.8 656.4h1.3v1.3h-1.3zM151.2 690.6h1.3v1.3h-1.3zM137.7 673.8h1.3v1.3h-1.3zM149.9 688.1h1.3v1.3h-1.3zM154.2 666.5h1.3v1.3h-1.3zM129.1 677.1h1.3v1.3h-1.3zM179.8 649.1h1.3v1.3h-1.3zM159.0 667.6h1.3v1.3h-1.3zM159.6 663.4h1.3v1.3h-1.3zM157.3 688.2h1.3v1.3h-1.3zM164.5 668.7h1.3v1.3h-1.3zM171.2 668.4h1.3v1.3h-1.3zM160.8 656.5h1.3v1.3h-1.3zM142.9 678.1h1.3v1.3h-1.3zM162.7 655.9h1.3v1.3h-1.3zM151.1 689.0h1.3v1.3h-1.3zM177.8 658.6h1.3v1.3h-1.3zM142.9 697.7h1.3v1.3h-1.3zM164.5 679.5h1.3v1.3h-1.3zM160.6 672.6h1.3v1.3h-1.3zM158.3 670.7h1.3v1.3h-1.3zM172.4 662.0h1.3v1.3h-1.3zM156.9 679.0h1.3v1.3h-1.3zM169.1 652.1h1.3v1.3h-1.3zM155.1 669.5h1.3v1.3h-1.3zM148.9 684.2h1.3v1.3h-1.3zM139.9 688.9h1.3v1.3h-1.3zM158.0 654.8h1.3v1.3h-1.3zM154.2 681.8h1.3v1.3h-1.3zM154.4 684.4h1.3v1.3h-1.3zM140.4 676.3h1.3v1.3h-1.3zM123.5 705.5h1.3v1.3h-1.3zM145.1 688.4h1.3v1.3h-1.3zM157.0 674.3h1.3v1.3h-1.3zM142.3 697.7h1.3v1.3h-1.3zM131.1 699.4h1.3v1.3h-1.3zM165.6 670.6h1.3v1.3h-1.3zM154.0 671.3h1.3v1.3h-1.3zM162.9 662.9h1.3v1.3h-1.3zM137.3 676.5h1.3v1.3h-1.3zM153.9 673.9h1.3v1.3h-1.3zM152.8 683.6h1.3v1.3h-1.3zM161.6 672.7h1.3v1.3h-1.3zM176.6 664.4h1.3v1.3h-1.3zM157.1 680.3h1.3v1.3h-1.3zM152.0 663.9h1.3v1.3h-1.3zM152.5 650.1h1.3v1.3h-1.3zM149.8 680.5h1.3v1.3h-1.3zM128.6 707.5h1.3v1.3h-1.3zM153.0 669.6h1.3v1.3h-1.3zM147.4 711.2h1.3v1.3h-1.3zM154.5 700.7h1.3v1.3h-1.3zM160.9 660.9h1.3v1.3h-1.3z"/><path fill="rgb(100,100,100)" d="M150.0 676.2h1.3v1.3h-1.3zM133.8 705.0h1.3v1.3h-1.3zM144.3 672.3h1.3v1.3h-1.3zM150.9 694.1h1.3v1.3h-1.3zM144.8 683.6h1.3v1.3h-1.3zM164.8 664.2h1.3v1.3h-1.3zM149.0 696.6h1.3v1.3h-1.3zM160.3 676.5h1.3v1.3h-1.3zM155.6 678.6h1.3v1.3h-1.3zM155.5 666.1h1.3v1.3h-1.3zM154.4 687.1h1.3v1.3h-1.3zM176.9 667.6h1.3v1.3h-1.3zM160.4 678.5h1.3v1.3h-1.3zM164.4 679.3h1.3v1.3h-1.3zM148.6 706.7h1.3v1.3h-1.3zM160.2 668.7h1.3v1.3h-1.3zM143.9 688.4h1.3v1.3h-1.3zM159.8 680.5h1.3v1.3h-1.3zM153.8 668.1h1.3v1.3h-1.3zM147.9 675.2h1.3v1.3h-1.3zM159.0 690.9h1.3v1.3h-1.3zM160.5 675.6h1.3v1.3h-1.3zM169.1 659.1h1.3v1.3h-1.3zM149.2 670.3h1.3v1.3h-1.3zM138.1 691.0h1.3v1.3h-1.3zM165.2 680.2h1.3v1.3h-1.3zM158.5 669.7h1.3v1.3h-1.3zM145.9 665.4h1.3v1.3h-1.3zM169.2 655.8h1.3v1.3h-1.3zM174.0 668.9h1.3v1.3h-1.3zM135.0 694.4h1.3v1.3h-1.3zM135.7 674.7h1.3v1.3h-1.3zM154.3 693.6h1.3v1.3h-1.3zM148.1 692.8h1.3v1.3h-1.3zM135.3 692.0h1.3v1.3h-1.3zM157.2 683.1h1.3v1.3h-1.3zM159.9 668.3h1.3v1.3h-1.3zM162.1 674.8h1.3v1.3h-1.3zM154.8 671.9h1.3v1.3h-1.3zM163.7 683.0h1.3v1.3h-1.3zM150.4 692.4h1.3v1.3h-1.3zM152.6 675.8h1.3v1.3h-1.3zM163.7 670.4h1.3v1.3h-1.3zM153.5 667.5h1.3v1.3h-1.3zM136.4 675.8h1.3v1.3h-1.3zM169.5 677.8h1.3v1.3h-1.3zM133.3 690.8h1.3v1.3h-1.3zM120.8 698.9h1.3v1.3h-1.3zM134.0 691.5h1.3v1.3h-1.3zM134.4 704.2h1.3v1.3h-1.3zM150.2 689.0h1.3v1.3h-1.3zM126.9 693.8h1.3v1.3h-1.3zM149.8 696.2h1.3v1.3h-1.3zM166.0 667.8h1.3v1.3h-1.3zM149.8 687.0h1.3v1.3h-1.3zM145.9 695.5h1.3v1.3h-1.3zM156.1 653.6h1.3v1.3h-1.3zM162.8 650.4h1.3v1.3h-1.3zM130.8 700.3h1.3v1.3h-1.3zM152.8 648.9h1.3v1.3h-1.3zM130.8 692.0h1.3v1.3h-1.3zM156.1 681.5h1.3v1.3h-1.3zM160.2 682.2h1.3v1.3h-1.3zM140.6 693.5h1.3v1.3h-1.3zM153.3 674.7h1.3v1.3h-1.3zM164.0 663.4h1.3v1.3h-1.3zM161.4 688.1h1.3v1.3h-1.3zM159.8 662.2h1.3v1.3h-1.3zM144.9 691.0h1.3v1.3h-1.3zM149.3 673.3h1.3v1.3h-1.3zM156.1 685.0h1.3v1.3h-1.3zM157.6 665.3h1.3v1.3h-1.3zM166.1 655.8h1.3v1.3h-1.3zM140.2 677.4h1.3v1.3h-1.3zM149.7 693.2h1.3v1.3h-1.3zM162.9 672.5h1.3v1.3h-1.3zM151.8 661.8h1.3v1.3h-1.3zM120.9 694.6h1.3v1.3h-1.3zM161.4 658.2h1.3v1.3h-1.3zM141.1 682.9h1.3v1.3h-1.3zM166.1 685.6h1.3v1.3h-1.3zM152.0 665.9h1.3v1.3h-1.3zM164.5 674.4h1.3v1.3h-1.3zM133.5 674.3h1.3v1.3h-1.3zM154.9 679.6h1.3v1.3h-1.3zM145.8 679.9h1.3v1.3h-1.3zM135.2 693.6h1.3v1.3h-1.3zM157.0 685.1h1.3v1.3h-1.3zM152.4 670.4h1.3v1.3h-1.3zM130.2 691.7h1.3v1.3h-1.3zM141.7 703.6h1.3v1.3h-1.3zM151.7 692.1h1.3v1.3h-1.3zM156.3 674.0h1.3v1.3h-1.3zM148.4 650.3h1.3v1.3h-1.3zM130.8 690.9h1.3v1.3h-1.3zM138.6 696.1h1.3v1.3h-1.3zM156.7 662.5h1.3v1.3h-1.3zM165.5 668.6h1.3v1.3h-1.3zM155.3 675.7h1.3v1.3h-1.3zM151.6 683.6h1.3v1.3h-1.3zM136.8 681.0h1.3v1.3h-1.3zM158.1 684.3h1.3v1.3h-1.3zM151.6 652.4h1.3v1.3h-1.3zM136.0 697.9h1.3v1.3h-1.3zM153.2 684.1h1.3v1.3h-1.3zM151.0 692.4h1.3v1.3h-1.3zM152.0 676.9h1.3v1.3h-1.3zM153.1 670.1h1.3v1.3h-1.3zM163.0 670.5h1.3v1.3h-1.3zM158.6 681.9h1.3v1.3h-1.3zM125.9 707.4h1.3v1.3h-1.3zM159.5 684.8h1.3v1.3h-1.3zM153.1 682.4h1.3v1.3h-1.3zM155.9 671.1h1.3v1.3h-1.3zM135.2 679.3h1.3v1.3h-1.3zM154.3 667.4h1.3v1.3h-1.3zM153.4 681.2h1.3v1.3h-1.3zM153.0 669.0h1.3v1.3h-1.3zM161.7 680.7h1.3v1.3h-1.3zM152.3 681.2h1.3v1.3h-1.3zM139.7 676.9h1.3v1.3h-1.3zM138.1 702.5h1.3v1.3h-1.3zM137.4 692.9h1.3v1.3h-1.3zM154.3 696.2h1.3v1.3h-1.3zM147.4 680.9h1.3v1.3h-1.3zM171.6 679.5h1.3v1.3h-1.3zM137.8 699.2h1.3v1.3h-1.3zM155.7 689.4h1.3v1.3h-1.3zM116.8 692.5h1.3v1.3h-1.3zM131.2 694.5h1.3v1.3h-1.3zM149.6 685.0h1.3v1.3h-1.3zM152.1 682.6h1.3v1.3h-1.3z"/><path fill="rgb(70,70,70)" d="M133.6 693.0h1.3v1.3h-1.3zM147.9 691.6h1.3v1.3h-1.3zM154.2 673.6h1.3v1.3h-1.3zM144.6 690.1h1.3v1.3h-1.3zM148.1 670.2h1.3v1.3h-1.3zM137.9 686.8h1.3v1.3h-1.3zM157.4 675.4h1.3v1.3h-1.3zM172.8 664.8h1.3v1.3h-1.3zM134.6 698.5h1.3v1.3h-1.3zM160.1 679.5h1.3v1.3h-1.3zM147.0 686.8h1.3v1.3h-1.3zM156.8 671.1h1.3v1.3h-1.3zM163.5 684.2h1.3v1.3h-1.3zM159.5 661.4h1.3v1.3h-1.3zM163.5 678.2h1.3v1.3h-1.3zM142.2 679.8h1.3v1.3h-1.3zM137.6 688.7h1.3v1.3h-1.3zM149.3 671.9h1.3v1.3h-1.3zM159.3 681.0h1.3v1.3h-1.3zM158.7 672.0h1.3v1.3h-1.3zM131.9 690.3h1.3v1.3h-1.3zM160.2 685.2h1.3v1.3h-1.3zM159.4 690.1h1.3v1.3h-1.3zM142.5 696.8h1.3v1.3h-1.3zM139.1 679.2h1.3v1.3h-1.3zM159.4 679.1h1.3v1.3h-1.3zM152.4 663.8h1.3v1.3h-1.3zM141.0 699.7h1.3v1.3h-1.3zM133.0 704.5h1.3v1.3h-1.3zM148.0 697.8h1.3v1.3h-1.3zM155.3 677.3h1.3v1.3h-1.3zM169.0 645.9h1.3v1.3h-1.3zM136.8 680.0h1.3v1.3h-1.3zM181.3 671.6h1.3v1.3h-1.3zM139.3 692.8h1.3v1.3h-1.3zM169.6 667.1h1.3v1.3h-1.3zM146.7 675.2h1.3v1.3h-1.3zM127.0 712.0h1.3v1.3h-1.3zM135.6 701.5h1.3v1.3h-1.3zM150.3 702.8h1.3v1.3h-1.3zM134.0 697.6h1.3v1.3h-1.3zM141.1 685.4h1.3v1.3h-1.3zM131.0 700.4h1.3v1.3h-1.3zM137.6 696.0h1.3v1.3h-1.3zM145.9 678.0h1.3v1.3h-1.3zM158.5 657.5h1.3v1.3h-1.3zM150.6 683.4h1.3v1.3h-1.3zM149.2 678.1h1.3v1.3h-1.3zM160.1 700.2h1.3v1.3h-1.3zM160.2 680.3h1.3v1.3h-1.3zM155.6 667.7h1.3v1.3h-1.3zM152.0 669.7h1.3v1.3h-1.3zM176.4 664.9h1.3v1.3h-1.3zM140.3 681.2h1.3v1.3h-1.3zM136.0 690.6h1.3v1.3h-1.3zM136.1 685.5h1.3v1.3h-1.3zM145.1 697.5h1.3v1.3h-1.3zM154.1 682.9h1.3v1.3h-1.3zM137.6 695.1h1.3v1.3h-1.3zM167.0 688.7h1.3v1.3h-1.3zM151.5 676.1h1.3v1.3h-1.3zM139.5 678.8h1.3v1.3h-1.3zM145.6 687.0h1.3v1.3h-1.3zM141.9 679.4h1.3v1.3h-1.3zM138.2 684.6h1.3v1.3h-1.3zM148.5 686.1h1.3v1.3h-1.3zM163.0 668.3h1.3v1.3h-1.3zM165.1 665.2h1.3v1.3h-1.3zM165.8 673.8h1.3v1.3h-1.3zM148.6 679.2h1.3v1.3h-1.3zM147.5 698.3h1.3v1.3h-1.3zM148.8 676.4h1.3v1.3h-1.3zM142.0 678.9h1.3v1.3h-1.3zM163.8 671.9h1.3v1.3h-1.3zM150.1 682.0h1.3v1.3h-1.3zM180.1 662.7h1.3v1.3h-1.3zM162.1 644.9h1.3v1.3h-1.3zM155.6 673.5h1.3v1.3h-1.3zM173.4 657.3h1.3v1.3h-1.3zM142.7 682.1h1.3v1.3h-1.3zM166.6 668.4h1.3v1.3h-1.3zM156.8 669.7h1.3v1.3h-1.3zM168.1 664.4h1.3v1.3h-1.3zM145.6 680.8h1.3v1.3h-1.3zM135.8 698.3h1.3v1.3h-1.3zM144.5 669.5h1.3v1.3h-1.3zM164.5 680.6h1.3v1.3h-1.3zM170.6 648.6h1.3v1.3h-1.3zM150.9 684.0h1.3v1.3h-1.3zM151.1 683.3h1.3v1.3h-1.3zM170.2 676.6h1.3v1.3h-1.3zM149.8 668.2h1.3v1.3h-1.3zM162.6 655.3h1.3v1.3h-1.3zM152.3 687.0h1.3v1.3h-1.3zM159.9 682.4h1.3v1.3h-1.3zM144.2 689.7h1.3v1.3h-1.3zM144.6 664.4h1.3v1.3h-1.3zM169.1 647.0h1.3v1.3h-1.3zM147.8 686.4h1.3v1.3h-1.3zM156.5 676.4h1.3v1.3h-1.3zM174.1 645.8h1.3v1.3h-1.3zM136.0 668.4h1.3v1.3h-1.3zM160.2 659.1h1.3v1.3h-1.3zM171.7 662.8h1.3v1.3h-1.3zM159.3 668.4h1.3v1.3h-1.3zM135.6 692.9h1.3v1.3h-1.3zM140.8 695.4h1.3v1.3h-1.3zM160.3 683.9h1.3v1.3h-1.3zM141.1 689.7h1.3v1.3h-1.3zM158.1 680.3h1.3v1.3h-1.3zM156.1 676.5h1.3v1.3h-1.3zM166.1 659.2h1.3v1.3h-1.3zM141.1 681.3h1.3v1.3h-1.3zM150.5 684.6h1.3v1.3h-1.3zM153.4 670.3h1.3v1.3h-1.3zM155.4 688.6h1.3v1.3h-1.3zM152.1 714.9h1.3v1.3h-1.3zM163.3 679.9h1.3v1.3h-1.3zM141.6 682.8h1.3v1.3h-1.3zM158.6 661.7h1.3v1.3h-1.3zM127.0 692.4h1.3v1.3h-1.3zM147.3 685.5h1.3v1.3h-1.3zM166.5 664.6h1.3v1.3h-1.3zM149.9 677.7h1.3v1.3h-1.3z"/><path fill="rgb(100,100,100)" d="M151.7 692.3h1.0v1.0h-1.0zM157.5 675.4h1.0v1.0h-1.0zM153.3 670.9h1.0v1.0h-1.0zM124.0 718.9h1.0v1.0h-1.0zM154.8 673.5h1.0v1.0h-1.0zM165.2 686.5h1.0v1.0h-1.0zM161.8 669.1h1.0v1.0h-1.0zM159.1 676.8h1.0v1.0h-1.0zM158.9 697.5h1.0v1.0h-1.0zM151.3 675.1h1.0v1.0h-1.0zM158.2 675.7h1.0v1.0h-1.0zM175.1 670.3h1.0v1.0h-1.0zM164.0 663.4h1.0v1.0h-1.0zM156.7 662.9h1.0v1.0h-1.0zM148.1 684.0h1.0v1.0h-1.0zM150.3 678.1h1.0v1.0h-1.0zM154.3 674.0h1.0v1.0h-1.0zM126.7 684.2h1.0v1.0h-1.0zM161.3 655.7h1.0v1.0h-1.0zM154.0 687.8h1.0v1.0h-1.0zM153.0 673.0h1.0v1.0h-1.0zM170.6 665.9h1.0v1.0h-1.0zM147.6 684.9h1.0v1.0h-1.0zM143.9 697.0h1.0v1.0h-1.0zM160.1 671.3h1.0v1.0h-1.0zM143.4 691.3h1.0v1.0h-1.0zM151.2 688.2h1.0v1.0h-1.0zM152.2 669.8h1.0v1.0h-1.0zM136.6 671.7h1.0v1.0h-1.0zM147.5 676.0h1.0v1.0h-1.0zM149.7 672.6h1.0v1.0h-1.0zM142.3 699.1h1.0v1.0h-1.0zM147.1 685.0h1.0v1.0h-1.0zM161.1 695.1h1.0v1.0h-1.0zM140.4 686.2h1.0v1.0h-1.0zM147.9 683.4h1.0v1.0h-1.0zM147.8 683.2h1.0v1.0h-1.0zM162.0 676.8h1.0v1.0h-1.0zM141.2 702.9h1.0v1.0h-1.0zM151.8 686.9h1.0v1.0h-1.0zM152.5 670.0h1.0v1.0h-1.0zM153.6 684.7h1.0v1.0h-1.0zM155.0 689.6h1.0v1.0h-1.0zM167.1 641.8h1.0v1.0h-1.0zM145.3 677.9h1.0v1.0h-1.0zM158.0 675.5h1.0v1.0h-1.0zM140.3 679.2h1.0v1.0h-1.0zM139.5 687.6h1.0v1.0h-1.0zM154.3 693.2h1.0v1.0h-1.0zM158.2 660.5h1.0v1.0h-1.0zM159.3 678.5h1.0v1.0h-1.0zM136.3 697.0h1.0v1.0h-1.0zM149.6 689.9h1.0v1.0h-1.0zM160.0 681.4h1.0v1.0h-1.0zM145.6 689.7h1.0v1.0h-1.0zM150.4 672.1h1.0v1.0h-1.0zM151.4 688.7h1.0v1.0h-1.0zM154.2 695.8h1.0v1.0h-1.0zM140.7 677.6h1.0v1.0h-1.0zM150.4 687.5h1.0v1.0h-1.0zM162.9 684.8h1.0v1.0h-1.0zM144.4 674.2h1.0v1.0h-1.0zM145.0 674.3h1.0v1.0h-1.0zM154.3 671.2h1.0v1.0h-1.0zM162.2 676.6h1.0v1.0h-1.0zM142.5 679.4h1.0v1.0h-1.0zM152.9 687.0h1.0v1.0h-1.0zM157.7 677.9h1.0v1.0h-1.0zM170.6 676.7h1.0v1.0h-1.0zM159.0 673.9h1.0v1.0h-1.0zM148.2 672.0h1.0v1.0h-1.0zM152.4 684.9h1.0v1.0h-1.0zM150.7 683.6h1.0v1.0h-1.0zM145.6 680.0h1.0v1.0h-1.0zM178.5 675.5h1.0v1.0h-1.0zM142.3 675.0h1.0v1.0h-1.0zM148.0 674.5h1.0v1.0h-1.0zM145.4 685.0h1.0v1.0h-1.0zM148.2 691.3h1.0v1.0h-1.0zM149.9 678.6h1.0v1.0h-1.0zM150.9 681.2h1.0v1.0h-1.0zM159.0 678.4h1.0v1.0h-1.0zM175.6 651.1h1.0v1.0h-1.0zM146.9 666.0h1.0v1.0h-1.0zM144.3 692.2h1.0v1.0h-1.0zM160.8 670.9h1.0v1.0h-1.0zM150.5 681.3h1.0v1.0h-1.0zM131.4 698.1h1.0v1.0h-1.0zM166.0 679.5h1.0v1.0h-1.0zM149.3 695.3h1.0v1.0h-1.0zM155.0 686.4h1.0v1.0h-1.0zM141.2 678.3h1.0v1.0h-1.0zM164.7 692.5h1.0v1.0h-1.0zM156.5 675.6h1.0v1.0h-1.0zM157.8 684.2h1.0v1.0h-1.0zM164.1 685.4h1.0v1.0h-1.0zM164.4 680.8h1.0v1.0h-1.0zM148.4 702.4h1.0v1.0h-1.0zM139.8 707.6h1.0v1.0h-1.0zM128.5 690.3h1.0v1.0h-1.0zM160.1 680.6h1.0v1.0h-1.0zM147.6 689.2h1.0v1.0h-1.0zM144.6 697.4h1.0v1.0h-1.0zM168.2 672.4h1.0v1.0h-1.0zM150.7 675.7h1.0v1.0h-1.0zM149.9 689.7h1.0v1.0h-1.0zM147.7 675.2h1.0v1.0h-1.0zM160.9 678.6h1.0v1.0h-1.0zM141.9 678.3h1.0v1.0h-1.0zM131.5 689.8h1.0v1.0h-1.0zM136.1 695.0h1.0v1.0h-1.0zM142.5 700.4h1.0v1.0h-1.0zM157.9 680.8h1.0v1.0h-1.0zM151.5 680.0h1.0v1.0h-1.0zM128.1 700.1h1.0v1.0h-1.0zM141.0 716.3h1.0v1.0h-1.0zM129.5 713.9h1.0v1.0h-1.0zM137.8 693.9h1.0v1.0h-1.0zM142.5 711.1h1.0v1.0h-1.0zM144.3 711.5h1.0v1.0h-1.0zM147.8 723.5h1.0v1.0h-1.0zM144.1 701.8h1.0v1.0h-1.0zM148.8 705.7h1.0v1.0h-1.0zM136.0 717.1h1.0v1.0h-1.0zM144.7 719.7h1.0v1.0h-1.0zM144.0 710.4h1.0v1.0h-1.0zM134.4 689.4h1.0v1.0h-1.0zM147.6 715.0h1.0v1.0h-1.0zM153.2 710.5h1.0v1.0h-1.0zM145.8 713.5h1.0v1.0h-1.0zM149.4 719.6h1.0v1.0h-1.0zM141.5 689.5h1.0v1.0h-1.0zM160.8 705.3h1.0v1.0h-1.0z"/><path fill="rgb(60,60,60)" d="M143.0 697.4h1.0v1.0h-1.0zM150.4 681.1h1.0v1.0h-1.0zM143.1 697.6h1.0v1.0h-1.0zM118.9 702.7h1.0v1.0h-1.0zM153.7 690.3h1.0v1.0h-1.0zM144.2 690.6h1.0v1.0h-1.0zM167.0 663.1h1.0v1.0h-1.0zM152.3 706.2h1.0v1.0h-1.0zM157.4 674.4h1.0v1.0h-1.0zM156.3 661.9h1.0v1.0h-1.0zM162.3 671.3h1.0v1.0h-1.0zM148.6 692.0h1.0v1.0h-1.0zM174.7 656.2h1.0v1.0h-1.0zM171.2 685.5h1.0v1.0h-1.0zM162.3 693.5h1.0v1.0h-1.0zM139.4 690.2h1.0v1.0h-1.0zM158.5 680.4h1.0v1.0h-1.0zM148.8 679.0h1.0v1.0h-1.0zM179.2 662.7h1.0v1.0h-1.0zM160.3 669.0h1.0v1.0h-1.0zM153.7 685.2h1.0v1.0h-1.0zM160.3 683.8h1.0v1.0h-1.0zM140.6 682.7h1.0v1.0h-1.0zM140.8 700.4h1.0v1.0h-1.0zM155.5 676.9h1.0v1.0h-1.0zM148.0 682.9h1.0v1.0h-1.0zM153.8 698.6h1.0v1.0h-1.0zM179.3 664.3h1.0v1.0h-1.0zM167.4 665.7h1.0v1.0h-1.0zM153.5 684.2h1.0v1.0h-1.0zM140.6 692.3h1.0v1.0h-1.0zM153.7 664.7h1.0v1.0h-1.0zM139.1 672.5h1.0v1.0h-1.0zM129.6 682.6h1.0v1.0h-1.0zM161.3 665.2h1.0v1.0h-1.0zM155.2 678.6h1.0v1.0h-1.0zM143.4 694.7h1.0v1.0h-1.0zM154.8 703.9h1.0v1.0h-1.0zM146.9 695.2h1.0v1.0h-1.0zM159.9 668.2h1.0v1.0h-1.0zM130.7 704.9h1.0v1.0h-1.0zM173.7 668.2h1.0v1.0h-1.0zM146.3 688.5h1.0v1.0h-1.0zM148.4 694.2h1.0v1.0h-1.0zM136.3 688.2h1.0v1.0h-1.0zM149.0 675.7h1.0v1.0h-1.0zM150.9 686.1h1.0v1.0h-1.0zM163.4 685.4h1.0v1.0h-1.0zM156.6 671.6h1.0v1.0h-1.0zM150.6 670.9h1.0v1.0h-1.0zM135.4 703.6h1.0v1.0h-1.0zM150.0 679.8h1.0v1.0h-1.0zM159.6 673.5h1.0v1.0h-1.0zM146.4 674.4h1.0v1.0h-1.0zM158.6 680.5h1.0v1.0h-1.0zM145.9 691.8h1.0v1.0h-1.0zM147.6 674.5h1.0v1.0h-1.0zM133.8 692.4h1.0v1.0h-1.0zM154.2 645.5h1.0v1.0h-1.0zM156.5 691.7h1.0v1.0h-1.0zM132.6 661.2h1.0v1.0h-1.0zM163.5 672.2h1.0v1.0h-1.0zM110.7 707.0h1.0v1.0h-1.0zM151.2 662.9h1.0v1.0h-1.0zM172.9 674.2h1.0v1.0h-1.0zM142.7 683.3h1.0v1.0h-1.0zM134.6 693.2h1.0v1.0h-1.0zM132.8 697.8h1.0v1.0h-1.0zM176.6 655.8h1.0v1.0h-1.0zM127.5 677.3h1.0v1.0h-1.0zM126.3 694.8h1.0v1.0h-1.0zM159.7 666.8h1.0v1.0h-1.0zM168.8 682.6h1.0v1.0h-1.0zM131.1 691.6h1.0v1.0h-1.0zM142.4 704.3h1.0v1.0h-1.0zM152.0 672.6h1.0v1.0h-1.0zM151.2 679.4h1.0v1.0h-1.0zM151.2 675.8h1.0v1.0h-1.0zM159.9 664.8h1.0v1.0h-1.0zM148.4 681.9h1.0v1.0h-1.0zM157.5 669.2h1.0v1.0h-1.0zM147.8 687.4h1.0v1.0h-1.0zM164.1 669.4h1.0v1.0h-1.0zM150.9 676.7h1.0v1.0h-1.0zM155.3 681.4h1.0v1.0h-1.0zM149.0 649.7h1.0v1.0h-1.0zM150.7 666.6h1.0v1.0h-1.0zM146.7 667.0h1.0v1.0h-1.0zM146.0 689.3h1.0v1.0h-1.0zM146.8 679.9h1.0v1.0h-1.0zM150.2 697.7h1.0v1.0h-1.0zM158.9 658.4h1.0v1.0h-1.0zM155.0 694.8h1.0v1.0h-1.0zM131.6 676.2h1.0v1.0h-1.0zM133.0 700.7h1.0v1.0h-1.0zM134.5 693.2h1.0v1.0h-1.0zM156.3 679.8h1.0v1.0h-1.0zM164.6 677.9h1.0v1.0h-1.0zM156.5 681.2h1.0v1.0h-1.0zM164.7 655.5h1.0v1.0h-1.0zM138.7 683.1h1.0v1.0h-1.0zM165.6 660.5h1.0v1.0h-1.0zM149.6 683.7h1.0v1.0h-1.0zM146.4 673.7h1.0v1.0h-1.0zM148.1 696.8h1.0v1.0h-1.0zM135.8 696.4h1.0v1.0h-1.0zM148.0 662.8h1.0v1.0h-1.0zM170.2 681.4h1.0v1.0h-1.0zM141.6 673.7h1.0v1.0h-1.0zM161.3 670.2h1.0v1.0h-1.0zM134.0 688.4h1.0v1.0h-1.0zM145.3 674.7h1.0v1.0h-1.0zM153.7 722.1h1.0v1.0h-1.0zM139.4 726.2h1.0v1.0h-1.0zM145.1 710.2h1.0v1.0h-1.0zM134.5 711.1h1.0v1.0h-1.0zM139.3 719.1h1.0v1.0h-1.0zM153.1 715.8h1.0v1.0h-1.0zM130.7 717.2h1.0v1.0h-1.0zM153.4 718.4h1.0v1.0h-1.0zM145.2 717.1h1.0v1.0h-1.0zM170.7 713.4h1.0v1.0h-1.0zM148.5 714.3h1.0v1.0h-1.0zM157.2 710.7h1.0v1.0h-1.0zM133.8 709.9h1.0v1.0h-1.0z"/><path fill="rgb(50,50,50)" d="M129.7 687.2h1.0v1.0h-1.0zM168.9 655.4h1.0v1.0h-1.0zM160.6 670.5h1.0v1.0h-1.0zM141.3 688.5h1.0v1.0h-1.0zM135.4 689.6h1.0v1.0h-1.0zM143.4 674.6h1.0v1.0h-1.0zM135.6 690.1h1.0v1.0h-1.0zM156.8 677.3h1.0v1.0h-1.0zM157.1 673.2h1.0v1.0h-1.0zM139.3 690.0h1.0v1.0h-1.0zM155.6 668.2h1.0v1.0h-1.0zM160.5 706.6h1.0v1.0h-1.0zM150.9 664.6h1.0v1.0h-1.0zM161.2 685.4h1.0v1.0h-1.0zM144.7 686.0h1.0v1.0h-1.0zM170.6 666.0h1.0v1.0h-1.0zM161.0 676.6h1.0v1.0h-1.0zM161.0 679.0h1.0v1.0h-1.0zM174.6 653.5h1.0v1.0h-1.0zM158.6 679.5h1.0v1.0h-1.0zM167.6 684.2h1.0v1.0h-1.0zM145.6 672.2h1.0v1.0h-1.0zM153.7 674.1h1.0v1.0h-1.0zM136.1 675.9h1.0v1.0h-1.0zM147.9 699.4h1.0v1.0h-1.0zM160.0 665.0h1.0v1.0h-1.0zM140.5 706.4h1.0v1.0h-1.0zM158.5 667.2h1.0v1.0h-1.0zM154.8 672.2h1.0v1.0h-1.0zM157.3 683.1h1.0v1.0h-1.0zM143.7 678.8h1.0v1.0h-1.0zM145.1 674.9h1.0v1.0h-1.0zM159.0 687.2h1.0v1.0h-1.0zM123.9 692.1h1.0v1.0h-1.0zM139.8 689.8h1.0v1.0h-1.0zM125.1 705.3h1.0v1.0h-1.0zM157.9 672.0h1.0v1.0h-1.0zM129.1 693.0h1.0v1.0h-1.0zM144.1 691.4h1.0v1.0h-1.0zM155.8 670.1h1.0v1.0h-1.0zM151.7 691.3h1.0v1.0h-1.0zM148.6 678.7h1.0v1.0h-1.0zM140.2 687.9h1.0v1.0h-1.0zM148.4 667.2h1.0v1.0h-1.0zM155.6 675.4h1.0v1.0h-1.0zM167.2 658.2h1.0v1.0h-1.0zM146.8 655.3h1.0v1.0h-1.0zM145.1 694.3h1.0v1.0h-1.0zM144.4 699.3h1.0v1.0h-1.0zM160.2 650.3h1.0v1.0h-1.0zM158.6 679.2h1.0v1.0h-1.0zM146.6 682.1h1.0v1.0h-1.0zM142.1 673.0h1.0v1.0h-1.0zM135.8 691.3h1.0v1.0h-1.0zM169.4 666.7h1.0v1.0h-1.0zM129.0 699.2h1.0v1.0h-1.0zM148.3 686.0h1.0v1.0h-1.0zM156.4 663.6h1.0v1.0h-1.0zM165.5 689.6h1.0v1.0h-1.0zM145.0 689.5h1.0v1.0h-1.0zM153.4 681.0h1.0v1.0h-1.0zM154.3 677.2h1.0v1.0h-1.0zM126.7 709.9h1.0v1.0h-1.0zM150.2 681.0h1.0v1.0h-1.0zM155.3 680.0h1.0v1.0h-1.0zM154.7 676.4h1.0v1.0h-1.0zM144.5 679.7h1.0v1.0h-1.0zM128.6 712.1h1.0v1.0h-1.0zM135.1 682.9h1.0v1.0h-1.0zM142.3 682.5h1.0v1.0h-1.0zM137.7 696.7h1.0v1.0h-1.0zM163.6 689.8h1.0v1.0h-1.0zM155.1 678.7h1.0v1.0h-1.0zM132.3 692.5h1.0v1.0h-1.0zM157.1 672.8h1.0v1.0h-1.0zM157.8 677.7h1.0v1.0h-1.0zM149.7 704.0h1.0v1.0h-1.0zM131.5 698.9h1.0v1.0h-1.0zM140.5 685.1h1.0v1.0h-1.0zM163.8 673.9h1.0v1.0h-1.0zM146.4 682.6h1.0v1.0h-1.0zM133.4 691.4h1.0v1.0h-1.0zM143.0 685.9h1.0v1.0h-1.0zM142.0 674.0h1.0v1.0h-1.0zM146.8 689.9h1.0v1.0h-1.0zM160.3 668.4h1.0v1.0h-1.0zM153.9 699.0h1.0v1.0h-1.0zM129.2 693.0h1.0v1.0h-1.0zM167.5 671.4h1.0v1.0h-1.0zM153.6 650.1h1.0v1.0h-1.0zM161.8 677.9h1.0v1.0h-1.0zM135.8 701.9h1.0v1.0h-1.0zM148.7 686.7h1.0v1.0h-1.0zM157.3 662.6h1.0v1.0h-1.0zM156.7 659.1h1.0v1.0h-1.0zM143.7 682.7h1.0v1.0h-1.0zM151.5 687.4h1.0v1.0h-1.0zM151.0 690.3h1.0v1.0h-1.0zM166.4 656.4h1.0v1.0h-1.0zM147.7 678.5h1.0v1.0h-1.0zM150.9 677.4h1.0v1.0h-1.0zM152.6 691.9h1.0v1.0h-1.0zM146.6 666.4h1.0v1.0h-1.0zM174.8 657.1h1.0v1.0h-1.0zM152.2 677.2h1.0v1.0h-1.0zM140.4 691.6h1.0v1.0h-1.0zM149.3 678.0h1.0v1.0h-1.0zM134.7 691.5h1.0v1.0h-1.0zM135.7 699.1h1.0v1.0h-1.0zM152.3 697.3h1.0v1.0h-1.0zM135.9 696.4h1.0v1.0h-1.0zM152.1 682.5h1.0v1.0h-1.0zM177.2 657.0h1.0v1.0h-1.0zM135.2 711.8h1.0v1.0h-1.0zM132.6 717.1h1.0v1.0h-1.0zM161.6 653.7h1.0v1.0h-1.0zM164.9 685.3h1.0v1.0h-1.0zM125.6 705.6h1.0v1.0h-1.0zM143.7 685.0h1.0v1.0h-1.0zM140.9 690.3h1.0v1.0h-1.0zM170.9 654.1h1.0v1.0h-1.0zM153.8 674.4h1.0v1.0h-1.0zM164.9 659.8h1.0v1.0h-1.0zM156.6 677.8h1.0v1.0h-1.0zM157.0 680.4h1.0v1.0h-1.0zM144.3 669.6h1.0v1.0h-1.0zM157.7 687.2h1.0v1.0h-1.0zM168.3 664.9h1.0v1.0h-1.0zM151.2 702.4h1.0v1.0h-1.0zM162.1 680.6h1.0v1.0h-1.0zM136.1 675.3h1.0v1.0h-1.0zM160.7 672.1h1.0v1.0h-1.0zM157.1 666.4h1.0v1.0h-1.0zM153.5 673.8h1.0v1.0h-1.0zM145.8 684.7h1.0v1.0h-1.0zM185.3 673.2h1.0v1.0h-1.0zM162.6 673.1h1.0v1.0h-1.0zM162.5 666.9h1.0v1.0h-1.0zM145.5 689.5h1.0v1.0h-1.0zM152.8 675.5h1.0v1.0h-1.0zM132.0 716.8h1.0v1.0h-1.0zM165.9 663.2h1.0v1.0h-1.0zM163.1 681.8h1.0v1.0h-1.0zM169.0 676.3h1.0v1.0h-1.0z"/><path fill="rgb(80,80,80)" d="M152.8 678.5h1.0v1.0h-1.0zM143.1 697.4h1.0v1.0h-1.0zM162.0 660.3h1.0v1.0h-1.0zM172.2 665.9h1.0v1.0h-1.0zM143.5 686.9h1.0v1.0h-1.0zM146.2 681.2h1.0v1.0h-1.0zM167.8 657.2h1.0v1.0h-1.0zM147.9 677.9h1.0v1.0h-1.0zM144.7 683.7h1.0v1.0h-1.0zM137.9 694.1h1.0v1.0h-1.0zM142.4 689.9h1.0v1.0h-1.0zM140.2 676.2h1.0v1.0h-1.0zM164.6 687.6h1.0v1.0h-1.0zM138.4 682.0h1.0v1.0h-1.0zM146.4 695.3h1.0v1.0h-1.0zM142.0 704.9h1.0v1.0h-1.0zM174.7 676.8h1.0v1.0h-1.0zM160.4 678.7h1.0v1.0h-1.0zM175.2 662.4h1.0v1.0h-1.0zM148.4 685.5h1.0v1.0h-1.0zM148.1 682.6h1.0v1.0h-1.0zM133.3 688.4h1.0v1.0h-1.0zM139.7 686.5h1.0v1.0h-1.0zM129.1 682.5h1.0v1.0h-1.0zM142.5 673.3h1.0v1.0h-1.0zM144.0 670.1h1.0v1.0h-1.0zM142.3 695.9h1.0v1.0h-1.0zM149.7 702.4h1.0v1.0h-1.0zM165.3 673.0h1.0v1.0h-1.0zM152.4 681.4h1.0v1.0h-1.0zM135.6 668.0h1.0v1.0h-1.0zM150.4 672.8h1.0v1.0h-1.0zM134.4 707.3h1.0v1.0h-1.0zM163.2 667.1h1.0v1.0h-1.0zM144.1 674.9h1.0v1.0h-1.0zM167.3 672.8h1.0v1.0h-1.0zM139.5 675.1h1.0v1.0h-1.0zM153.1 672.7h1.0v1.0h-1.0zM122.5 696.0h1.0v1.0h-1.0zM169.5 669.6h1.0v1.0h-1.0zM164.4 656.0h1.0v1.0h-1.0zM153.1 685.1h1.0v1.0h-1.0zM141.6 693.8h1.0v1.0h-1.0zM136.8 698.5h1.0v1.0h-1.0zM148.1 693.7h1.0v1.0h-1.0zM153.1 684.8h1.0v1.0h-1.0zM151.8 674.9h1.0v1.0h-1.0zM161.2 682.8h1.0v1.0h-1.0zM154.6 678.3h1.0v1.0h-1.0zM148.0 697.0h1.0v1.0h-1.0zM144.1 670.7h1.0v1.0h-1.0zM136.8 707.9h1.0v1.0h-1.0zM161.5 670.7h1.0v1.0h-1.0zM138.3 693.2h1.0v1.0h-1.0zM159.9 673.2h1.0v1.0h-1.0zM148.8 677.6h1.0v1.0h-1.0zM157.0 669.0h1.0v1.0h-1.0zM142.8 694.3h1.0v1.0h-1.0zM163.6 690.9h1.0v1.0h-1.0zM157.3 679.5h1.0v1.0h-1.0zM125.8 692.6h1.0v1.0h-1.0zM152.1 672.9h1.0v1.0h-1.0zM142.5 694.2h1.0v1.0h-1.0zM154.5 689.0h1.0v1.0h-1.0zM127.6 688.9h1.0v1.0h-1.0zM145.6 696.3h1.0v1.0h-1.0zM146.0 687.8h1.0v1.0h-1.0zM151.0 677.4h1.0v1.0h-1.0zM133.3 717.7h1.0v1.0h-1.0zM157.4 670.4h1.0v1.0h-1.0zM166.1 663.7h1.0v1.0h-1.0zM149.0 689.5h1.0v1.0h-1.0zM172.6 657.5h1.0v1.0h-1.0zM164.6 679.8h1.0v1.0h-1.0zM162.8 656.2h1.0v1.0h-1.0zM155.5 677.6h1.0v1.0h-1.0zM173.3 647.9h1.0v1.0h-1.0zM158.0 681.9h1.0v1.0h-1.0zM154.2 649.6h1.0v1.0h-1.0zM143.6 687.8h1.0v1.0h-1.0zM144.0 679.1h1.0v1.0h-1.0zM177.1 668.3h1.0v1.0h-1.0zM150.0 658.9h1.0v1.0h-1.0zM140.2 670.6h1.0v1.0h-1.0zM157.2 683.7h1.0v1.0h-1.0zM162.6 665.1h1.0v1.0h-1.0zM136.5 694.1h1.0v1.0h-1.0zM135.4 695.5h1.0v1.0h-1.0zM170.8 665.6h1.0v1.0h-1.0zM166.4 668.4h1.0v1.0h-1.0zM144.1 700.2h1.0v1.0h-1.0zM164.1 672.7h1.0v1.0h-1.0zM140.7 685.8h1.0v1.0h-1.0zM148.0 674.2h1.0v1.0h-1.0zM159.4 674.7h1.0v1.0h-1.0zM168.8 658.9h1.0v1.0h-1.0zM158.6 668.9h1.0v1.0h-1.0zM166.7 680.2h1.0v1.0h-1.0zM169.2 661.6h1.0v1.0h-1.0zM146.0 677.6h1.0v1.0h-1.0zM158.7 669.7h1.0v1.0h-1.0zM127.3 696.7h1.0v1.0h-1.0zM128.6 699.3h1.0v1.0h-1.0zM162.9 670.9h1.0v1.0h-1.0zM163.2 673.1h1.0v1.0h-1.0zM168.1 671.2h1.0v1.0h-1.0zM162.2 666.4h1.0v1.0h-1.0zM139.4 687.2h1.0v1.0h-1.0zM146.6 669.5h1.0v1.0h-1.0zM166.7 664.8h1.0v1.0h-1.0zM166.8 651.9h1.0v1.0h-1.0zM158.6 672.6h1.0v1.0h-1.0zM148.9 673.5h1.0v1.0h-1.0zM124.7 710.6h1.0v1.0h-1.0zM161.6 667.0h1.0v1.0h-1.0zM164.1 668.1h1.0v1.0h-1.0zM134.6 685.1h1.0v1.0h-1.0zM135.0 705.6h1.0v1.0h-1.0zM137.8 696.1h1.0v1.0h-1.0zM159.1 664.7h1.0v1.0h-1.0zM153.4 669.1h1.0v1.0h-1.0zM146.7 679.9h1.0v1.0h-1.0zM149.4 687.2h1.0v1.0h-1.0zM143.5 680.6h1.0v1.0h-1.0zM153.0 681.2h1.0v1.0h-1.0zM160.5 683.3h1.0v1.0h-1.0zM168.7 662.7h1.0v1.0h-1.0zM155.7 681.9h1.0v1.0h-1.0zM156.5 679.2h1.0v1.0h-1.0zM131.5 701.5h1.0v1.0h-1.0zM160.1 668.9h1.0v1.0h-1.0zM162.2 661.2h1.0v1.0h-1.0zM139.4 664.6h1.0v1.0h-1.0zM140.6 678.7h1.0v1.0h-1.0zM146.3 689.1h1.0v1.0h-1.0zM153.5 672.9h1.0v1.0h-1.0zM153.6 677.8h1.0v1.0h-1.0zM135.7 687.4h1.0v1.0h-1.0zM155.8 665.5h1.0v1.0h-1.0zM139.2 722.5h1.0v1.0h-1.0zM134.6 710.4h1.0v1.0h-1.0zM153.1 709.9h1.0v1.0h-1.0zM159.3 715.5h1.0v1.0h-1.0zM134.7 717.9h1.0v1.0h-1.0zM155.7 709.3h1.0v1.0h-1.0zM139.4 727.2h1.0v1.0h-1.0zM121.0 727.2h1.0v1.0h-1.0zM142.2 722.2h1.0v1.0h-1.0zM143.0 722.0h1.0v1.0h-1.0zM157.9 727.1h1.0v1.0h-1.0zM142.9 708.8h1.0v1.0h-1.0zM161.0 696.8h1.0v1.0h-1.0zM138.3 731.9h1.0v1.0h-1.0zM149.5 714.9h1.0v1.0h-1.0zM146.6 720.2h1.0v1.0h-1.0zM128.0 710.1h1.0v1.0h-1.0zM137.7 719.2h1.0v1.0h-1.0zM132.4 738.7h1.0v1.0h-1.0zM141.1 709.4h1.0v1.0h-1.0z"/><path fill="rgb(70,70,70)" d="M143.0 706.4h1.0v1.0h-1.0zM139.4 700.1h1.0v1.0h-1.0zM151.8 673.2h1.0v1.0h-1.0zM173.5 667.2h1.0v1.0h-1.0zM107.3 714.2h1.0v1.0h-1.0zM150.9 683.0h1.0v1.0h-1.0zM144.7 674.4h1.0v1.0h-1.0zM153.1 691.7h1.0v1.0h-1.0zM155.9 676.0h1.0v1.0h-1.0zM133.7 684.4h1.0v1.0h-1.0zM163.7 668.9h1.0v1.0h-1.0zM151.2 677.5h1.0v1.0h-1.0zM144.4 685.9h1.0v1.0h-1.0zM148.3 673.3h1.0v1.0h-1.0zM154.2 674.0h1.0v1.0h-1.0zM166.5 679.7h1.0v1.0h-1.0zM171.5 676.8h1.0v1.0h-1.0zM159.3 662.5h1.0v1.0h-1.0zM149.0 670.0h1.0v1.0h-1.0zM153.9 686.2h1.0v1.0h-1.0zM152.3 665.4h1.0v1.0h-1.0zM124.9 708.2h1.0v1.0h-1.0zM162.7 674.7h1.0v1.0h-1.0zM164.8 664.7h1.0v1.0h-1.0zM159.9 701.2h1.0v1.0h-1.0zM129.2 701.1h1.0v1.0h-1.0zM155.1 686.8h1.0v1.0h-1.0zM145.5 673.6h1.0v1.0h-1.0zM165.5 667.9h1.0v1.0h-1.0zM155.8 682.4h1.0v1.0h-1.0zM152.9 680.7h1.0v1.0h-1.0zM183.8 629.5h1.0v1.0h-1.0zM138.1 702.3h1.0v1.0h-1.0zM149.2 687.9h1.0v1.0h-1.0zM163.5 665.5h1.0v1.0h-1.0zM151.0 682.0h1.0v1.0h-1.0zM154.1 664.8h1.0v1.0h-1.0zM147.7 679.5h1.0v1.0h-1.0zM161.3 686.2h1.0v1.0h-1.0zM144.6 695.4h1.0v1.0h-1.0zM146.9 695.7h1.0v1.0h-1.0zM147.3 687.5h1.0v1.0h-1.0zM148.5 689.8h1.0v1.0h-1.0zM145.6 673.3h1.0v1.0h-1.0zM165.3 676.6h1.0v1.0h-1.0zM140.8 686.2h1.0v1.0h-1.0zM152.6 683.8h1.0v1.0h-1.0zM170.5 668.4h1.0v1.0h-1.0zM159.8 688.5h1.0v1.0h-1.0zM154.9 694.6h1.0v1.0h-1.0zM149.5 696.5h1.0v1.0h-1.0zM167.4 662.1h1.0v1.0h-1.0zM151.4 679.1h1.0v1.0h-1.0zM137.8 687.0h1.0v1.0h-1.0zM140.4 686.3h1.0v1.0h-1.0zM134.3 691.6h1.0v1.0h-1.0zM154.7 674.4h1.0v1.0h-1.0zM124.5 704.5h1.0v1.0h-1.0zM157.8 684.2h1.0v1.0h-1.0zM138.7 672.1h1.0v1.0h-1.0zM135.1 685.1h1.0v1.0h-1.0zM161.4 660.0h1.0v1.0h-1.0zM145.1 683.2h1.0v1.0h-1.0zM145.1 678.3h1.0v1.0h-1.0zM139.9 690.9h1.0v1.0h-1.0zM159.9 662.8h1.0v1.0h-1.0zM146.4 675.1h1.0v1.0h-1.0zM156.1 670.9h1.0v1.0h-1.0zM135.0 677.7h1.0v1.0h-1.0zM145.7 685.8h1.0v1.0h-1.0zM153.1 673.3h1.0v1.0h-1.0zM156.3 682.4h1.0v1.0h-1.0zM142.6 693.4h1.0v1.0h-1.0zM154.2 677.8h1.0v1.0h-1.0zM170.9 692.6h1.0v1.0h-1.0zM159.7 668.1h1.0v1.0h-1.0zM162.9 674.7h1.0v1.0h-1.0zM164.8 683.9h1.0v1.0h-1.0zM163.3 657.8h1.0v1.0h-1.0zM142.4 674.5h1.0v1.0h-1.0zM158.3 658.4h1.0v1.0h-1.0zM129.6 706.4h1.0v1.0h-1.0zM157.8 665.0h1.0v1.0h-1.0zM161.1 676.4h1.0v1.0h-1.0zM153.2 674.8h1.0v1.0h-1.0zM139.6 684.7h1.0v1.0h-1.0zM141.0 697.2h1.0v1.0h-1.0zM143.1 693.8h1.0v1.0h-1.0zM135.4 696.3h1.0v1.0h-1.0zM159.4 683.2h1.0v1.0h-1.0zM153.5 675.5h1.0v1.0h-1.0zM147.1 685.8h1.0v1.0h-1.0zM126.5 697.6h1.0v1.0h-1.0zM157.3 670.1h1.0v1.0h-1.0zM145.5 685.2h1.0v1.0h-1.0zM141.0 683.5h1.0v1.0h-1.0zM149.2 692.4h1.0v1.0h-1.0zM135.6 715.1h1.0v1.0h-1.0zM144.6 684.1h1.0v1.0h-1.0zM134.1 688.5h1.0v1.0h-1.0zM162.7 663.1h1.0v1.0h-1.0zM164.4 655.2h1.0v1.0h-1.0zM139.9 684.6h1.0v1.0h-1.0zM140.4 698.0h1.0v1.0h-1.0zM149.3 684.5h1.0v1.0h-1.0zM153.1 683.9h1.0v1.0h-1.0zM165.2 691.6h1.0v1.0h-1.0zM149.9 692.8h1.0v1.0h-1.0zM174.4 669.1h1.0v1.0h-1.0zM157.8 667.4h1.0v1.0h-1.0zM149.2 694.1h1.0v1.0h-1.0zM171.1 670.3h1.0v1.0h-1.0zM141.7 671.3h1.0v1.0h-1.0zM141.5 687.5h1.0v1.0h-1.0zM146.4 675.0h1.0v1.0h-1.0zM151.0 678.4h1.0v1.0h-1.0zM165.3 661.6h1.0v1.0h-1.0zM147.7 681.4h1.0v1.0h-1.0zM134.1 681.8h1.0v1.0h-1.0zM157.2 679.0h1.0v1.0h-1.0zM162.5 660.5h1.0v1.0h-1.0zM152.9 660.7h1.0v1.0h-1.0zM148.8 683.7h1.0v1.0h-1.0zM170.7 659.2h1.0v1.0h-1.0zM143.3 684.9h1.0v1.0h-1.0zM148.0 693.2h1.0v1.0h-1.0zM145.4 667.5h1.0v1.0h-1.0zM139.6 685.8h1.0v1.0h-1.0zM137.1 693.6h1.0v1.0h-1.0zM128.1 684.2h1.0v1.0h-1.0zM180.8 663.3h1.0v1.0h-1.0zM152.1 684.6h1.0v1.0h-1.0zM162.1 665.6h1.0v1.0h-1.0zM128.9 687.8h1.0v1.0h-1.0zM140.8 692.4h1.0v1.0h-1.0zM162.2 680.2h1.0v1.0h-1.0zM163.0 651.5h1.0v1.0h-1.0zM164.6 654.8h1.0v1.0h-1.0zM149.6 680.2h1.0v1.0h-1.0zM174.1 676.1h1.0v1.0h-1.0zM149.6 686.7h1.0v1.0h-1.0zM175.9 672.2h1.0v1.0h-1.0zM141.3 682.8h1.0v1.0h-1.0zM156.8 672.6h1.0v1.0h-1.0zM165.3 656.5h1.0v1.0h-1.0zM139.1 686.1h1.0v1.0h-1.0zM135.5 680.0h1.0v1.0h-1.0zM138.6 678.7h1.0v1.0h-1.0zM167.6 653.5h1.0v1.0h-1.0zM159.7 662.9h1.0v1.0h-1.0zM143.0 675.9h1.0v1.0h-1.0zM162.7 657.0h1.0v1.0h-1.0zM164.9 674.7h1.0v1.0h-1.0z"/><path fill="rgb(160,160,160)" d="M154.7 656.6h1.3v1.3h-1.3zM164.8 667.6h1.3v1.3h-1.3zM161.3 679.8h1.3v1.3h-1.3zM128.1 709.1h1.3v1.3h-1.3zM143.6 681.7h1.3v1.3h-1.3zM147.8 674.8h1.3v1.3h-1.3zM145.6 693.2h1.3v1.3h-1.3zM160.2 660.4h1.3v1.3h-1.3zM145.4 685.0h1.3v1.3h-1.3zM158.9 674.5h1.3v1.3h-1.3zM144.4 680.7h1.3v1.3h-1.3zM152.8 674.0h1.3v1.3h-1.3zM139.3 697.5h1.3v1.3h-1.3zM136.2 701.2h1.3v1.3h-1.3zM171.7 652.7h1.3v1.3h-1.3zM154.9 688.1h1.3v1.3h-1.3zM172.7 670.2h1.3v1.3h-1.3zM147.0 674.8h1.3v1.3h-1.3zM168.1 647.3h1.3v1.3h-1.3zM157.4 672.5h1.3v1.3h-1.3zM176.8 666.1h1.3v1.3h-1.3zM151.1 685.6h1.3v1.3h-1.3zM175.2 687.5h1.3v1.3h-1.3zM172.0 671.0h1.3v1.3h-1.3zM149.7 679.9h1.3v1.3h-1.3zM178.4 675.7h1.3v1.3h-1.3zM145.5 705.1h1.3v1.3h-1.3zM139.4 665.9h1.3v1.3h-1.3zM152.9 668.7h1.3v1.3h-1.3zM163.3 662.0h1.3v1.3h-1.3zM161.5 692.8h1.3v1.3h-1.3zM145.1 674.5h1.3v1.3h-1.3zM161.0 671.9h1.3v1.3h-1.3zM125.3 666.1h1.3v1.3h-1.3zM153.0 681.3h1.3v1.3h-1.3zM181.3 647.3h1.3v1.3h-1.3zM161.6 679.6h1.3v1.3h-1.3zM141.5 706.2h1.3v1.3h-1.3zM151.4 683.9h1.3v1.3h-1.3zM167.5 670.7h1.3v1.3h-1.3zM146.5 692.1h1.3v1.3h-1.3zM164.5 683.8h1.3v1.3h-1.3zM176.1 667.7h1.3v1.3h-1.3zM158.1 674.3h1.3v1.3h-1.3zM154.3 684.1h1.3v1.3h-1.3zM175.0 643.2h1.3v1.3h-1.3zM151.8 681.8h1.3v1.3h-1.3zM160.1 687.8h1.3v1.3h-1.3zM153.3 682.6h1.3v1.3h-1.3zM162.2 663.4h1.3v1.3h-1.3zM144.5 681.2h1.3v1.3h-1.3zM158.8 690.1h1.3v1.3h-1.3zM134.6 692.7h1.3v1.3h-1.3zM156.4 670.8h1.3v1.3h-1.3zM165.4 675.1h1.3v1.3h-1.3zM165.3 668.0h1.3v1.3h-1.3zM147.9 669.0h1.3v1.3h-1.3zM139.8 679.4h1.3v1.3h-1.3zM130.7 682.2h1.3v1.3h-1.3zM169.5 649.3h1.3v1.3h-1.3zM156.5 680.8h1.3v1.3h-1.3zM152.9 676.0h1.3v1.3h-1.3zM152.2 671.2h1.3v1.3h-1.3zM133.0 706.8h1.3v1.3h-1.3zM160.1 675.5h1.3v1.3h-1.3zM152.1 677.3h1.3v1.3h-1.3zM173.6 666.2h1.3v1.3h-1.3zM154.4 686.2h1.3v1.3h-1.3zM154.3 673.3h1.3v1.3h-1.3zM142.9 684.1h1.3v1.3h-1.3zM130.5 696.6h1.3v1.3h-1.3zM176.8 674.1h1.3v1.3h-1.3zM167.1 665.0h1.3v1.3h-1.3zM152.5 686.3h1.3v1.3h-1.3zM152.0 685.1h1.3v1.3h-1.3zM135.1 688.6h1.3v1.3h-1.3zM156.6 663.8h1.3v1.3h-1.3zM167.8 682.5h1.3v1.3h-1.3zM138.8 695.2h1.3v1.3h-1.3zM127.1 683.3h1.3v1.3h-1.3zM150.4 670.7h1.3v1.3h-1.3zM146.8 686.0h1.3v1.3h-1.3zM140.4 681.5h1.3v1.3h-1.3zM152.8 681.3h1.3v1.3h-1.3zM144.2 692.5h1.3v1.3h-1.3zM162.2 686.1h1.3v1.3h-1.3zM149.2 689.2h1.3v1.3h-1.3zM174.0 692.3h1.3v1.3h-1.3zM145.4 704.9h1.3v1.3h-1.3zM132.0 695.8h1.3v1.3h-1.3zM157.2 669.4h1.3v1.3h-1.3zM150.3 680.6h1.3v1.3h-1.3zM165.6 674.7h1.3v1.3h-1.3zM139.2 689.6h1.3v1.3h-1.3zM149.3 678.6h1.3v1.3h-1.3zM158.1 682.9h1.3v1.3h-1.3zM151.9 681.8h1.3v1.3h-1.3zM145.9 672.3h1.3v1.3h-1.3zM134.6 689.1h1.3v1.3h-1.3zM151.1 698.1h1.3v1.3h-1.3zM154.2 671.2h1.3v1.3h-1.3zM139.2 711.7h1.3v1.3h-1.3zM148.0 697.2h1.3v1.3h-1.3zM172.7 676.0h1.3v1.3h-1.3zM165.1 679.7h1.3v1.3h-1.3zM140.8 689.3h1.3v1.3h-1.3zM151.8 684.4h1.3v1.3h-1.3zM140.8 682.4h1.3v1.3h-1.3zM143.0 693.4h1.3v1.3h-1.3zM152.1 678.2h1.3v1.3h-1.3zM151.6 685.4h1.3v1.3h-1.3zM165.7 667.8h1.3v1.3h-1.3zM145.4 657.7h1.3v1.3h-1.3zM144.4 678.9h1.3v1.3h-1.3zM159.0 678.5h1.3v1.3h-1.3zM139.2 688.6h1.3v1.3h-1.3zM135.7 697.6h1.3v1.3h-1.3zM156.1 665.1h1.3v1.3h-1.3zM147.1 673.7h1.3v1.3h-1.3zM163.1 679.7h1.3v1.3h-1.3zM132.1 688.7h1.3v1.3h-1.3zM163.9 662.0h1.3v1.3h-1.3zM171.5 640.6h1.3v1.3h-1.3zM144.0 675.4h1.3v1.3h-1.3zM139.7 684.1h1.3v1.3h-1.3zM173.3 666.3h1.3v1.3h-1.3zM157.1 667.4h1.3v1.3h-1.3zM160.3 666.0h1.3v1.3h-1.3zM148.6 686.7h1.3v1.3h-1.3zM141.5 705.0h1.3v1.3h-1.3zM148.0 675.0h1.3v1.3h-1.3zM145.9 678.6h1.3v1.3h-1.3zM119.6 682.6h1.3v1.3h-1.3zM150.1 676.4h1.3v1.3h-1.3zM126.8 692.7h1.3v1.3h-1.3zM159.6 667.5h1.3v1.3h-1.3zM144.9 679.8h1.3v1.3h-1.3zM136.6 697.7h1.3v1.3h-1.3zM156.3 688.7h1.3v1.3h-1.3zM148.1 695.9h1.3v1.3h-1.3zM165.0 649.3h1.3v1.3h-1.3zM148.0 697.1h1.3v1.3h-1.3zM112.2 723.8h1.3v1.3h-1.3z"/><path fill="rgb(180,180,180)" d="M145.2 705.5h1.3v1.3h-1.3zM167.3 673.3h1.3v1.3h-1.3zM140.8 689.8h1.3v1.3h-1.3zM171.8 668.7h1.3v1.3h-1.3zM151.8 675.0h1.3v1.3h-1.3zM123.2 691.1h1.3v1.3h-1.3zM154.1 678.9h1.3v1.3h-1.3zM147.3 689.4h1.3v1.3h-1.3zM153.0 669.7h1.3v1.3h-1.3zM141.3 691.5h1.3v1.3h-1.3zM165.4 669.8h1.3v1.3h-1.3zM148.7 696.2h1.3v1.3h-1.3zM153.2 685.1h1.3v1.3h-1.3zM149.5 700.8h1.3v1.3h-1.3zM163.3 672.5h1.3v1.3h-1.3zM142.6 678.5h1.3v1.3h-1.3zM153.3 699.0h1.3v1.3h-1.3zM130.4 701.3h1.3v1.3h-1.3zM133.7 700.5h1.3v1.3h-1.3zM153.8 680.3h1.3v1.3h-1.3zM155.3 680.1h1.3v1.3h-1.3zM151.0 676.8h1.3v1.3h-1.3zM156.2 682.5h1.3v1.3h-1.3zM136.3 706.3h1.3v1.3h-1.3zM142.3 685.7h1.3v1.3h-1.3zM129.2 686.7h1.3v1.3h-1.3zM134.5 693.7h1.3v1.3h-1.3zM152.0 676.6h1.3v1.3h-1.3zM135.8 690.0h1.3v1.3h-1.3zM142.8 685.6h1.3v1.3h-1.3zM156.6 677.3h1.3v1.3h-1.3zM150.8 686.5h1.3v1.3h-1.3zM174.8 675.8h1.3v1.3h-1.3zM171.8 652.0h1.3v1.3h-1.3zM138.4 693.7h1.3v1.3h-1.3zM162.4 669.9h1.3v1.3h-1.3zM170.8 650.2h1.3v1.3h-1.3zM166.2 668.0h1.3v1.3h-1.3zM147.1 688.5h1.3v1.3h-1.3zM166.9 675.1h1.3v1.3h-1.3zM157.6 681.6h1.3v1.3h-1.3zM148.7 700.3h1.3v1.3h-1.3zM142.4 680.8h1.3v1.3h-1.3zM164.3 665.9h1.3v1.3h-1.3zM149.5 677.2h1.3v1.3h-1.3zM158.0 684.9h1.3v1.3h-1.3zM154.4 689.0h1.3v1.3h-1.3zM161.5 676.8h1.3v1.3h-1.3zM143.8 674.8h1.3v1.3h-1.3zM162.6 679.6h1.3v1.3h-1.3zM148.9 677.9h1.3v1.3h-1.3zM123.0 701.0h1.3v1.3h-1.3zM130.6 681.3h1.3v1.3h-1.3zM151.0 671.6h1.3v1.3h-1.3zM152.5 672.9h1.3v1.3h-1.3zM132.8 714.6h1.3v1.3h-1.3zM161.6 661.6h1.3v1.3h-1.3zM155.8 692.3h1.3v1.3h-1.3zM150.2 687.7h1.3v1.3h-1.3zM125.3 700.8h1.3v1.3h-1.3zM169.6 676.1h1.3v1.3h-1.3zM149.0 693.6h1.3v1.3h-1.3zM179.2 660.6h1.3v1.3h-1.3zM136.8 689.7h1.3v1.3h-1.3zM157.8 683.3h1.3v1.3h-1.3zM147.4 683.6h1.3v1.3h-1.3zM159.5 686.4h1.3v1.3h-1.3zM136.9 684.0h1.3v1.3h-1.3zM155.8 680.0h1.3v1.3h-1.3zM135.0 681.3h1.3v1.3h-1.3zM147.2 680.1h1.3v1.3h-1.3zM159.8 666.6h1.3v1.3h-1.3zM127.9 682.4h1.3v1.3h-1.3zM145.9 684.6h1.3v1.3h-1.3zM130.0 690.1h1.3v1.3h-1.3zM149.3 672.2h1.3v1.3h-1.3zM146.3 679.4h1.3v1.3h-1.3zM160.7 670.5h1.3v1.3h-1.3zM158.6 657.9h1.3v1.3h-1.3zM134.8 697.1h1.3v1.3h-1.3zM139.7 685.8h1.3v1.3h-1.3zM164.6 655.1h1.3v1.3h-1.3zM153.2 683.0h1.3v1.3h-1.3zM165.3 685.5h1.3v1.3h-1.3zM154.5 675.7h1.3v1.3h-1.3zM148.2 694.5h1.3v1.3h-1.3zM127.9 697.8h1.3v1.3h-1.3zM147.1 683.1h1.3v1.3h-1.3zM160.9 677.3h1.3v1.3h-1.3zM149.1 689.6h1.3v1.3h-1.3zM153.1 673.5h1.3v1.3h-1.3zM156.5 677.3h1.3v1.3h-1.3zM146.0 686.3h1.3v1.3h-1.3zM151.4 679.5h1.3v1.3h-1.3zM160.6 686.3h1.3v1.3h-1.3zM153.2 690.4h1.3v1.3h-1.3zM156.3 677.8h1.3v1.3h-1.3zM154.3 693.8h1.3v1.3h-1.3zM138.1 679.6h1.3v1.3h-1.3zM159.6 678.6h1.3v1.3h-1.3zM145.3 670.6h1.3v1.3h-1.3zM162.6 678.7h1.3v1.3h-1.3zM148.0 694.6h1.3v1.3h-1.3zM158.8 667.4h1.3v1.3h-1.3zM152.9 682.6h1.3v1.3h-1.3zM168.4 673.9h1.3v1.3h-1.3zM149.9 682.2h1.3v1.3h-1.3zM164.6 658.6h1.3v1.3h-1.3zM161.3 670.4h1.3v1.3h-1.3zM151.4 667.3h1.3v1.3h-1.3zM174.0 658.8h1.3v1.3h-1.3zM135.6 700.0h1.3v1.3h-1.3zM141.0 670.0h1.3v1.3h-1.3zM173.7 674.6h1.3v1.3h-1.3zM139.4 698.3h1.3v1.3h-1.3zM144.1 685.5h1.3v1.3h-1.3zM135.6 686.9h1.3v1.3h-1.3zM163.4 668.3h1.3v1.3h-1.3zM164.4 680.9h1.3v1.3h-1.3zM175.8 654.0h1.3v1.3h-1.3zM159.6 685.5h1.3v1.3h-1.3zM161.5 683.3h1.3v1.3h-1.3zM167.3 671.7h1.3v1.3h-1.3zM176.5 660.4h1.3v1.3h-1.3zM161.6 658.8h1.3v1.3h-1.3zM176.6 657.1h1.3v1.3h-1.3zM153.4 693.9h1.3v1.3h-1.3zM159.6 658.1h1.3v1.3h-1.3zM173.9 661.2h1.3v1.3h-1.3zM140.5 680.0h1.3v1.3h-1.3z"/><path fill="rgb(60,60,60)" d="M158.5 664.6h1.3v1.3h-1.3zM137.6 678.9h1.3v1.3h-1.3zM179.4 663.0h1.3v1.3h-1.3zM150.1 686.5h1.3v1.3h-1.3zM161.9 673.6h1.3v1.3h-1.3zM135.1 683.1h1.3v1.3h-1.3zM148.4 674.6h1.3v1.3h-1.3zM138.0 699.2h1.3v1.3h-1.3zM160.7 664.5h1.3v1.3h-1.3zM135.2 697.0h1.3v1.3h-1.3zM170.3 684.2h1.3v1.3h-1.3zM148.2 689.3h1.3v1.3h-1.3zM161.1 656.9h1.3v1.3h-1.3zM160.3 663.9h1.3v1.3h-1.3zM142.5 684.7h1.3v1.3h-1.3zM154.7 690.4h1.3v1.3h-1.3zM150.9 682.4h1.3v1.3h-1.3zM127.2 697.0h1.3v1.3h-1.3zM135.9 685.9h1.3v1.3h-1.3zM159.1 668.1h1.3v1.3h-1.3zM140.4 681.0h1.3v1.3h-1.3zM138.2 695.3h1.3v1.3h-1.3zM145.2 697.0h1.3v1.3h-1.3zM145.4 676.3h1.3v1.3h-1.3zM168.6 660.7h1.3v1.3h-1.3zM130.0 693.6h1.3v1.3h-1.3zM145.6 666.2h1.3v1.3h-1.3zM147.8 685.0h1.3v1.3h-1.3zM141.9 701.3h1.3v1.3h-1.3zM144.5 674.0h1.3v1.3h-1.3zM168.6 683.1h1.3v1.3h-1.3zM159.0 650.9h1.3v1.3h-1.3zM142.9 681.9h1.3v1.3h-1.3zM146.1 701.2h1.3v1.3h-1.3zM147.6 675.9h1.3v1.3h-1.3zM166.9 668.2h1.3v1.3h-1.3zM153.2 699.7h1.3v1.3h-1.3zM162.8 667.6h1.3v1.3h-1.3zM129.5 696.3h1.3v1.3h-1.3zM148.1 684.5h1.3v1.3h-1.3zM157.7 665.9h1.3v1.3h-1.3zM158.1 673.6h1.3v1.3h-1.3zM116.9 691.9h1.3v1.3h-1.3zM156.2 677.2h1.3v1.3h-1.3zM178.0 641.7h1.3v1.3h-1.3zM147.3 683.3h1.3v1.3h-1.3zM146.4 709.5h1.3v1.3h-1.3zM142.2 683.6h1.3v1.3h-1.3zM154.1 696.8h1.3v1.3h-1.3zM152.5 677.3h1.3v1.3h-1.3zM157.0 677.9h1.3v1.3h-1.3zM143.6 665.5h1.3v1.3h-1.3zM153.8 683.9h1.3v1.3h-1.3zM141.6 674.3h1.3v1.3h-1.3zM149.0 693.8h1.3v1.3h-1.3zM146.2 676.3h1.3v1.3h-1.3zM158.8 679.3h1.3v1.3h-1.3zM157.6 672.2h1.3v1.3h-1.3zM143.8 680.9h1.3v1.3h-1.3zM147.0 677.0h1.3v1.3h-1.3zM174.1 659.4h1.3v1.3h-1.3zM146.3 686.8h1.3v1.3h-1.3zM160.8 676.1h1.3v1.3h-1.3zM157.7 673.9h1.3v1.3h-1.3zM141.5 697.9h1.3v1.3h-1.3zM137.4 694.4h1.3v1.3h-1.3zM141.4 691.9h1.3v1.3h-1.3zM167.3 654.7h1.3v1.3h-1.3zM153.5 665.5h1.3v1.3h-1.3zM157.3 690.1h1.3v1.3h-1.3zM154.9 682.2h1.3v1.3h-1.3zM151.2 683.7h1.3v1.3h-1.3zM146.8 672.1h1.3v1.3h-1.3zM149.3 685.1h1.3v1.3h-1.3zM141.8 694.5h1.3v1.3h-1.3zM139.7 675.5h1.3v1.3h-1.3zM141.0 662.2h1.3v1.3h-1.3zM126.1 699.1h1.3v1.3h-1.3zM152.4 684.7h1.3v1.3h-1.3zM171.9 643.8h1.3v1.3h-1.3zM144.4 707.8h1.3v1.3h-1.3zM148.5 644.5h1.3v1.3h-1.3zM144.1 690.5h1.3v1.3h-1.3zM152.5 668.8h1.3v1.3h-1.3zM133.9 698.7h1.3v1.3h-1.3zM120.1 713.4h1.3v1.3h-1.3zM155.5 687.4h1.3v1.3h-1.3zM142.8 681.0h1.3v1.3h-1.3zM145.4 704.5h1.3v1.3h-1.3zM147.8 670.0h1.3v1.3h-1.3zM142.2 709.1h1.3v1.3h-1.3zM162.4 673.7h1.3v1.3h-1.3zM161.7 668.2h1.3v1.3h-1.3zM161.8 674.4h1.3v1.3h-1.3zM143.9 698.1h1.3v1.3h-1.3zM161.1 686.1h1.3v1.3h-1.3zM176.7 654.8h1.3v1.3h-1.3zM148.2 677.0h1.3v1.3h-1.3zM179.3 649.9h1.3v1.3h-1.3zM142.2 685.2h1.3v1.3h-1.3zM163.3 666.8h1.3v1.3h-1.3zM152.7 667.2h1.3v1.3h-1.3zM155.8 688.1h1.3v1.3h-1.3zM161.2 685.3h1.3v1.3h-1.3zM170.8 683.1h1.3v1.3h-1.3zM155.4 699.9h1.3v1.3h-1.3zM165.4 646.3h1.3v1.3h-1.3zM131.4 693.9h1.3v1.3h-1.3zM163.7 666.0h1.3v1.3h-1.3zM149.1 663.5h1.3v1.3h-1.3zM152.2 690.4h1.3v1.3h-1.3zM127.3 706.6h1.3v1.3h-1.3zM145.2 692.3h1.3v1.3h-1.3zM165.4 660.2h1.3v1.3h-1.3zM133.7 694.2h1.3v1.3h-1.3zM148.5 686.7h1.3v1.3h-1.3zM157.1 667.6h1.3v1.3h-1.3zM139.0 700.1h1.3v1.3h-1.3zM157.1 687.3h1.3v1.3h-1.3zM147.1 701.2h1.3v1.3h-1.3zM145.1 675.2h1.3v1.3h-1.3z"/><path fill="rgb(140,140,140)" d="M140.4 697.2h1.3v1.3h-1.3zM135.4 690.6h1.3v1.3h-1.3zM146.2 684.5h1.3v1.3h-1.3zM146.4 680.3h1.3v1.3h-1.3zM181.6 649.9h1.3v1.3h-1.3zM152.0 687.7h1.3v1.3h-1.3zM131.9 690.1h1.3v1.3h-1.3zM157.7 673.0h1.3v1.3h-1.3zM155.2 675.5h1.3v1.3h-1.3zM152.4 684.2h1.3v1.3h-1.3zM164.8 658.1h1.3v1.3h-1.3zM156.2 658.8h1.3v1.3h-1.3zM163.5 682.7h1.3v1.3h-1.3zM146.0 681.5h1.3v1.3h-1.3zM133.0 697.1h1.3v1.3h-1.3zM149.4 679.7h1.3v1.3h-1.3zM136.2 689.2h1.3v1.3h-1.3zM131.0 687.4h1.3v1.3h-1.3zM149.1 676.4h1.3v1.3h-1.3zM156.9 686.2h1.3v1.3h-1.3zM161.8 666.7h1.3v1.3h-1.3zM155.8 678.6h1.3v1.3h-1.3zM144.6 681.5h1.3v1.3h-1.3zM153.3 679.1h1.3v1.3h-1.3zM142.4 688.5h1.3v1.3h-1.3zM140.4 701.4h1.3v1.3h-1.3zM148.1 692.1h1.3v1.3h-1.3zM134.3 677.2h1.3v1.3h-1.3zM155.1 679.8h1.3v1.3h-1.3zM143.4 670.1h1.3v1.3h-1.3zM148.0 676.7h1.3v1.3h-1.3zM164.0 681.4h1.3v1.3h-1.3zM139.8 661.6h1.3v1.3h-1.3zM154.3 695.6h1.3v1.3h-1.3zM151.7 667.7h1.3v1.3h-1.3zM138.4 685.2h1.3v1.3h-1.3zM143.7 673.8h1.3v1.3h-1.3zM163.6 663.0h1.3v1.3h-1.3zM160.1 675.2h1.3v1.3h-1.3zM168.5 672.9h1.3v1.3h-1.3zM152.8 680.8h1.3v1.3h-1.3zM144.2 681.6h1.3v1.3h-1.3zM166.7 679.8h1.3v1.3h-1.3zM147.3 687.7h1.3v1.3h-1.3zM145.8 681.9h1.3v1.3h-1.3zM154.3 677.6h1.3v1.3h-1.3zM142.6 679.2h1.3v1.3h-1.3zM146.4 709.3h1.3v1.3h-1.3zM142.8 699.0h1.3v1.3h-1.3zM157.9 673.2h1.3v1.3h-1.3zM156.2 673.7h1.3v1.3h-1.3zM140.4 700.3h1.3v1.3h-1.3zM169.9 667.1h1.3v1.3h-1.3zM165.9 663.8h1.3v1.3h-1.3zM167.4 666.3h1.3v1.3h-1.3zM150.7 668.9h1.3v1.3h-1.3zM154.5 690.5h1.3v1.3h-1.3zM142.3 698.3h1.3v1.3h-1.3zM156.6 687.6h1.3v1.3h-1.3zM150.3 674.7h1.3v1.3h-1.3zM161.2 671.2h1.3v1.3h-1.3zM150.5 666.4h1.3v1.3h-1.3zM171.7 681.7h1.3v1.3h-1.3zM146.4 688.3h1.3v1.3h-1.3zM149.6 675.7h1.3v1.3h-1.3zM136.7 696.5h1.3v1.3h-1.3zM124.6 695.1h1.3v1.3h-1.3zM122.9 701.8h1.3v1.3h-1.3zM145.2 693.9h1.3v1.3h-1.3zM157.0 675.2h1.3v1.3h-1.3zM157.9 672.6h1.3v1.3h-1.3zM157.8 661.7h1.3v1.3h-1.3zM160.4 658.3h1.3v1.3h-1.3zM146.2 672.8h1.3v1.3h-1.3zM157.1 672.5h1.3v1.3h-1.3zM139.2 688.2h1.3v1.3h-1.3zM145.7 689.3h1.3v1.3h-1.3zM159.2 679.9h1.3v1.3h-1.3zM138.2 703.0h1.3v1.3h-1.3zM159.7 678.2h1.3v1.3h-1.3zM161.4 680.2h1.3v1.3h-1.3zM159.0 676.7h1.3v1.3h-1.3zM159.3 651.4h1.3v1.3h-1.3zM114.6 701.4h1.3v1.3h-1.3zM151.3 677.9h1.3v1.3h-1.3zM140.8 700.1h1.3v1.3h-1.3zM140.8 686.1h1.3v1.3h-1.3zM161.6 676.0h1.3v1.3h-1.3zM157.7 679.4h1.3v1.3h-1.3zM141.1 689.2h1.3v1.3h-1.3zM141.7 666.3h1.3v1.3h-1.3zM141.6 679.6h1.3v1.3h-1.3zM160.5 655.5h1.3v1.3h-1.3zM167.3 672.6h1.3v1.3h-1.3zM165.2 666.4h1.3v1.3h-1.3zM155.2 673.3h1.3v1.3h-1.3zM144.8 691.4h1.3v1.3h-1.3zM153.0 691.4h1.3v1.3h-1.3zM137.5 692.0h1.3v1.3h-1.3zM148.6 676.4h1.3v1.3h-1.3zM163.7 665.5h1.3v1.3h-1.3zM135.9 688.1h1.3v1.3h-1.3zM131.7 687.7h1.3v1.3h-1.3zM138.5 674.7h1.3v1.3h-1.3zM152.8 677.5h1.3v1.3h-1.3zM126.6 712.3h1.3v1.3h-1.3zM170.0 654.4h1.3v1.3h-1.3zM149.7 684.0h1.3v1.3h-1.3zM174.7 673.8h1.3v1.3h-1.3zM129.6 703.9h1.3v1.3h-1.3zM149.4 674.0h1.3v1.3h-1.3zM153.4 692.1h1.3v1.3h-1.3zM145.9 684.2h1.3v1.3h-1.3zM142.3 697.7h1.3v1.3h-1.3zM149.5 667.0h1.3v1.3h-1.3zM156.9 677.5h1.3v1.3h-1.3zM154.5 680.4h1.3v1.3h-1.3zM149.7 678.6h1.3v1.3h-1.3zM162.0 690.0h1.3v1.3h-1.3zM136.1 692.9h1.3v1.3h-1.3zM152.9 679.5h1.3v1.3h-1.3zM172.2 654.9h1.3v1.3h-1.3zM161.0 656.7h1.3v1.3h-1.3zM160.2 643.2h1.3v1.3h-1.3zM140.6 687.5h1.3v1.3h-1.3zM160.5 693.3h1.3v1.3h-1.3zM159.9 687.1h1.3v1.3h-1.3zM152.0 667.2h1.3v1.3h-1.3zM135.5 693.8h1.3v1.3h-1.3zM154.4 658.2h1.3v1.3h-1.3zM164.7 657.8h1.3v1.3h-1.3zM154.7 676.9h1.3v1.3h-1.3zM156.7 687.0h1.3v1.3h-1.3zM164.7 684.6h1.3v1.3h-1.3zM107.9 719.8h1.3v1.3h-1.3zM150.9 686.8h1.3v1.3h-1.3zM154.4 676.4h1.3v1.3h-1.3zM150.6 673.7h1.3v1.3h-1.3zM150.8 674.7h1.3v1.3h-1.3zM149.0 679.9h1.3v1.3h-1.3zM155.3 678.5h1.3v1.3h-1.3zM148.6 684.2h1.3v1.3h-1.3zM151.4 680.3h1.3v1.3h-1.3zM139.4 679.9h1.3v1.3h-1.3zM166.5 693.3h1.3v1.3h-1.3zM167.8 664.2h1.3v1.3h-1.3zM152.4 671.4h1.3v1.3h-1.3z"/><path fill="rgb(80,80,80)" d="M130.3 705.6h1.3v1.3h-1.3zM157.6 670.3h1.3v1.3h-1.3zM146.9 696.5h1.3v1.3h-1.3zM140.0 678.5h1.3v1.3h-1.3zM138.2 685.9h1.3v1.3h-1.3zM139.2 690.4h1.3v1.3h-1.3zM159.8 670.2h1.3v1.3h-1.3zM127.5 703.1h1.3v1.3h-1.3zM137.3 690.1h1.3v1.3h-1.3zM159.7 695.4h1.3v1.3h-1.3zM158.5 673.7h1.3v1.3h-1.3zM152.7 679.4h1.3v1.3h-1.3zM167.8 693.5h1.3v1.3h-1.3zM145.1 683.9h1.3v1.3h-1.3zM144.4 681.7h1.3v1.3h-1.3zM155.8 695.8h1.3v1.3h-1.3zM135.4 680.8h1.3v1.3h-1.3zM147.9 693.8h1.3v1.3h-1.3zM164.1 675.9h1.3v1.3h-1.3zM116.3 697.8h1.3v1.3h-1.3zM136.3 688.6h1.3v1.3h-1.3zM155.8 688.9h1.3v1.3h-1.3zM158.7 693.8h1.3v1.3h-1.3zM131.5 701.2h1.3v1.3h-1.3zM175.0 657.1h1.3v1.3h-1.3zM144.0 695.7h1.3v1.3h-1.3zM144.9 679.8h1.3v1.3h-1.3zM177.1 642.3h1.3v1.3h-1.3zM159.9 688.9h1.3v1.3h-1.3zM164.9 672.9h1.3v1.3h-1.3zM145.2 687.3h1.3v1.3h-1.3zM164.1 655.5h1.3v1.3h-1.3zM143.8 689.2h1.3v1.3h-1.3zM147.3 701.1h1.3v1.3h-1.3zM133.6 685.3h1.3v1.3h-1.3zM145.4 694.7h1.3v1.3h-1.3zM156.0 671.6h1.3v1.3h-1.3zM151.9 664.6h1.3v1.3h-1.3zM165.9 675.9h1.3v1.3h-1.3zM162.8 658.8h1.3v1.3h-1.3zM134.3 709.4h1.3v1.3h-1.3zM140.2 691.8h1.3v1.3h-1.3zM152.2 666.2h1.3v1.3h-1.3zM148.5 695.7h1.3v1.3h-1.3zM165.4 674.7h1.3v1.3h-1.3zM167.6 673.6h1.3v1.3h-1.3zM135.7 687.2h1.3v1.3h-1.3zM179.7 661.5h1.3v1.3h-1.3zM154.4 658.8h1.3v1.3h-1.3zM147.4 697.6h1.3v1.3h-1.3zM150.5 689.9h1.3v1.3h-1.3zM176.5 634.1h1.3v1.3h-1.3zM144.8 686.3h1.3v1.3h-1.3zM161.7 673.8h1.3v1.3h-1.3zM159.1 676.8h1.3v1.3h-1.3zM164.5 673.4h1.3v1.3h-1.3zM163.8 680.5h1.3v1.3h-1.3zM154.5 677.2h1.3v1.3h-1.3zM152.7 676.2h1.3v1.3h-1.3zM151.6 691.7h1.3v1.3h-1.3zM146.5 692.8h1.3v1.3h-1.3zM140.4 677.2h1.3v1.3h-1.3zM155.9 687.8h1.3v1.3h-1.3zM151.7 692.5h1.3v1.3h-1.3zM148.4 676.1h1.3v1.3h-1.3zM164.8 674.2h1.3v1.3h-1.3zM142.4 672.6h1.3v1.3h-1.3zM140.0 665.9h1.3v1.3h-1.3zM159.0 657.1h1.3v1.3h-1.3zM153.7 688.1h1.3v1.3h-1.3zM168.2 674.4h1.3v1.3h-1.3zM167.0 640.6h1.3v1.3h-1.3zM153.1 688.9h1.3v1.3h-1.3zM135.1 689.7h1.3v1.3h-1.3zM162.7 679.9h1.3v1.3h-1.3zM144.7 703.4h1.3v1.3h-1.3zM149.6 695.8h1.3v1.3h-1.3zM172.1 655.4h1.3v1.3h-1.3zM136.0 687.5h1.3v1.3h-1.3zM152.2 689.9h1.3v1.3h-1.3zM158.7 670.4h1.3v1.3h-1.3zM130.9 698.3h1.3v1.3h-1.3zM144.6 688.0h1.3v1.3h-1.3zM162.4 675.4h1.3v1.3h-1.3zM159.2 655.5h1.3v1.3h-1.3zM145.1 692.9h1.3v1.3h-1.3zM142.0 698.0h1.3v1.3h-1.3zM143.4 672.4h1.3v1.3h-1.3zM157.1 670.1h1.3v1.3h-1.3zM146.1 675.6h1.3v1.3h-1.3zM160.2 680.7h1.3v1.3h-1.3zM164.5 653.5h1.3v1.3h-1.3zM145.7 682.2h1.3v1.3h-1.3zM147.8 685.6h1.3v1.3h-1.3zM154.1 674.2h1.3v1.3h-1.3zM176.0 666.3h1.3v1.3h-1.3zM152.4 680.8h1.3v1.3h-1.3zM165.3 675.7h1.3v1.3h-1.3zM157.4 676.8h1.3v1.3h-1.3zM153.0 669.2h1.3v1.3h-1.3zM171.0 662.9h1.3v1.3h-1.3zM160.0 677.9h1.3v1.3h-1.3zM150.7 689.7h1.3v1.3h-1.3zM136.0 690.9h1.3v1.3h-1.3zM148.8 686.4h1.3v1.3h-1.3zM167.7 661.6h1.3v1.3h-1.3zM147.5 674.3h1.3v1.3h-1.3zM164.3 663.7h1.3v1.3h-1.3zM150.7 679.1h1.3v1.3h-1.3zM144.9 693.8h1.3v1.3h-1.3zM150.5 679.3h1.3v1.3h-1.3zM148.2 673.2h1.3v1.3h-1.3zM135.9 694.1h1.3v1.3h-1.3zM155.2 664.0h1.3v1.3h-1.3zM166.2 667.7h1.3v1.3h-1.3zM114.8 709.5h1.3v1.3h-1.3zM166.8 651.6h1.3v1.3h-1.3zM144.9 698.1h1.3v1.3h-1.3zM142.2 673.6h1.3v1.3h-1.3zM135.7 707.6h1.3v1.3h-1.3zM156.0 690.1h1.3v1.3h-1.3zM159.2 676.1h1.3v1.3h-1.3zM138.1 695.6h1.3v1.3h-1.3zM173.3 671.7h1.3v1.3h-1.3zM158.8 671.1h1.3v1.3h-1.3zM157.7 672.9h1.3v1.3h-1.3zM127.6 690.8h1.3v1.3h-1.3zM153.7 684.7h1.3v1.3h-1.3zM157.7 682.5h1.3v1.3h-1.3zM156.8 671.7h1.3v1.3h-1.3zM144.8 684.8h1.3v1.3h-1.3zM151.2 676.9h1.3v1.3h-1.3z"/><path fill="rgb(90,90,90)" d="M139.9 695.1h1.3v1.3h-1.3zM155.8 671.5h1.3v1.3h-1.3zM164.7 675.9h1.3v1.3h-1.3zM147.6 671.7h1.3v1.3h-1.3zM190.9 631.8h1.3v1.3h-1.3zM148.8 674.9h1.3v1.3h-1.3zM157.0 675.9h1.3v1.3h-1.3zM149.3 689.2h1.3v1.3h-1.3zM176.0 655.7h1.3v1.3h-1.3zM141.4 677.9h1.3v1.3h-1.3zM144.5 671.7h1.3v1.3h-1.3zM164.0 663.1h1.3v1.3h-1.3zM152.1 692.4h1.3v1.3h-1.3zM150.5 679.6h1.3v1.3h-1.3zM136.3 695.0h1.3v1.3h-1.3zM150.4 684.2h1.3v1.3h-1.3zM145.8 687.8h1.3v1.3h-1.3zM135.2 696.7h1.3v1.3h-1.3zM148.6 693.9h1.3v1.3h-1.3zM151.1 679.3h1.3v1.3h-1.3zM181.4 626.2h1.3v1.3h-1.3zM156.0 671.1h1.3v1.3h-1.3zM166.6 673.2h1.3v1.3h-1.3zM145.3 686.9h1.3v1.3h-1.3zM163.1 678.7h1.3v1.3h-1.3zM154.6 681.3h1.3v1.3h-1.3zM160.3 679.4h1.3v1.3h-1.3zM173.3 668.1h1.3v1.3h-1.3zM175.9 650.0h1.3v1.3h-1.3zM147.5 665.6h1.3v1.3h-1.3zM128.3 704.8h1.3v1.3h-1.3zM131.5 699.9h1.3v1.3h-1.3zM129.6 690.0h1.3v1.3h-1.3zM155.8 685.4h1.3v1.3h-1.3zM131.4 700.0h1.3v1.3h-1.3zM140.2 699.1h1.3v1.3h-1.3zM151.5 663.7h1.3v1.3h-1.3zM180.0 670.0h1.3v1.3h-1.3zM144.8 659.4h1.3v1.3h-1.3zM141.3 699.2h1.3v1.3h-1.3zM160.0 688.9h1.3v1.3h-1.3zM162.1 673.7h1.3v1.3h-1.3zM138.0 707.8h1.3v1.3h-1.3zM161.3 692.7h1.3v1.3h-1.3zM152.8 672.2h1.3v1.3h-1.3zM153.3 673.9h1.3v1.3h-1.3zM146.5 673.0h1.3v1.3h-1.3zM163.3 655.5h1.3v1.3h-1.3zM171.9 666.4h1.3v1.3h-1.3zM132.0 690.2h1.3v1.3h-1.3zM133.8 695.7h1.3v1.3h-1.3zM164.5 650.6h1.3v1.3h-1.3zM146.9 707.2h1.3v1.3h-1.3zM154.5 664.1h1.3v1.3h-1.3zM155.4 677.2h1.3v1.3h-1.3zM146.4 674.5h1.3v1.3h-1.3zM159.9 689.2h1.3v1.3h-1.3zM171.4 683.9h1.3v1.3h-1.3zM165.7 674.7h1.3v1.3h-1.3zM157.6 678.9h1.3v1.3h-1.3zM145.3 662.2h1.3v1.3h-1.3zM141.8 679.6h1.3v1.3h-1.3zM159.0 674.7h1.3v1.3h-1.3zM178.4 659.9h1.3v1.3h-1.3zM146.0 688.2h1.3v1.3h-1.3zM123.4 696.7h1.3v1.3h-1.3zM161.1 690.2h1.3v1.3h-1.3zM180.0 657.0h1.3v1.3h-1.3zM130.6 703.5h1.3v1.3h-1.3zM154.2 670.1h1.3v1.3h-1.3zM137.0 692.0h1.3v1.3h-1.3zM148.7 679.4h1.3v1.3h-1.3zM156.3 684.1h1.3v1.3h-1.3zM139.2 708.9h1.3v1.3h-1.3zM166.2 674.8h1.3v1.3h-1.3zM162.3 684.9h1.3v1.3h-1.3zM136.2 680.7h1.3v1.3h-1.3zM116.9 694.8h1.3v1.3h-1.3zM161.7 671.4h1.3v1.3h-1.3zM143.8 680.1h1.3v1.3h-1.3zM162.4 665.5h1.3v1.3h-1.3zM190.9 680.6h1.3v1.3h-1.3zM165.1 669.4h1.3v1.3h-1.3zM162.3 660.4h1.3v1.3h-1.3zM150.1 697.9h1.3v1.3h-1.3zM148.5 684.9h1.3v1.3h-1.3zM175.9 655.9h1.3v1.3h-1.3zM159.6 682.0h1.3v1.3h-1.3zM145.3 693.1h1.3v1.3h-1.3zM161.3 665.5h1.3v1.3h-1.3zM125.4 691.7h1.3v1.3h-1.3zM147.1 680.0h1.3v1.3h-1.3zM143.6 700.4h1.3v1.3h-1.3zM153.9 675.2h1.3v1.3h-1.3zM168.6 653.3h1.3v1.3h-1.3zM158.1 674.1h1.3v1.3h-1.3zM156.1 667.9h1.3v1.3h-1.3zM145.6 691.1h1.3v1.3h-1.3zM136.9 692.1h1.3v1.3h-1.3zM149.5 679.8h1.3v1.3h-1.3zM150.3 690.4h1.3v1.3h-1.3zM151.4 687.7h1.3v1.3h-1.3zM140.4 691.1h1.3v1.3h-1.3zM193.4 653.6h1.3v1.3h-1.3zM136.5 695.6h1.3v1.3h-1.3zM159.4 684.4h1.3v1.3h-1.3zM146.3 681.8h1.3v1.3h-1.3zM146.9 692.3h1.3v1.3h-1.3zM149.0 690.4h1.3v1.3h-1.3zM148.1 678.7h1.3v1.3h-1.3zM149.5 655.6h1.3v1.3h-1.3zM147.9 680.8h1.3v1.3h-1.3zM145.2 677.7h1.3v1.3h-1.3zM182.2 638.6h1.3v1.3h-1.3zM139.4 704.6h1.3v1.3h-1.3zM142.5 695.9h1.3v1.3h-1.3zM145.3 672.0h1.3v1.3h-1.3zM153.4 690.2h1.3v1.3h-1.3zM154.2 677.8h1.3v1.3h-1.3zM160.1 661.0h1.3v1.3h-1.3zM153.3 669.7h1.3v1.3h-1.3zM147.4 644.2h1.3v1.3h-1.3zM164.7 688.3h1.3v1.3h-1.3zM155.3 675.3h1.3v1.3h-1.3zM128.3 713.2h1.3v1.3h-1.3zM146.8 686.9h1.3v1.3h-1.3zM166.2 684.0h1.3v1.3h-1.3zM138.0 671.6h1.3v1.3h-1.3zM147.1 690.7h1.3v1.3h-1.3zM132.9 713.1h1.3v1.3h-1.3zM143.0 666.4h1.3v1.3h-1.3zM137.2 686.2h1.3v1.3h-1.3zM150.1 672.3h1.3v1.3h-1.3zM128.6 705.5h1.3v1.3h-1.3zM160.8 686.5h1.3v1.3h-1.3zM133.0 682.0h1.3v1.3h-1.3zM147.3 697.7h1.3v1.3h-1.3zM160.1 672.5h1.3v1.3h-1.3zM151.3 676.8h1.3v1.3h-1.3zM140.5 693.7h1.3v1.3h-1.3z"/><path fill="rgb(50,50,50)" d="M170.6 679.8h1.3v1.3h-1.3zM154.0 670.1h1.3v1.3h-1.3zM127.0 673.3h1.3v1.3h-1.3zM155.3 675.1h1.3v1.3h-1.3zM145.1 675.3h1.3v1.3h-1.3zM149.5 675.7h1.3v1.3h-1.3zM151.3 689.6h1.3v1.3h-1.3zM153.9 698.1h1.3v1.3h-1.3zM158.2 689.0h1.3v1.3h-1.3zM164.9 669.8h1.3v1.3h-1.3zM162.0 668.7h1.3v1.3h-1.3zM137.6 683.6h1.3v1.3h-1.3zM145.2 672.8h1.3v1.3h-1.3zM142.7 696.3h1.3v1.3h-1.3zM146.1 680.3h1.3v1.3h-1.3zM143.3 672.9h1.3v1.3h-1.3zM157.7 682.9h1.3v1.3h-1.3zM156.9 669.5h1.3v1.3h-1.3zM139.8 693.7h1.3v1.3h-1.3zM130.1 700.7h1.3v1.3h-1.3zM144.7 699.6h1.3v1.3h-1.3zM143.4 676.2h1.3v1.3h-1.3zM147.1 685.1h1.3v1.3h-1.3zM148.7 672.4h1.3v1.3h-1.3zM148.7 675.7h1.3v1.3h-1.3zM140.4 674.4h1.3v1.3h-1.3zM145.7 680.0h1.3v1.3h-1.3zM140.1 674.9h1.3v1.3h-1.3zM155.4 668.3h1.3v1.3h-1.3zM137.0 688.4h1.3v1.3h-1.3zM181.9 670.4h1.3v1.3h-1.3zM147.9 686.7h1.3v1.3h-1.3zM156.7 674.6h1.3v1.3h-1.3zM147.8 674.9h1.3v1.3h-1.3zM164.1 667.6h1.3v1.3h-1.3zM153.2 649.9h1.3v1.3h-1.3zM160.8 668.2h1.3v1.3h-1.3zM148.6 689.0h1.3v1.3h-1.3zM158.7 673.8h1.3v1.3h-1.3zM162.6 671.3h1.3v1.3h-1.3zM155.5 666.5h1.3v1.3h-1.3zM144.0 679.1h1.3v1.3h-1.3zM155.1 684.0h1.3v1.3h-1.3zM122.9 702.1h1.3v1.3h-1.3zM159.3 684.6h1.3v1.3h-1.3zM182.0 670.9h1.3v1.3h-1.3zM150.5 671.3h1.3v1.3h-1.3zM145.9 687.9h1.3v1.3h-1.3zM148.7 682.7h1.3v1.3h-1.3zM158.1 682.1h1.3v1.3h-1.3zM125.8 673.5h1.3v1.3h-1.3zM165.6 692.2h1.3v1.3h-1.3zM176.2 669.8h1.3v1.3h-1.3zM154.5 688.1h1.3v1.3h-1.3zM159.8 662.3h1.3v1.3h-1.3zM153.0 673.3h1.3v1.3h-1.3zM142.3 689.8h1.3v1.3h-1.3zM162.2 680.9h1.3v1.3h-1.3zM141.6 681.2h1.3v1.3h-1.3zM112.8 693.4h1.3v1.3h-1.3zM138.7 683.9h1.3v1.3h-1.3zM133.4 712.2h1.3v1.3h-1.3zM152.6 666.9h1.3v1.3h-1.3zM161.5 676.1h1.3v1.3h-1.3zM137.1 693.7h1.3v1.3h-1.3zM149.3 686.5h1.3v1.3h-1.3zM147.1 697.4h1.3v1.3h-1.3zM152.2 676.2h1.3v1.3h-1.3zM170.8 663.6h1.3v1.3h-1.3zM141.7 689.2h1.3v1.3h-1.3zM159.8 669.7h1.3v1.3h-1.3zM135.3 692.1h1.3v1.3h-1.3zM153.1 684.5h1.3v1.3h-1.3zM154.5 691.5h1.3v1.3h-1.3zM151.2 683.6h1.3v1.3h-1.3zM164.5 673.4h1.3v1.3h-1.3zM141.6 681.9h1.3v1.3h-1.3zM163.6 676.6h1.3v1.3h-1.3zM154.8 685.3h1.3v1.3h-1.3zM136.0 716.3h1.3v1.3h-1.3zM151.6 693.9h1.3v1.3h-1.3zM149.1 682.3h1.3v1.3h-1.3zM152.3 676.8h1.3v1.3h-1.3zM165.6 679.1h1.3v1.3h-1.3zM148.6 700.8h1.3v1.3h-1.3zM136.3 697.6h1.3v1.3h-1.3zM160.5 695.6h1.3v1.3h-1.3zM139.9 689.4h1.3v1.3h-1.3zM145.4 687.7h1.3v1.3h-1.3zM150.5 665.8h1.3v1.3h-1.3zM177.6 652.6h1.3v1.3h-1.3zM147.0 685.5h1.3v1.3h-1.3zM154.9 674.1h1.3v1.3h-1.3zM135.1 698.9h1.3v1.3h-1.3zM136.0 684.6h1.3v1.3h-1.3zM149.5 691.4h1.3v1.3h-1.3zM154.9 687.6h1.3v1.3h-1.3zM150.4 694.8h1.3v1.3h-1.3zM148.4 674.7h1.3v1.3h-1.3zM163.7 667.7h1.3v1.3h-1.3zM157.1 671.2h1.3v1.3h-1.3zM164.5 677.5h1.3v1.3h-1.3zM156.5 673.0h1.3v1.3h-1.3zM145.4 673.5h1.3v1.3h-1.3zM162.9 676.5h1.3v1.3h-1.3zM136.5 678.1h1.3v1.3h-1.3z"/><path fill="rgb(120,120,120)" d="M158.2 667.4h1.3v1.3h-1.3zM177.1 672.0h1.3v1.3h-1.3zM148.2 679.8h1.3v1.3h-1.3zM149.7 668.9h1.3v1.3h-1.3zM152.6 673.0h1.3v1.3h-1.3zM138.0 685.2h1.3v1.3h-1.3zM156.0 676.7h1.3v1.3h-1.3zM138.0 671.3h1.3v1.3h-1.3zM152.7 659.7h1.3v1.3h-1.3zM138.6 705.7h1.3v1.3h-1.3zM162.8 667.6h1.3v1.3h-1.3zM144.6 687.8h1.3v1.3h-1.3zM128.1 676.6h1.3v1.3h-1.3zM147.8 666.2h1.3v1.3h-1.3zM167.4 681.5h1.3v1.3h-1.3zM172.0 665.6h1.3v1.3h-1.3zM164.8 662.3h1.3v1.3h-1.3zM141.5 695.2h1.3v1.3h-1.3zM148.7 669.2h1.3v1.3h-1.3zM129.3 681.5h1.3v1.3h-1.3zM138.6 675.1h1.3v1.3h-1.3zM145.5 678.0h1.3v1.3h-1.3zM139.8 691.6h1.3v1.3h-1.3zM146.3 662.3h1.3v1.3h-1.3zM143.1 683.8h1.3v1.3h-1.3zM147.3 662.5h1.3v1.3h-1.3zM149.8 672.7h1.3v1.3h-1.3zM154.5 687.3h1.3v1.3h-1.3zM151.3 665.5h1.3v1.3h-1.3zM151.6 667.6h1.3v1.3h-1.3zM147.4 680.6h1.3v1.3h-1.3zM158.7 664.1h1.3v1.3h-1.3zM168.1 666.3h1.3v1.3h-1.3zM159.9 697.8h1.3v1.3h-1.3zM148.1 682.3h1.3v1.3h-1.3zM147.4 693.1h1.3v1.3h-1.3zM132.2 692.2h1.3v1.3h-1.3zM141.4 672.4h1.3v1.3h-1.3zM144.9 686.3h1.3v1.3h-1.3zM144.3 671.0h1.3v1.3h-1.3zM138.0 688.0h1.3v1.3h-1.3zM124.2 684.0h1.3v1.3h-1.3zM139.3 685.4h1.3v1.3h-1.3zM169.7 668.1h1.3v1.3h-1.3zM153.6 690.3h1.3v1.3h-1.3zM139.1 692.3h1.3v1.3h-1.3zM138.5 700.8h1.3v1.3h-1.3zM146.2 688.0h1.3v1.3h-1.3zM121.4 697.2h1.3v1.3h-1.3zM145.7 688.8h1.3v1.3h-1.3zM138.2 701.1h1.3v1.3h-1.3zM143.2 681.5h1.3v1.3h-1.3zM167.8 669.6h1.3v1.3h-1.3zM164.0 658.5h1.3v1.3h-1.3zM155.8 677.6h1.3v1.3h-1.3zM162.7 665.0h1.3v1.3h-1.3zM127.3 705.1h1.3v1.3h-1.3zM136.0 694.3h1.3v1.3h-1.3zM155.4 686.2h1.3v1.3h-1.3zM139.5 677.3h1.3v1.3h-1.3zM190.7 649.4h1.3v1.3h-1.3zM138.1 688.4h1.3v1.3h-1.3zM149.5 683.5h1.3v1.3h-1.3zM167.7 681.0h1.3v1.3h-1.3zM155.7 666.0h1.3v1.3h-1.3zM151.8 677.4h1.3v1.3h-1.3zM157.8 673.4h1.3v1.3h-1.3zM178.6 683.6h1.3v1.3h-1.3zM163.4 679.2h1.3v1.3h-1.3zM156.2 676.8h1.3v1.3h-1.3zM162.8 672.5h1.3v1.3h-1.3zM162.6 665.2h1.3v1.3h-1.3zM149.0 677.2h1.3v1.3h-1.3zM161.5 669.3h1.3v1.3h-1.3zM150.4 669.9h1.3v1.3h-1.3zM138.8 704.4h1.3v1.3h-1.3zM138.1 685.9h1.3v1.3h-1.3zM149.9 664.3h1.3v1.3h-1.3zM147.2 671.8h1.3v1.3h-1.3zM157.7 672.7h1.3v1.3h-1.3zM150.8 692.6h1.3v1.3h-1.3zM158.8 676.0h1.3v1.3h-1.3zM158.3 675.6h1.3v1.3h-1.3zM152.7 689.5h1.3v1.3h-1.3zM130.2 695.3h1.3v1.3h-1.3zM153.6 656.7h1.3v1.3h-1.3zM158.3 668.8h1.3v1.3h-1.3zM166.0 670.2h1.3v1.3h-1.3zM161.3 685.1h1.3v1.3h-1.3zM135.4 686.8h1.3v1.3h-1.3zM148.9 670.5h1.3v1.3h-1.3zM144.9 680.8h1.3v1.3h-1.3zM147.1 690.4h1.3v1.3h-1.3zM152.6 676.1h1.3v1.3h-1.3zM173.3 670.0h1.3v1.3h-1.3zM159.6 675.2h1.3v1.3h-1.3zM147.9 679.3h1.3v1.3h-1.3zM153.8 669.8h1.3v1.3h-1.3zM137.3 675.9h1.3v1.3h-1.3zM154.2 671.7h1.3v1.3h-1.3zM138.3 701.0h1.3v1.3h-1.3zM161.8 674.3h1.3v1.3h-1.3zM131.5 693.2h1.3v1.3h-1.3zM159.9 680.1h1.3v1.3h-1.3zM154.6 677.8h1.3v1.3h-1.3zM158.9 660.1h1.3v1.3h-1.3zM158.9 696.2h1.3v1.3h-1.3zM148.3 675.9h1.3v1.3h-1.3zM165.6 660.3h1.3v1.3h-1.3zM148.1 686.9h1.3v1.3h-1.3zM162.1 668.1h1.3v1.3h-1.3zM157.9 662.8h1.3v1.3h-1.3zM138.3 688.0h1.3v1.3h-1.3zM159.3 672.5h1.3v1.3h-1.3zM150.0 679.4h1.3v1.3h-1.3zM161.5 690.7h1.3v1.3h-1.3zM156.8 669.1h1.3v1.3h-1.3zM135.6 705.1h1.3v1.3h-1.3zM160.4 687.1h1.3v1.3h-1.3zM151.6 680.0h1.3v1.3h-1.3zM154.9 681.6h1.3v1.3h-1.3zM185.3 652.6h1.3v1.3h-1.3zM140.7 677.1h1.3v1.3h-1.3zM180.9 662.8h1.3v1.3h-1.3zM163.2 675.5h1.3v1.3h-1.3zM115.7 684.1h1.3v1.3h-1.3zM160.8 658.0h1.3v1.3h-1.3zM177.5 658.9h1.3v1.3h-1.3zM157.7 670.8h1.3v1.3h-1.3zM163.7 677.7h1.3v1.3h-1.3zM133.8 681.3h1.3v1.3h-1.3z"/><path fill="rgb(100,100,100)" d="M146.0 722.7h1.2v1.2h-1.2zM146.7 725.5h1.2v1.2h-1.2zM143.8 720.9h1.2v1.2h-1.2zM143.3 735.9h1.2v1.2h-1.2zM156.2 726.9h1.2v1.2h-1.2zM142.3 679.7h1.2v1.2h-1.2zM153.9 705.6h1.2v1.2h-1.2zM138.2 724.8h1.2v1.2h-1.2zM154.3 708.1h1.2v1.2h-1.2zM143.5 712.2h1.2v1.2h-1.2zM147.2 698.9h1.2v1.2h-1.2zM150.0 710.6h1.2v1.2h-1.2zM138.1 697.4h1.2v1.2h-1.2zM140.0 722.5h1.2v1.2h-1.2zM153.9 705.1h1.2v1.2h-1.2zM146.4 708.7h1.2v1.2h-1.2zM141.8 715.6h1.2v1.2h-1.2zM151.8 719.6h1.2v1.2h-1.2z"/><path fill="rgb(80,80,80)" d="M147.1 718.7h1.2v1.2h-1.2zM149.8 723.8h1.2v1.2h-1.2zM143.8 689.1h1.2v1.2h-1.2zM149.0 726.7h1.2v1.2h-1.2zM156.4 717.7h1.2v1.2h-1.2zM165.1 718.6h1.2v1.2h-1.2zM155.2 722.6h1.2v1.2h-1.2zM147.6 705.9h1.2v1.2h-1.2zM137.3 730.3h1.2v1.2h-1.2zM133.5 702.8h1.2v1.2h-1.2zM145.9 710.4h1.2v1.2h-1.2zM143.1 726.9h1.2v1.2h-1.2zM140.6 724.5h1.2v1.2h-1.2zM145.4 719.0h1.2v1.2h-1.2zM137.9 715.3h1.2v1.2h-1.2zM144.5 730.8h1.2v1.2h-1.2z"/><path fill="rgb(60,60,60)" d="M151.4 716.6h1.2v1.2h-1.2zM165.1 712.6h1.2v1.2h-1.2zM147.9 725.4h1.2v1.2h-1.2zM133.3 724.6h1.2v1.2h-1.2zM153.1 739.1h1.2v1.2h-1.2zM142.4 702.9h1.2v1.2h-1.2zM154.3 721.1h1.2v1.2h-1.2z"/><ellipse cx="151" cy="693" rx="12" ry="8" fill="#858585" opacity="0.85" filter="url(#b1)"/><rect x="58.5" y="600.2" width="143.5" height="142.5" fill="none" stroke="#000" stroke-width="2.4"/><line x1="97.2" y1="600.2" x2="97.2" y2="742.7" stroke="#000" stroke-width="2"/><line x1="58.5" y1="705.3" x2="202" y2="705.3" stroke="#000" stroke-width="2"/><rect x="61.8" y="638.8" width="31.8" height="64" fill="none" stroke="#000" stroke-width="2"/><rect x="115.6" y="638.3" width="64.9" height="64.9" fill="none" stroke="#000" stroke-width="2"/><path d="M78,638 V619.8 H232" fill="none" stroke="#000" stroke-width="3.8"/><path d="M231,613.8 L243.5,619.8 L231,625.8 Z" fill="#000"/><path d="M147.4,703 V722.3 H232" fill="none" stroke="#000" stroke-width="3.6"/><path d="M231,716.3 L243.5,722.3 L231,728.3 Z" fill="#000"/><line x1="41.3" y1="741.7" x2="41.3" y2="610" stroke="#000" stroke-width="2"/><path d="M35,611.3 L41.4,598.7 L47.8,611.3 Z" fill="#000"/><line x1="58" y1="760.3" x2="189" y2="760.3" stroke="#000" stroke-width="2"/><path d="M187.5,754 L201,760.3 L187.5,766.6 Z" fill="#000"/><text x="118.2" y="783.6" font-size="18">D3</text><text transform="translate(29.8,696.6) rotate(-90)" font-size="17.5">Bcl-x<tspan font-size="11" dy="4.5">L</tspan></text><line x1="262.1" y1="741" x2="262.1" y2="609" stroke="#000" stroke-width="2"/><path d="M256.2,610.4 L262.2,598.2 L268.3,610.4 Z" fill="#000"/><line x1="277.8" y1="760.2" x2="393" y2="760.2" stroke="#000" stroke-width="2"/><path d="M392.3,754 L406.2,760.2 L392.3,766.4 Z" fill="#000"/><text x="320.5" y="784.8" font-size="17.5">B220</text><text transform="translate(249.3,697.6) rotate(-90)" font-size="18">Count</text><path d="M279,661V641.8H280.0V620.0H281.0V619.5H282.0V642.8H283.0V645.7H284.0V646.3H285.0V643.2H286.0V635.7H287.0V635.5H288.0V640.3H289.0V641.3H290.0V642.1H291.0V640.1H292.0V643.5H293.0V643.5H294.0V639.8H295.0V628.9H296.0V628.6H297.0V639.5H298.0V639.5H299.0V636.6H300.0V636.2H301.0V635.9H302.0V633.5H303.0V633.4H304.0V635.3H305.0V634.6H306.0V633.4H307.0V637.0H308.0V635.7H309.0V635.9H310.0V633.8H311.0V634.2H312.0V635.5H313.0V639.7H314.0V640.4H315.0V628.6H316.0V629.1H317.0V635.6H318.0V636.4H319.0V637.7H320.0V634.0H321.0V633.1H322.0V636.6H323.0V642.6H324.0V640.3H325.0V622.5H326.0V622.7H327.0V625.0H328.0V632.2H329.0V647.3H330.0V643.3H331.0V642.0H332.0V639.9H333.0V640.0H334.0V642.9H335.0V644.1H336.0V642.4H337.0V621.7H338.0V623.4H339.0V628.7H340.0V628.8H341.0V629.0H342.0V640.7H343.0V650.0H344.0V646.0H345.0V649.6H346.0V649.9H347.0V650.4H348.0V649.9H349.0V650.4H350.0V649.3H351.0V649.7H352.0V649.2H353.0V647.8H354.0V651.5H355.0V650.3H356.0V648.6H357.0V649.9H358.0V649.7H359.0V649.1H360.0V649.0H361.0V649.8H362.0V650.1H363.0V650.0H364.0V649.2H365.0V647.3H366.0V648.1H367.0V647.8H368.0V649.5H369.0V650.7H370.0V650.3H371.0V650.2H372.0V650.1H373.0V647.4H374.0V649.8H375.0V648.9H376.0V640.3H377.0V641.8H378.0V646.9H379.0V646.3H380.0V648.5H381.0V647.3H382.0V646.1H383.0V646.5H384.0V648.1H385.0V646.5H386.0V647.0H387.0V648.9H388.0V645.6H389.0V645.0H390.0V649.0H391.0V650.2H392.0V650.1H393.0V650.4H394.0V654.1H395.0V652.7H396.0V651.6H397.0V653.6H398.0V654.8H399.0V651.5H400.0V651.8H401.0V653.1H402.0V657.0H403.0V655.8H404.0V659.4H405.0V660.3H406.0V661Z" fill="#000"/><path d="M279,743.5V725.9H280.0V726.7H281.0V723.6H282.0V724.2H283.0V727.7H284.0V727.4H285.0V727.2H286.0V722.2H287.0V722.2H288.0V724.4H289.0V725.3H290.0V725.1H291.0V726.6H292.0V727.9H293.0V722.1H294.0V721.5H295.0V723.9H296.0V723.9H297.0V721.6H298.0V722.8H299.0V725.7H300.0V724.8H301.0V721.6H302.0V718.8H303.0V720.1H304.0V721.0H305.0V722.8H306.0V723.3H307.0V720.3H308.0V716.6H309.0V721.5H310.0V722.9H311.0V723.1H312.0V723.0H313.0V721.6H314.0V720.8H315.0V717.9H316.0V720.6H317.0V721.5H318.0V719.0H319.0V721.8H320.0V720.9H321.0V719.2H322.0V719.7H323.0V720.7H324.0V723.8H325.0V722.4H326.0V714.7H327.0V715.8H328.0V729.6H329.0V730.2H330.0V731.8H331.0V731.0H332.0V732.2H333.0V733.3H334.0V733.7H335.0V735.4H336.0V733.0H337.0V736.3H338.0V733.5H339.0V736.3H340.0V733.7H341.0V736.5H342.0V735.4H343.0V734.6H344.0V734.8H345.0V735.5H346.0V735.4H347.0V734.3H348.0V734.0H349.0V735.5H350.0V737.3H351.0V735.8H352.0V733.2H353.0V736.3H354.0V735.7H355.0V736.3H356.0V732.9H357.0V735.2H358.0V731.4H359.0V732.7H360.0V729.7H361.0V728.3H362.0V725.0H363.0V726.5H364.0V725.6H365.0V724.8H366.0V727.2H367.0V724.6H368.0V725.3H369.0V721.3H370.0V721.5H371.0V719.4H372.0V720.4H373.0V716.7H374.0V719.5H375.0V714.4H376.0V716.5H377.0V712.7H378.0V713.4H379.0V715.4H380.0V709.4H381.0V709.8H382.0V711.5H383.0V715.7H384.0V711.1H385.0V712.2H386.0V714.8H387.0V712.1H388.0V713.2H389.0V708.7H390.0V709.3H391.0V708.0H392.0V707.9H393.0V716.8H394.0V716.6H395.0V719.4H396.0V718.7H397.0V718.5H398.0V720.5H399.0V722.9H400.0V720.1H401.0V722.4H402.0V719.3H403.0V720.2H404.0V720.9H405.0V722.5H406.0V743.5Z" fill="#000"/><rect x="279" y="598.2" width="127.3" height="63.4" fill="none" stroke="#000" stroke-width="2"/><rect x="279" y="680.6" width="127.3" height="63.4" fill="none" stroke="#000" stroke-width="2"/><text x="358" y="623.8" font-size="17.5">17%</text><text x="357.5" y="706.3" font-size="17.5">47%</text><path d="M343.9,623.8 V636.9 M343.9,630.2 H406" fill="none" stroke="#000" stroke-width="2"/><path d="M343.9,705.6 V718.6 M343.9,711.8 H406" fill="none" stroke="#000" stroke-width="2"/></svg></body></html>
